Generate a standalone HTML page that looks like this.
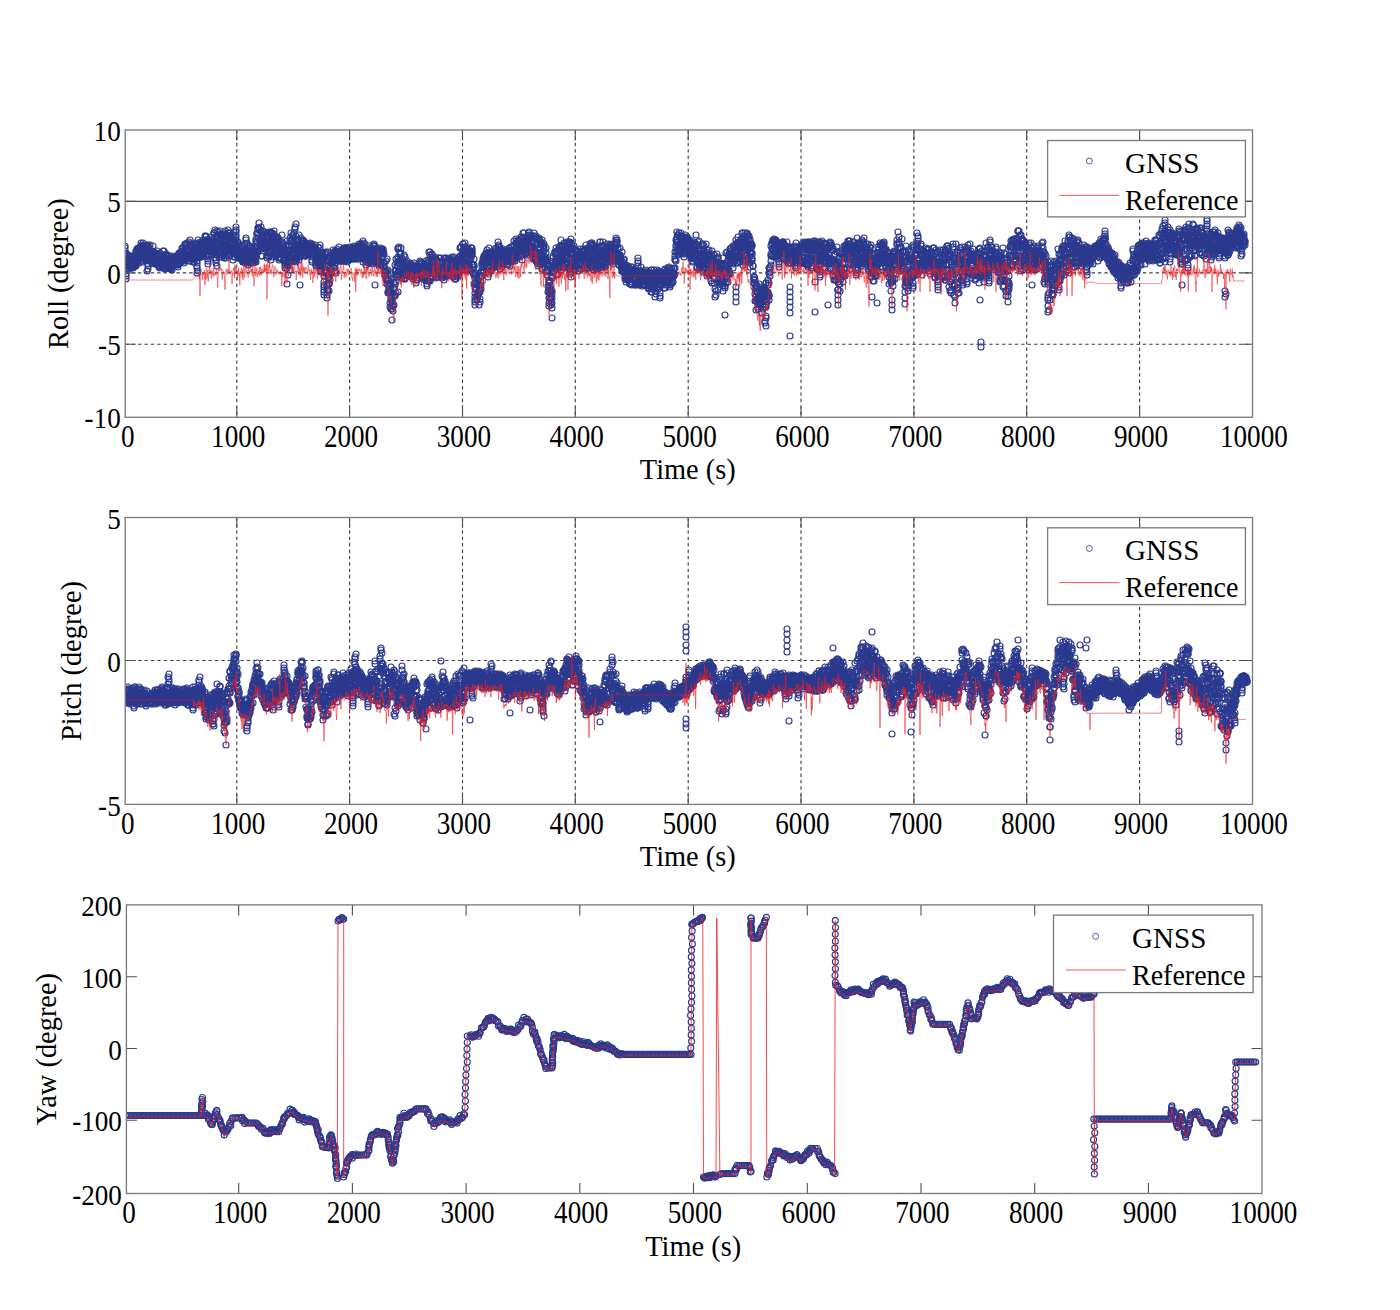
<!DOCTYPE html><html><head><meta charset="utf-8"><style>
html,body{margin:0;padding:0;background:#fff;overflow:hidden;width:1400px;height:1310px;}
.tt{font-size:28.4px}.tk2{font-size:28.4px}.lg{font-size:28px}
svg{display:block;font-family:"Liberation Serif",serif;font-size:27.5px;}
.gd{stroke:#3c3c3c;stroke-width:1.1;stroke-dasharray:3.4 3;fill:none}
.gs{stroke:#505050;stroke-width:1.1;fill:none}
.tk{stroke:#505050;stroke-width:1.1;fill:none}
.ax{stroke:#7c7c7c;stroke-width:1.35;fill:none}
rect.ax[fill]{fill:#fff}
</style></head><body>
<svg width="1400" height="1310" viewBox="0 0 1400 1310">
<defs><clipPath id="c0"><rect x="125.2" y="130" width="1127.3" height="287.3"/></clipPath><clipPath id="c1"><rect x="125.2" y="517.5" width="1127.3" height="286.9"/></clipPath><clipPath id="c2"><rect x="126.4" y="904.9" width="1135.6" height="288.6"/></clipPath><marker id="m" markerUnits="userSpaceOnUse" markerWidth="10" markerHeight="10" refX="5" refY="5" overflow="visible"><circle cx="5" cy="5" r="3" fill="none" stroke="#2b3a8e" stroke-width="1.15"/></marker></defs>
<line x1="236.8" y1="130" x2="236.8" y2="417.3" class="gd"/>
<line x1="349.6" y1="130" x2="349.6" y2="417.3" class="gd"/>
<line x1="462.5" y1="130" x2="462.5" y2="417.3" class="gd"/>
<line x1="575.3" y1="130" x2="575.3" y2="417.3" class="gd"/>
<line x1="688.2" y1="130" x2="688.2" y2="417.3" class="gd"/>
<line x1="801" y1="130" x2="801" y2="417.3" class="gd"/>
<line x1="913.9" y1="130" x2="913.9" y2="417.3" class="gd"/>
<line x1="1026.7" y1="130" x2="1026.7" y2="417.3" class="gd"/>
<line x1="1139.6" y1="130" x2="1139.6" y2="417.3" class="gd"/>
<line x1="125.2" y1="201.4" x2="1252.5" y2="201.4" class="gs"/>
<line x1="125.2" y1="272.9" x2="1252.5" y2="272.9" class="gd"/>
<line x1="125.2" y1="344.3" x2="1252.5" y2="344.3" class="gd"/>
<g clip-path="url(#c0)"><path d="M125 251l0 3 0-6 0-2 0 19 1-5 0 6 0 10 0-18 0 9 0-4 0 6 0 10 0-8 0-10 0-6 0 9 0 10 1-20 0 8 0-7 0 10 0 1 1-8 0 4 0 2 0-6 0 4 1 7 0-10 0 8 0-2 0-6 0 2 1-2 0-3 0 5 1 7 0-3 0-8 0-1 0 8 0-7 1 2 0-2 0 3 0 7 0-7 1 1 0 7 0-8 0 6 0-2 0-7 1-1 0 6 0-4 0 9 0-4 0-4 1 2 0-5 0 7 0 2 1-13 0-1 0 7 0 2 0 6 0-1 1-8 0 5 0-13 0 8 1-8 0-1 0 5 0 4 0 0 0-2 0-2 1 2 0 5 0-6 0 9 0-15 0 12 1-11 0 1 0 3 0-5 1-5 0 8 0-5 0 9 0-6 1-4 0 12 0 4 0-7 1 3 0-4 0 9 0-10 0 1 0-7 0-3 1 4 0 11 0-8 0-1 0-3 1 6 0-1 1 5 0-11 0 8 0 8 0-10 0 9 0-10 1 10 0-13 0-1 0 4 0 9 0 12 0-17 1 12 0-21 0 1 0 18 0 5 0-16 0-2 1 7 0-9 0 7 0 0 0-3 0 4 0-4 1 2 0-10 0 4 1 7 0-1 0 6 0-7 0 6 0-3 0-6 1 4 0-1 0 9 0 0 1-4 0-4 0-9 0 13 0 4 0-9 1 3 0-5 0 9 0 0 1-6 0 0 0 7 0-8 0 2 0 8 0-10 0 8 1 2 0-11 0 6 1-8 0 4 0 0 0 5 0 0 1 3 0-5 0 4 0 3 0-6 1 4 0-1 0 4 0 1 0-4 0 3 1-9 0-4 0 2 0 13 0-2 0-7 1-3 0 2 0 6 0-8 0 1 1 4 0-1 0-1 0 1 0-2 0 6 1 2 0 0 0-6 0-9 1 0 0 7 0 3 0 7 0-7 0 2 0-5 1 10 0 1 0 0 1-3 0-6 0 7 0-4 0-9 1 1 0 0 0 10 0 2 0-4 1-7 0 12 0-5 0-1 0-3 1 6 0 3 0-10 0-2 0 2 0 3 1 8 0-8 0 5 0 0 0-9 1 4 0 7 0-2 0 3 1 1 0-9 0-4 0 6 0-7 1 8 0-3 0-1 0 5 0 0 0-3 0 0 1-1 0 2 0-5 0 3 0 1 1 3 0-5 0-3 1-1 0 4 0-2 0 3 0 3 0-2 0-3 0 2 1-5 0 8 0 1 0-5 1 2 0 5 0-8 0-3 0 6 0 3 1-10 0 6 0-6 0 1 0-3 1 9 0 0 0-8 0 0 1 7 0-9 0 8 0 2 0-9 0 5 1-7 0 9 0-5 0-7 0 5 1 7 0-9 0 5 0 5 0-9 0 0 0-4 1 4 0 2 0 9 1-2 0-3 0-3 0-8 0-3 0 1 0 13 1-6 0-7 0 12 0-8 1 9 0-1 0 0 0-1 0-13 0 13 1 0 0 1 0-5 0 7 0-12 0 9 1-7 0 12 0-19 0 13 0-5 1-10 0 17 0 4 0-3 0-13 0 1 0 8 1-10 0 0 0 10 0-9 1 10 0 3 0-12 0 1 0 0 1 9 0 3 0 3 0-5 0-6 1 11 0-3 0-3 0-4 0 5 0-12 1 0 0 12 0-4 0-1 0 1 1 5 0-5 0-9 0 7 0 2 0-10 1 4 0 21 0-24 0 22 0-15 0 22 0-10 0-2 0-10 1 1 0 6 0 13 0-18 0-13 0 6 1 3 0-4 0 12 0-1 0-6 0-1 1-7 0 8 0-2 0 5 0 2 0-9 0-2 1 13 0 0 0-3 1-12 0 14 0-5 0-2 0 7 1-16 0 3 0 12 0-7 0 5 1-2 0-2 0 4 0-2 0-8 0 3 1-2 0-4 0-4 0 11 1-10 0-1 0 8 0 12 0-11 0-3 0 4 1-6 0 8 0-7 0 5 0 1 1 17 0-3 0-13 0 9 0-10 0 12 0-5 1-9 0-6 0 17 0-16 1 5 0-4 0 3 0 3 0-2 0 6 0-1 1-9 0 4 0 2 0-10 0 18 1-13 0-1 0 9 0-1 0 1 0-3 1 6 0-10 0 9 0-1 0-8 0 0 1-2 0-8 0 14 0-14 1 4 0 15 0-2 0-20 0 28 1-19 0 4 0 17 0-10 0-5 0 18 0-11 0 8 1-29 0 24 0 11 0-31 0 13 0-8 1 13 0-9 0-6 0 13 0-19 1 25 0-7 0-7 0-2 0 4 1-14 0 8 0 15 0-2 0 1 1-18 0 8 0 8 0-17 0 1 0 5 1-4 0 9 0-2 0 14 1-12 0 10 0-10 0 1 0 2 1-11 0-4 0 8 0 17 0-6 0-17 1 9 0 1 0-4 0 15 0-25 1 4 0 23 0-11 0-11 0 9 0 4 1-12 0 18 0-9 0 0 1-10 0-6 0 3 0 0 0 5 1 11 0 6 0-4 0 1 0-13 0 17 1-7 0-10 0 6 0-12 0 17 1-3 0 1 0-11 1 5 0 10 0-13 0 4 0-4 0 4 0 7 1-1 0 11 0-11 0-14 0 16 0-12 0 14 0-4 1-12 0 20 0-25 0 20 0-9 0-3 0 4 1 8 0 5 0-13 0 8 1-8 0 10 0-19 0 19 0-4 0-13 0-5 0-2 0 10 0-13 0 22 1 6 0-4 0 1 0-6 0 3 1 5 0-12 0 1 0 15 0-3 0-4 1 2 0 2 0 2 0 1 0-1 0-12 1 1 0 0 0 2 1 11 0-3 0-7 0 7 0 0 0-1 0-2 1-1 0 4 0 0 0 0 1-10 0 12 0 4 0-1 0 1 0-9 1 6 0 2 0-4 0-6 0 2 1 9 0-10 0-8 0 6 0 5 1 8 0-9 0 5 0-1 0 4 0-22 0-2 1 24 0-7 0-12 0 19 0-17 0 16 1 4 0-3 0 0 0 1 0-9 0-2 1 6 0-1 0-11 0 9 0-4 0 0 1-3 0-2 0 15 0-13 1 4 0 5 0-1 0-7 0 14 0-7 1 0 0 7 0-13 0 11 0-4 1-7 0 6 0 4 0-1 0 2 1-6 0 3 0-7 0 4 0-2 0 8 1-10 0 9 0 2 1 0 0-5 0-14 0-2 0 8 0 5 0-15 1 7 0-13 0 9 0-8 0 17 0-4 1-19 0 0 0 9 0-4 0 19 1-29 0 7 0-1 0-1 1 19 0-2 0-5 0 0 0 9 1-2 0-20 0 16 0 13 0-15 0-10 1 25 0-12 0-2 0 3 0-7 0 1 1 5 0-1 0-9 0 14 0-17 1 16 0-15 0 8 0 0 0 2 1 3 0 4 0-15 0 14 0-14 0 11 1-3 0 3 0 0 0-9 1 0 0 5 0 14 0-11 0 14 0-10 0-14 1 8 0 3 0 7 0 4 1-10 0-14 0 1 0 24 0-12 1 9 0-2 0-8 0-1 0-9 1 14 0 4 0-19 0-1 0 28 1-5 0-22 0 6 0 5 0-7 0 2 1 1 0-5 0 22 0-7 1-11 0 15 0-8 0-15 0 10 0-7 1 4 0 16 0-11 0 0 1 6 0 1 0 3 0 3 0-4 0-14 0 1 1 7 0-3 0-6 0 7 1 4 0-10 0 0 0 5 0 4 1 10 0-16 0 8 0 11 0-2 0-4 0 4 0-9 1-1 0-2 0 12 0-9 1-4 0 13 0-8 1 5 0-12 0 6 0 0 0-7 0-7 0 14 1 0 0 3 0-6 0 8 1 6 0-16 0 5 0 12 0-2 0-6 1 2 0 13 0-3 0-2 0-13 1 5 0-9 0 7 1 10 0 5 0-5 0-1 0 22 0-30 0 0 0-13 1 9 0 25 0-10 0 1 0-11 1 7 0-4 0-12 0 13 0-5 1 2 0-5 0 19 0-32 0 12 0-9 1-8 0 25 0-18 0 7 0 15 1-5 0-16 0-5 0 5 1 13 0-9 0 5 0-1 0-14 0 25 1-18 0 19 0-13 0 5 0-15 0 16 0-21 1 28 0-34 0 27 0-25 0 21 0-3 0 8 1-31 0 12 0 26 0-4 1 1 0-11 0 9 0-2 0-15 1 16 0-15 0 14 0-16 0 9 0-4 1 9 0-3 0-4 0 14 0-13 0-12 1 21 0-9 0 6 0 32 0-28 0-12 1-2 0-5 0 9 0 2 0 6 0-6 1-8 0 3 0 7 0-10 0 4 1-4 0 2 0-3 1 7 0 5 0-9 0-2 0 11 0-7 0 3 1 8 0 0 0-3 0 2 0-7 0 7 1 1 0-12 0 1 1 7 0-4 0 6 0-1 0-5 1-4 0 4 0-4 0 9 0-2 0-1 0-4 1-1 0 7 0-5 0 1 0-2 1 4 0-1 0-6 0 9 0-5 1 4 0-5 0 4 0-6 0 2 0 3 1-5 0 16 0 2 0-9 0-5 0 5 1 2 0-1 0 3 0 0 0-10 1 0 0 3 0-3 0 6 0-5 0 2 1-2 0 2 0-5 1 15 0-2 0-9 0 12 0 5 0-1 0-2 0-2 1-4 0-6 0 5 0 2 1 2 0 2 0-15 0 11 0-1 1 8 0-5 0-2 0 8 0 0 0-11 1 9 0-19 0 20 0-17 0 6 0 10 0 4 1-13 0 17 0-7 0 1 0 5 1-9 0 0 0-3 0 7 0-14 0 1 0 7 1 3 0-8 0 6 1 29 0-22 0 24 0-30 0 25 0 8 0-13 0-6 0-4 0 13 0-28 1 16 0-2 0-18 0 12 0 6 1-17 0-2 0 9 0 0 0 11 0 0 0-17 1 35 0 5 0-11 0 14 0-12 1-21 0 25 0 0 0-38 0 26 0-21 1 17 0 3 0 7 0-1 0 8 0-7 1-9 0 5 0-23 0 11 1 5 0 0 0-12 0 2 0 9 0-2 1-16 0 5 0 8 0-4 1-5 0 5 0-4 0 2 0-4 0-7 0 9 1-7 0 9 0-5 0 12 0-15 0 6 1-8 0 20 0-18 0 6 0 7 0-5 0-9 0 11 0-10 1 20 0-22 0 1 0 2 0 3 0-2 1-1 0 0 0 0 0 1 0 2 0-8 1 5 0-3 0 6 0 1 1 3 0-4 0-4 0 6 0-12 0 8 0-3 1 9 0-3 0 1 0-3 1-5 0 0 0 4 0-1 0 7 1 0 0-3 0 0 0 3 1-3 0-1 0-7 0-1 0 12 0-2 1-5 0 1 0 2 0-9 0 2 0 7 0 3 1-8 0-4 0 13 1-12 0 8 0-9 0 6 0 2 0-6 0 0 1-2 0 7 0 7 1-1 0-1 0-1 0-11 0 4 0 3 1-3 0 5 0-5 0 2 0 1 0-4 1-4 0 12 0-1 0-8 0 7 1-5 0 7 0-11 0 6 0-1 0 3 1 3 0-11 0 9 0-4 1 0 0 6 0-6 0-3 1 3 0-2 0 6 0-7 0-3 0-1 1 4 0 0 0 8 0-9 0 3 0 2 1-1 0-1 0-4 0 11 0 0 1-7 0-5 0 7 0-2 0-5 1 4 0 5 0 3 0-9 0 5 0-1 0-7 1 0 0 1 0-4 0 2 1 9 0-1 0-5 0 0 0 9 0-4 1-10 0 0 0 10 1-2 0-4 0 8 0-11 0 4 0-2 0 6 1-6 0-4 0-2 0 13 0 4 0 4 0-3 1-5 0 0 0-6 0 9 1 3 0-16 0 12 0 4 0-7 0-1 1-1 0 0 0 14 0-10 0 7 0-14 0 9 1-7 0 0 0 4 0 0 0 6 1 0 0-3 0 1 0-3 0 4 0 2 0 2 1-4 0-8 0-5 0 7 1 3 0-7 0 4 0-3 0 0 0 12 0 1 1-7 0-8 0 6 1 3 0 2 0 5 0-14 0 10 1-7 0 4 0-2 0-10 0 3 0 13 1-4 0-1 0-10 0-2 0 8 1 0 0-6 0 16 0 23 0-29 0 2 1 5 0-13 0 6 0-6 0 12 1-10 0 4 0 4 0-9 0 10 0-9 1 11 0-12 0 0 1-1 0 12 0-7 0 11 0-5 0 3 0-3 1 3 0-10 0-6 0 3 0 10 1-7 0 0 0-5 0 13 0 3 0-1 1-15 0 3 0-1 0 7 1-7 0-2 0 4 0-2 0 2 1 9 0-8 0 12 0-3 0 3 1 6 0-2 0 6 0 0 0-6 1 2 0 1 0 6 0-3 0-3 0-12 1-2 0 12 0 13 0-5 1-9 0 4 0 19 0-13 0 12 0-7 0-5 1 11 0-8 0 10 0-4 1-3 0 4 0-1 0 14 0-20 0 24 1-16 0-6 0 14 0-1 0 11 1-13 0 9 0 4 0-7 0-1 0 19 1-14 0 0 0 5 1-22 0 7 0 9 0-27 0 4 0 6 1-13 0 10 0-14 0 24 0-30 0 31 1-25 0 22 0-22 0 6 0-18 0 23 1-7 0-9 0 8 0-11 1-6 0-8 0 43 0-44 0 18 0-7 0 13 1-1 0-10 0-14 0 25 0-9 1 1 0-4 0-6 0-1 0 7 1-12 0 5 0 21 0-13 1-3 0 1 0 12 0 5 0 2 0-11 1 8 0-11 0 9 0 3 0-14 1 3 0-10 0 16 0 2 0 6 1-9 0 8 0-4 0 5 0-8 0-3 0-11 1 14 0-4 1-6 0 14 0-10 0-2 0 5 0 3 0 0 0-7 1 3 0 2 0 7 1-1 0-11 0 10 0 0 0 2 1-6 0 5 0-2 0-10 0 13 0 0 0-5 0 2 1-3 0 5 0 2 0-1 0-8 1 5 0-7 0 2 1 6 0 2 0-3 0-3 0 9 0-14 1 4 0 2 0 6 0-4 0-10 0 9 1 0 0-1 0-1 1-2 0 0 0-2 0 9 0 0 0-8 0 13 0 3 0-18 1 4 0 11 0-6 0-1 0 1 0-3 1 2 0 0 0-3 0 3 1 2 0-4 0-2 0-1 0-1 1 0 0-1 0-2 0 4 0 3 0-10 1 11 0 1 0 3 0-14 0 1 0 1 1 13 0-4 0 5 0-15 1 7 0 4 0 2 0 3 0-13 1 4 0-5 0 2 0 11 0-13 1 10 0-5 0 8 0-7 0 4 0-11 0 12 1-15 0 19 0-7 0 8 0-14 1 11 0-4 0 1 0 9 0 2 0-23 0 5 1 3 0 10 0-21 0 14 0-8 1 15 0-7 0-12 0 6 0 3 0-19 1 16 0 13 0-3 0-26 0 3 1 9 0 9 0-5 0-8 0 6 1 12 0-8 0 2 0-17 0-1 0 13 0-9 1 9 0-8 0 3 1 6 0 0 0-7 0 12 0-13 0 13 1-16 0 11 0 1 0 6 1-1 0 4 0-19 0 7 0 9 0-5 1 7 0-11 0 5 0-10 0 13 1-11 0-2 0 12 0-1 0-4 1-10 0 19 0-19 0 16 0-7 0 4 1 0 0-8 0 10 0-4 1 0 0-1 0-10 0 17 0 0 0-7 1-3 0-2 0 9 0 6 1-3 0-3 0-5 0 1 0 2 0 0 0 0 0 1 1-5 0 8 0-16 0 22 1-22 0 18 0-9 0 10 1-13 0 3 0 2 0 3 0-14 0 10 0-6 1-1 0 10 0 4 0-12 1-5 0 13 0-10 0 13 0-10 0 12 1-14 0 13 0 0 0-4 1 3 0-2 0-5 0 6 0-13 1 13 0-14 0 10 0 0 0-9 1 11 0-5 0-9 0 12 0-4 0 5 1-12 0 11 0-1 0 9 1-14 0-3 0 5 0 8 0 2 0-6 0-12 1 18 0 1 0 3 0 0 1 0 0-13 0 2 0 9 0-6 0 2 0-10 1 8 0-7 0 9 0-4 0 4 1-11 0 2 0-1 0-3 0 16 1-8 0 6 0-8 0-1 0 10 1-8 0-10 0-1 0 5 0-13 1 17 0-18 0 0 0 12 0-1 0 5 1-9 0 11 1-21 0 11 0 3 0-14 0 11 0-5 0 3 1 17 0-21 0 5 0 10 1-17 0 4 0-4 0-4 0 27 0-13 0-8 0 2 1 7 0 9 0-1 0-3 1 7 0-1 0-10 0 12 0 0 1-12 0-11 0 6 0-1 0 8 0-9 1 15 0-1 0-14 0 15 0-3 1-9 0-4 0 0 0 2 0 7 0-1 1-11 0 4 0 6 0-10 1 0 0 7 0-3 0 2 0 11 0-14 1 14 0 8 0-8 0 4 1-4 0-6 0 15 0-7 0 17 0-9 1 3 0-5 0 10 0 10 0 12 0-8 0 3 0-27 0 15 0 14 1-20 0 1 0-7 0 13 0 1 1 6 0 4 0-1 0-14 1 10 0-2 0-13 0 14 0-10 0 12 1-11 0 8 0-3 0 15 0-27 0 7 1 14 0-7 0 10 0-13 1-16 0 16 0-4 0-13 0 4 0 6 1-19 0 8 0 5 0-12 0 3 1 3 0-6 0-2 0 2 0-5 1 12 0-5 0-5 0-5 0 6 0-5 0 1 1-1 0-2 0 5 1 0 0-6 0-1 0 10 1-4 0-9 0 11 0 0 0 0 0 0 1-1 0 5 0-8 0 15 0-4 0-12 0 21 0-21 1 11 0-6 0-13 0 26 0-7 0-15 0 1 1 8 0 7 0 0 1-14 0 12 0 5 0-10 0-9 0 14 0 4 1-8 0-2 0-2 0 2 0 2 1 0 0-9 0 8 0 3 0-9 0 13 1-10 0 8 0-8 0 4 1-11 0-2 0 12 0-5 0-2 1 5 0-5 0-6 0 17 0-12 0 2 1 8 0 1 0-1 0 4 1-17 0-1 0 14 0-16 0-5 0 13 0 11 1-13 0-8 0 19 0-17 0 8 0-4 0 2 0-6 1 3 0 8 0 0 0 7 0 4 1-7 0-3 0 2 0 3 1-3 0-10 0-1 0 17 0-12 0 9 1-15 0 4 0 0 0 12 0-4 1-1 0-9 0 4 0 5 0-7 0-3 0 10 1-5 0 6 0-5 1 5 0-7 0-3 0 7 0-4 0 2 1 2 0 0 0 3 0-5 0 8 1-5 0 6 0-11 0 0 0-3 0 4 0-5 1 7 0 3 0 2 0-14 1 5 0-3 0 16 0-15 0 0 1 11 0-10 0 5 0-10 0 9 1-9 0 13 0-3 0-1 0 4 0-4 1-2 0-1 0 8 0-9 1 0 0-11 0 14 0-10 0 14 0-3 1 1 0 4 0-2 0-10 1 9 0-15 0 12 0-16 0 8 1-2 0 12 0-6 0-8 0 8 0-8 1 4 0-7 0 1 0 3 1-4 0 9 0 7 0-14 0 8 0 6 1-1 0-6 0 8 0-1 0-16 0 11 1-2 0-3 0 7 0 1 0-17 0 15 1 8 0-17 0 12 0-17 0 7 1 1 0-13 0 18 0-2 1-6 0-6 0 14 0-18 0 14 1-6 0 1 0-4 0 16 0-10 0-6 1 6 0 9 0 0 0-13 1 12 0-4 0 3 0 4 0-15 0 9 1-3 0-6 0 13 0-17 0 3 1 1 0-5 0-3 0 1 0 16 0-5 1-7 0 14 0-12 0 9 0 3 1-16 0 17 0-5 1-10 0 15 0-9 0 5 0-1 0 5 0-11 0 0 1 10 0-5 0 8 0-2 0 7 1-9 0 8 0-22 0-3 0 17 1-13 0 17 0 4 0-8 0 9 1-1 0 1 0 2 0-16 0-6 0-3 1 19 0 7 0-7 0-16 0 4 1 21 0-3 0-2 0 7 0-9 1-19 0 11 0-10 1 17 0-13 0 0 0 21 0-23 0 12 0-6 0 16 1-20 0 2 0 8 0-11 1-2 0 22 0-7 0 14 0-26 1 3 0 10 0 9 0-5 0-8 0 7 1-10 0-3 0 5 0 12 0-19 1 15 0 1 0 0 0 8 0-11 1 4 0-2 0 4 0-15 0 5 0 19 1-1 0-6 0-4 0 9 0 5 1-11 0 28 0-21 0 15 1 12 0-16 0-2 0 23 0 3 0-18 0-5 0 8 1 2 0-7 0 11 0-15 0 8 1 12 0-13 0 9 0 7 0-14 0 9 0-8 1 11 0 5 0-32 0-4 0 46 0-20 0-4 0-16 0-9 0 9 0-2 0 15 1-33 0 10 0-2 0-3 0-7 1 9 0 2 0-1 0 5 1-4 0-4 0-11 0 2 0-2 1 11 0-2 0-13 0 13 0-9 0 7 0 10 1-11 0-4 0 12 0 1 0 8 1-25 0 24 0-6 0-14 1 13 0 1 0-11 0 9 0-3 0-4 0-12 1 11 0-12 0 4 0 5 1-15 0 21 0 2 0 7 0-3 0-21 1 16 0-15 0-1 0 5 0 9 0-9 1 1 0 7 0-11 0 12 0-5 1 12 0-24 0 17 0 8 0-8 0-15 1 10 0-3 0 1 0 11 1-2 0-7 0-4 0-1 0 14 1 4 0-4 0-6 0 8 0-24 0 8 0-2 1 4 0 12 0-18 0-3 1-1 0 1 0 7 0 0 0 10 1-6 0-10 0-2 0 27 0 0 0 5 0-29 1 14 0 10 0 8 0-29 0 18 0-27 0 33 1-28 0 11 0 3 0 5 0 0 1-1 0 5 0-19 0 13 0-7 0 4 0-5 0 12 1-19 0 20 0 4 0-8 1 8 0-16 0-4 0 20 0-3 1-6 0-5 0 2 0 8 0-16 1 6 0 4 0-5 0-4 0 1 0 4 1 15 0-11 0-8 0 6 1 6 0-1 0 2 0-8 0 3 0-2 1-6 0 12 0 5 0-1 0-5 0-14 1 7 0 0 0 8 0-7 1-2 0 11 0-14 0 4 1-7 0 8 0 1 0 10 0-7 0-10 0 1 1 6 0 8 0 0 0-14 1 5 0 12 0-11 0-8 0 12 0-13 1 12 0-7 0 3 0-2 0-10 1 23 0-7 0 7 0-10 1 1 0-10 0-1 0 11 0 9 1-9 0-2 0 11 0-20 0 3 0 12 0-7 1 9 0-6 0-8 0-7 0 22 0-1 1-22 0 22 0-16 1 1 0 16 0-21 0-2 0 2 1 8 0-8 0 22 0-4 0-13 1 4 0 16 0 0 0-6 0-18 0 12 0 2 1-3 0-5 0-1 0 17 1-6 0 1 0 6 0-9 0-5 0 4 0 2 1 5 0-5 0-12 0-1 0 9 1-4 0 16 0-19 0 17 0-4 1 1 0-17 0 18 0-11 1 13 0-25 0 14 0-14 0 4 0 21 0-16 0 14 1-9 0-3 1 4 0 4 0-15 0 1 0 20 0-1 0-11 1 8 0-17 0 0 0-4 0 14 1-1 0 12 0-11 0 11 0-3 0-14 1 4 0 11 0-2 0-6 0 10 1-5 0-9 0 1 0-5 0 16 1-16 0 3 0-8 0 8 1 8 0-11 0-2 0 8 1-5 0-4 0 14 0-8 0-2 0 8 1-13 0 11 0-12 0 6 0-2 1-3 0 3 0 12 0-8 0-2 0-4 0 15 0-7 1 4 0-1 0 5 1-5 0 7 0-11 0 0 0 3 0 3 1-15 0 13 0 3 0-10 1 0 0-2 0 0 0 5 0-9 0 8 1-14 0 4 0 10 0-12 0 5 1 10 0-15 0 2 0 3 0 16 1-1 0-1 0-1 0-4 0-6 1 8 0-1 0 5 0 5 1-3 0-4 0 4 0-3 0-11 0 7 0 0 1 4 0 5 0-5 0 8 0-6 1-9 0 16 0 2 0-2 0 3 1-5 0-4 0 10 0-1 1 0 0-4 0 5 0-6 0 4 0-11 0 1 0 7 1 1 0 9 0-11 0 13 1-13 0 16 0-9 0 4 0-12 0 5 1 9 0-8 0 6 0 3 1-7 0 6 0-13 0 14 0-8 0 0 1 7 0-11 0 11 0-6 1-2 0 13 0-8 0 8 1-13 0 13 0-17 0 8 0-4 0-2 0 10 1 6 0-3 0-12 0-3 0 8 0-5 1 9 0 1 0-6 0-1 1 0 0-3 0 10 0-2 0-5 1-1 0 1 0-2 0 6 0 2 0 6 1-10 0 3 0 0 0 7 0-14 1 12 0-13 0 1 0 4 0 9 1-12 0-14 0 16 0-11 0 13 0-10 0-5 0 23 1-7 0-3 0 11 0-7 0 6 0-7 1 6 0-11 0-1 0 6 0 8 0-12 1 4 0-6 0 3 0-7 0 9 1 0 0 3 0-2 0-6 0 11 0 4 1-12 0 6 0-7 0 1 1 10 0 0 0-8 0 9 0-9 1 9 0-10 0 10 0-5 0 0 1-3 0-5 0 0 0-2 0 3 0 5 1-5 0-1 0 7 0-4 0 7 0-9 1 11 0 4 0-4 1 2 0 3 0-15 0 12 0-5 0 7 0-14 0 9 1-2 0-6 0-2 0 10 1 3 0-16 0 9 0 13 1-22 0 19 0-7 0 10 0-19 0 6 1-2 0 4 0-4 0 1 0 7 1-5 0-10 0 19 0-16 0 2 0 12 0-11 1 5 0 2 0 14 0-6 0-6 1 9 0-15 0-6 0 8 0-4 1 3 0 5 0-15 0 13 0-5 0 9 1-14 0-1 0 0 0 8 0 9 0-9 0-6 1 1 0 6 0-10 0 9 1 18 0-5 0-9 0 1 0 11 0-11 0-1 1-5 0-1 0 6 0-10 0-2 0 5 1-2 0 4 0 1 0-1 0 6 0-5 0-5 1 2 0 0 0-3 1 8 0-9 0 15 0-5 0-10 0 12 1-13 0 16 0-18 0 5 0-6 0 1 1 10 0-2 0-4 1-2 0 10 0-6 0 5 0 4 0-11 0 2 1 5 0-13 0 0 0 1 0 12 1 2 0-8 0-8 1 18 0-14 0-1 0 17 0-2 1-9 0 2 0-8 0 0 0 14 0-7 0 0 1-1 0 7 0-1 0-6 0-7 1 13 0-6 0-2 0 3 1-3 0 1 0 0 0-2 0-5 0 8 0-7 1-10 0 1 0-8 0 16 0-12 1-11 0 16 0-21 0 8 1 3 0-19 0 20 0-15 0 5 0-2 1 15 0-13 0-7 0 10 0-10 1-2 0 19 0 2 0-10 0 2 0 4 1 2 0-6 0-2 0 3 0-10 1 4 0-8 0 3 0 15 0-4 1-9 0 6 0 6 0 4 0-6 0 3 1-3 0-11 0 12 1-12 0 8 0 4 0-6 0 6 0 8 1-10 0-3 0-9 0 18 0-8 0 9 0-3 1-3 0-1 0-9 0 10 1-11 0 4 0 10 0-4 0 5 1-3 0 0 0-10 0 2 0-2 1 4 0 11 0-5 0-2 0-3 1 6 0-10 0 9 0-7 1 16 0-3 0-4 0-1 0 6 0-9 0 5 0-9 1 14 0-3 0 0 0-2 0 10 1-9 0 4 0 0 0 4 1-15 0 13 0-17 0 16 0-14 1 2 0 5 0-6 0 5 0-7 1-8 0 18 0 0 0 0 0-9 0 13 1 10 0-22 0 15 0 1 0 7 1-8 0-7 0 7 0-18 0 9 1 0 0 13 0-15 0-8 0 9 0 15 0 4 1-3 0-8 0 0 0 10 1-14 0 4 0 7 0-16 1-5 0 19 0-2 0-6 1-4 0 13 0-20 0 24 0-7 0 11 0-7 1-2 0-17 0 21 0-16 0 6 1-2 0 1 0-2 0 14 0-7 1-7 0-10 0 16 0 4 0 6 0-13 1-7 0 2 0 21 0 3 1-6 0 0 0-16 0 2 0 7 1-3 0-3 0-7 0 13 0 7 0-5 0 10 1-21 0 11 0 8 0 1 1-20 0 19 0-2 0 10 0-12 1-4 0-3 0 4 0-6 0 23 0-25 0-7 1 20 0-11 0 5 0-3 0 1 1-8 0 24 0-15 0-9 0 28 1 6 0-28 0 12 0 24 1-2 0-32 0 28 0-29 0 2 0-6 0 13 1-4 0-1 0 4 0-16 0 8 0 3 1-7 0 22 0-15 0 9 0-17 0 33 1-27 0 19 0-12 0-2 0 15 1-4 0 4 0-11 0-3 0 4 1-3 0 13 0-18 0 6 0-8 1 19 0-17 0 15 0 2 0-18 0 18 1-24 0 33 0-13 0 8 0-2 1-19 0 6 0 0 1-3 0 18 0-21 0 50 0-27 0-9 0-7 1-4 0 3 0 12 0-6 0-24 0 10 1 13 0-10 0 4 0-2 0 11 0-27 1 22 0-14 0 22 1-26 0 0 0 18 0-4 0-16 0 18 0-18 1 8 0-13 0 25 0-14 1-7 0 0 0 7 0-3 0-9 0 1 0 14 0-12 1 6 0 2 1-1 0 10 0-10 0 3 0-7 0-8 0 18 1-7 0-1 0-4 1-5 0 0 0 3 0-4 0-1 0 16 0-8 1-3 0 8 0-8 0 37 0 5 0 5 0 5 0-62 0 13 1-1 0 11 0-19 0-1 1 13 0-4 0 5 0 6 0-17 0-9 1 24 0-5 0-13 0 13 0-8 0-1 0-5 1 12 0 5 0-17 0 20 1-23 0 9 0 6 0-9 1 1 0-7 0 1 0-7 0 14 0 7 1-8 0-13 0 29 0 3 0-6 0-15 0 2 0 13 1-14 0-9 0 19 0-17 1 9 0 2 0-16 0 20 0-15 0 22 1-14 0 8 0 7 0-18 0-6 1 18 0-21 0 5 0 17 0-20 0-3 1 26 0-15 0 6 0-14 1 24 0-24 0 4 0 8 0-4 1 23 0-4 0-24 0 17 0-4 0-7 1-2 0 5 0-1 0 5 1-6 0 12 0 3 0-2 0-5 0-9 0 8 1 13 0 6 0-6 1 11 0 0 0 6 0-3 0-1 0 4 0-6 1 3 0 14 0 7 0-13 1 13 0-10 0-5 0 11 0-13 0 26 0-9 1-15 0 6 0 7 0-7 1 12 0-2 0 7 0-16 0 14 1-8 0-4 0 1 0 2 0 2 0-16 1 21 0 0 0-10 0 4 0 5 0-17 1 3 0 2 0 11 0-4 1 0 0-8 0 22 0-24 0 12 1-5 0-7 0 20 0-15 0 13 1-18 0 8 0-10 0 1 0 8 1 4 0 7 0-17 0 0 0 31 0 2 1-40 0 8 0-8 0 33 0 10 0-29 0 21 0-13 0-5 0 7 0-7 1-6 0 2 0-3 0 9 0-9 1-1 0-12 0 17 0-17 0 5 1 15 0-4 0-13 0 12 0-27 0 5 1-1 0-5 0 9 0-7 1-8 0 4 0-9 0-10 0 8 1-11 0 13 0-7 0-6 1 6 0 2 0-11 0 1 0 14 0-5 0-2 1 9 0-15 0 0 0-3 1 8 0 2 0-9 0 16 0-15 1 8 0 5 0 3 0-9 0-3 0-5 0 5 0 0 1 7 0 3 0-12 0 12 1-5 0 1 0 5 0 3 1 3 0-17 0 19 0-12 0-9 0 16 0 8 0-17 1-2 0-5 0 8 0 1 0 0 0-8 1-1 0 7 0 8 0-13 1 4 0-6 0 4 0 0 0 2 0 2 1-9 0 0 0 5 0-5 0 5 1 5 0 2 0 5 0-10 0 9 0-14 0 6 1-4 0 2 1-2 0 1 0 0 0 11 0-4 0 6 1 1 0-2 0 1 0-10 0 0 0-8 1 13 0 8 0-4 0-4 0-3 0-4 1 11 0-11 0-1 1 0 0 7 0 9 0-3 0 27 0 5 0 5 0 5 0 5 0 6 0 23 0-84 0 11 0-14 0 7 1-5 0 12 0-11 1 4 0 1 0-5 0-5 0 10 1-4 0 5 0 0 0 4 0-1 1 0 0-2 0-7 0-1 0 8 0-12 1 11 0-12 0 8 0 12 0-7 0-5 0 4 0 5 1 0 0-20 0 25 0-20 1 5 0 1 0-1 0 8 0-14 0 3 1 10 0-7 0 2 0-4 0 3 0-4 1 3 0 4 0 2 0-5 0 5 1 2 0-13 0-1 0 15 0-4 1 3 0 2 0 0 0-2 1-3 0-12 0 11 0 5 0-13 0-5 1 17 0 0 0-14 0 8 0-3 1 10 0-15 0-1 0-1 0-3 1 1 0 2 0 2 0-4 0 21 0-7 1 6 0-10 0-8 0 3 1 10 0-16 0 2 0-1 0 22 0-15 1 14 0-7 0 2 0 0 0-4 0 12 0-2 1-15 0 8 0-16 0 8 1-4 0 15 0-12 0-7 0 8 1 16 0-12 0 6 0 8 0-24 1 15 0 9 0-24 0 4 0 13 0-11 1 4 0-11 0 20 0-15 1 7 0-12 0-1 0-1 1 6 0 4 0-10 0 19 0 22 0 30 0-59 0 6 1 3 0-18 0-1 0 15 1 11 0-22 0 13 0-6 0-9 0 24 0 0 1 0 0 0 0-20 0 8 0-15 1 23 0-13 0 8 0 6 0-5 1 9 0 2 0 3 0-29 0 13 0 3 0 15 0-28 0-7 1 1 0 6 0 3 0-2 0-6 0 2 0 5 1-1 0 6 0-15 0 17 1 3 0-8 0 9 0-4 1-8 0 5 0-12 0 6 0 6 0-7 0 1 0-5 1 10 0-10 0 24 0-12 0 3 1-10 0 15 0-20 0 18 0-7 1-8 0 10 0 0 1 48 0-58 0 1 0 23 0-13 0 6 1-21 0 20 0-2 0-6 0 8 0-1 1-15 0 17 0-22 0 27 1-26 0 2 0 5 0 13 0-18 0 16 0 7 0-22 1 18 0-5 1 2 0 0 0-11 0 0 0-2 0 28 1-21 0 25 0-18 0 1 0-2 0 2 1 5 0-7 0 3 0 12 0-22 0 26 0-18 1 2 0 8 0 8 1-16 0-17 0 19 0 8 0-22 1 38 0 5 0 5 0 5 0-15 0-8 0 8 0-11 0-5 0-12 1 12 0-10 0 20 0-16 1-11 0-6 0 40 0-16 0-3 0-4 0-15 0 31 1-17 0 12 0-11 0 9 1-22 0-1 0 0 0 4 0 14 0-20 1 30 0-18 0 9 1 1 0-6 0-22 0 23 0 7 0-19 0 0 1 19 0-17 0 4 0-15 1-2 0 2 0-3 0 4 0-3 0 5 1 17 0-16 0 3 0 3 0-4 1 1 0-9 0 19 0-21 0-3 1 10 0 2 0-6 0-6 0 3 1 15 0-18 0 9 0-6 0 25 0-24 1 13 0-12 0 18 0 1 0-5 1-4 0-6 0 0 0 7 1 2 0 6 0-9 0 0 0-6 0-4 1 0 0 8 0-4 0 13 0-21 1 11 0-6 0-1 0 6 0 13 0-4 1 2 0-13 0-2 0 27 0-29 0 22 0 2 0-24 1 27 0-18 0 9 0-20 0-6 0 24 1 8 0-2 0-21 0 10 0 2 0-16 0 22 0-15 1-7 0 1 0 19 0-14 1-4 0 16 0-3 0 1 0 5 0-20 0 0 1 22 0-8 0 4 1-22 0 9 0 0 0 7 0-9 0 5 0 1 1-8 0 15 0-18 0 10 0-10 1 20 0-4 0-20 0 6 1 20 0-12 0 4 0 3 0-9 1-3 0 5 0-8 0 15 0 3 1-9 0 11 0-4 0-1 0-5 1 8 0-10 0 5 0 12 0-14 0-11 0 22 1-15 0 20 0-11 0-4 1-9 0 19 0-14 0-4 0 10 1-13 0 32 0-15 0 5 0 4 0-3 1-8 0 12 0-19 0 44 0-29 0 9 1 4 0-7 0-3 0-16 0 16 1-11 0 21 0-13 1 5 0-15 0 3 0-8 0 20 0-15 0 18 1-11 0 10 0-13 0 14 0-17 0 8 1 2 0-6 0-3 0 43 0-50 1 11 0-11 0 18 0-24 0 9 0 7 1-6 0 6 0 1 0-15 0 4 1 6 0-4 0-12 0 24 0-22 1 0 0 8 0 1 0 2 1-1 0 1 0-11 0 15 0-16 0 6 0 8 1-12 0-3 0 7 0 5 1-7 0-6 0 2 0 5 0 9 0-1 1 4 0-5 0-6 0 7 0 5 0-7 1 11 0-17 0 6 0 17 0-4 1-5 0 11 0-12 0-10 1 15 0-7 0-8 0 18 0-6 0-8 1 7 0-5 0 19 0-10 0 17 1-21 0 4 0 7 0-15 1 32 0-10 0-12 0 14 0-10 0 6 1 3 0-13 0 1 0-13 0 1 0 2 0 40 0 5 0 5 1-56 0 5 0 22 0 5 0-7 0-13 1 7 0-12 0-10 0 1 0 2 1 13 0 12 0-14 0-7 0-6 1 1 0 21 0-10 0-3 0-1 1-16 0 0 0-4 0 15 1 6 0-6 0 12 0-35 0 16 1 7 0 3 0-21 0 7 0-2 0 23 1-17 0 14 0-4 0-2 0-8 1 15 0-7 0 5 0-8 0-6 0 24 1-32 0 30 0-5 0-2 1 9 0-19 0-1 0 15 0-10 0 13 1-18 0 6 0 11 0-2 0-6 1 19 0-27 0 6 0 34 0 6 0 6 0-42 0 24 1-40 0 6 0 31 0-6 0 9 0-4 1-4 0-2 0 4 0-18 1 20 0 9 0-3 0-21 0-17 1 36 0-28 0 7 0 9 0-15 0 14 1 1 0 7 0-22 0 19 0-18 0 20 1-11 0-13 0 4 0-1 0 12 0-19 1 8 0 17 0-30 0 7 1-9 0 26 0-11 0 5 0 12 0 9 0-3 0 5 1-41 0 15 0 10 0 4 0-15 0 10 1 2 0 0 0-19 0 1 0-1 1 1 0 20 0-20 0-9 0 21 1 2 0-21 0-15 0 22 0 9 0-19 0-1 1-6 0-2 0 5 0 24 0-7 0 9 0 7 1-23 0 10 0 6 0-7 0-9 0-2 1 14 0 4 0 2 1-4 0-10 0-11 0 10 0 16 0-19 0-5 0 3 1 7 0 14 0 5 0-19 1 9 0-14 0 10 0 0 0 7 1 1 0 1 0-19 0 3 0 7 0-3 1 0 0-3 0 7 0-4 1-10 0 13 0 1 0-8 1 11 0-8 0-8 0 13 0-8 0 8 1-7 0 5 0-10 0 13 0-10 0 14 0-7 1-11 0 7 0 6 0 5 1 4 0-11 0 5 0 9 0-15 1-4 0-3 0 7 0-7 0 16 1-7 0 3 0-7 0 3 0-2 0-5 0 1 1 11 0-17 1 15 0 10 0-7 0-10 0-8 0 19 0-7 1 6 0-13 0 24 0 1 0-6 0-4 1-4 0 1 0-11 0-4 0 13 1 12 0-4 0 1 0-9 0 11 0-22 1 12 0 16 0 10 0-8 0 5 0-2 0-16 0 6 0-13 1 9 0 3 0 3 0-6 0-3 1-3 0-13 0 12 0 1 0-3 0-12 1 12 0 1 0-3 0 9 0 3 1-3 0-11 0 19 1-12 0 12 0-27 0 27 0-27 0 7 1 15 0-18 0 6 0-7 0 9 0-4 1-5 0 23 0 0 0 4 0-21 1 5 0 1 0 15 0-30 0 1 0 0 1 27 0-13 0-19 0 0 1 0 0 8 0 17 0 6 0-28 0 7 1 1 0 8 0 22 0-39 0 6 1-1 0 29 0-25 0-2 0 0 0 36 0-36 1 38 0-19 0 16 0-28 0 10 1-1 0-9 0 3 0 20 0-6 1-10 0 8 0-19 0-11 0 27 0-30 1 41 0 10 0-34 0 34 0-11 1 2 0-28 0 1 0 38 0 6 0-43 0-5 1 14 0 1 0-3 0 5 0-28 0 35 1 11 0-28 0 26 0-36 1 9 0-9 0 8 0 28 0 5 0-5 1-6 0 11 0-29 0 14 0-18 1-12 0 14 0-12 0 13 0-11 1 28 0-21 0 0 0 12 0-16 1 18 0-26 0 34 0-18 0 0 1 20 0-6 0-8 0-14 0 21 0 9 1-17 0 8 0-14 0 5 0 8 1-10 0 7 0-14 0 9 0-20 0 18 1 4 0-20 0 0 0 8 1 2 0-8 0 20 0 8 0-22 0 7 0 20 0-2 1-37 0 28 0-22 0-3 0 24 0-16 0 2 1 11 0-17 0 0 1-8 0 17 0-6 0 6 0-2 0 1 1 0 0-9 0 7 0-4 0 9 0 15 1-23 0 20 0-18 0-3 0 18 0-7 1-16 0 26 0-20 0 16 1-1 0-16 0 4 0 2 0 13 0 1 1-15 0-3 0 3 0 12 0 9 1-8 0 4 0 3 0-17 1-4 0 9 0-6 0-4 1 10 0 2 0-12 0-2 0 8 0 8 0 5 1-13 0-14 0 4 0 0 0 30 1-34 0 28 0-9 0 32 0-52 0 17 1 5 0 3 0-15 0 3 0 81 0 5 0-88 0-5 1 16 0-19 0 25 1-7 0-7 0 5 0 8 0-2 0 5 1-23 0 1 0-4 0 24 0 6 0-21 1 2 0 2 0-1 0-4 1-3 0 5 0 12 0-8 0 10 0 0 0-33 1 8 0-1 0 11 0 15 1-13 0-16 0 0 0 25 0-7 0 4 1 7 0-6 0 8 0 3 0-22 0 9 0 5 0 10 0-33 0 5 0 12 1-13 0 6 0-4 0 8 0 4 0-26 0-2 1 16 0-5 0-1 0-3 0 6 1-6 0 15 0-2 0 1 0-6 1-4 0 8 0 7 0-7 0 0 0 0 1-1 0 5 0-7 0 7 1 1 0 2 0-13 0 13 1-6 0 2 0-8 0-5 0 3 0-5 0 23 1-16 0 9 0 0 0-5 0 1 1 9 0 2 0-8 0 6 0 4 1-8 0 9 0-11 0-7 0 2 0 15 1 8 0-16 0 1 0 17 0-12 0-14 0 1 1 3 0 17 0-24 0 0 0 28 1-21 0 5 0 14 0-9 0-1 1 18 0-21 0 2 0-20 1 23 0 15 0-11 0-17 0-5 0 28 0-11 1-7 0-9 0 11 0 5 0 10 1 11 0 5 0-28 0 23 0-19 1-14 0 5 0-3 0 6 0 16 1 14 0 6 0-19 0 9 0-3 0-19 0 11 1-5 0 13 0-6 0 2 0 1 1-31 0 10 0-8 0-10 0 0 1-2 0 11 0 2 0-17 0 9 1 16 0-26 0 7 0 17 0 2 1-26 0 7 0 8 0-12 0 4 0 20 0-24 1-2 0 18 0 1 0-21 0 13 1 10 0-2 0 1 0-10 1-12 0 16 0 6 0-5 0-8 1-10 0 7 0 10 0-9 0 0 1-15 0 26 0-4 0-9 0 6 0-19 1 11 0-11 0 25 0-19 0 10 1 14 0-3 0 8 0-4 0-27 1 6 0-6 0 36 0-31 0 16 0 13 0-6 0-17 1 12 0-18 0-1 0 7 0-7 0 9 0-8 1 20 0-20 0 5 0 6 0 19 1-26 0 23 0-22 0 0 0 1 0 15 0-20 0 20 1-18 0 12 1-5 0-3 0 13 0-4 0 0 0-5 0-6 0 8 1 12 0-15 0 14 0-4 1-10 0 17 0-14 0 10 0-6 1-14 0 2 0 23 0 2 0-7 0-1 1-12 0 17 0-7 0-4 0-2 1-11 0 22 0-18 0 10 1 8 0 4 0-6 0 6 0-12 0 10 0 2 0 16 1-21 0-1 0-4 0-8 1 4 0-2 0-7 0 23 0 1 1-12 0 12 0-11 0 1 0-10 1 2 0 0 0 2 0 7 0 1 1-14 0 21 0-21 0 3 0 12 1-2 0-6 0-9 0 15 0-7 0 5 1-2 0 4 0-11 0 4 0-4 1 3 0 2 0 9 0-3 0 0 1-6 0 1 0 10 0-8 0 0 1 9 0-7 0-5 0 3 0-15 0 3 1 2 0 4 0 3 0 5 0-18 1 16 0 4 0-10 0 12 0 6 0-7 0 19 1-28 0 25 0 5 0-7 0-11 0 2 0-7 1 12 0-10 0 8 0-15 1 14 0 6 0-4 0 6 0 0 1 22 0 6 0 6 0-45 0 1 0-6 0 33 0 3 0-14 0-2 1-5 0-3 0 2 0 34 0-33 0 16 1-17 0-9 0 7 0 5 0-13 0 34 1-20 0-19 0 4 0 7 1 13 0 10 0-5 0 4 0-14 1 8 0-9 0-14 0 30 0-1 1-11 0-21 0 23 0 3 0 2 0-16 1 12 0-16 0 3 0 4 0-8 0-2 1-6 0 3 0 17 0-2 0-8 1-3 0 15 0-18 0 3 1-5 0 1 0-1 0 2 0-16 0 16 1 22 0 3 0-10 0-11 0 11 0-26 0 12 1-12 0 19 0-13 0 21 0-20 0-2 1-4 0 20 0 2 1-27 0 9 0 15 0-25 0-1 0 4 0 22 1-24 0-4 0 23 0-12 1 0 0-2 0-8 0 6 0 22 1-29 0-5 0 17 0 2 0 3 0-1 1 0 0 0 0 10 0-11 0 6 0-1 1-9 0-9 0-3 1-2 0 15 0-17 0 29 0-4 0-1 1-18 0 26 0-8 0-3 0-27 0 2 1 0 0 13 0 8 0-1 0-13 1-4 0 4 0 15 0-6 0 5 0-13 1 6 0-8 0 1 0 10 0-16 0 8 1-5 0 22 0-11 0-3 1-2 0-8 0 5 0 10 0 13 1 0 0-5 0-8 0-8 0 2 1 16 0-2 0-17 0 6 1 12 0-21 0-1 0 7 0 5 0-8 0 21 1-13 0-13 0 17 0 6 0-2 1-11 0 0 0-7 0 8 0 7 1-9 0 5 0 6 0-7 0-3 0 2 1 4 0 10 0-14 0 10 1-12 0 7 0-1 0 1 0-4 1-5 0 11 0 4 0 1 0-5 0-7 1 5 0-8 0 12 0-8 0 9 0-17 1 4 0 1 0 4 0-7 0 9 1 0 0-6 0 20 0-23 0 13 1-13 0 25 0-5 0 0 0 8 0-22 0 8 0 0 0-5 1 8 0-3 0-11 0 4 1 2 0 7 0-11 0 5 0-9 0 13 1-7 0-3 0 11 0-13 0 8 1-6 0 12 0-13 0 10 0-9 1 1 0 3 0-5 0 3 0 2 1 3 0 0 0-1 0 1 0 6 1-15 0 4 0-4 0-1 0 8 0-1 1-5 0-4 0 6 0 3 1-5 0 1 0 0 0 2 0-7 1 1 0 2 0-3 0 3 0 2 0-5 1 5 0-2 0-3 0 0 0 15 1-4 0-8 0 2 0-6 0-2 0 10 0-3 1 8 0-4 0-3 0-3 0-5 1 8 0-12 0 6 1 12 0-5 0-5 0 3 0-4 0 3 1 6 0 0 0-16 0 2 0-1 1 9 0-9 0 11 0 0 0-10 0 7 1-10 0 6 0-5 0-3 0 2 0 2 0-9 0 3 0 22 1-6 0 7 0-13 0 10 0 2 1-5 0-3 0 4 0 7 0-3 0 1 1-4 0-6 0 2 0 1 1 11 0-5 0-6 0 4 0 10 0-12 0 9 1-2 0-5 0 10 0-5 1 8 0-5 0-5 0 2 0-6 1 7 0-7 0 11 0-5 0 8 0-3 0 2 1 4 0-8 0-7 1 17 0-6 0-7 0 6 0 3 0 2 0-13 0 5 1-7 0 9 0 6 0 0 0-9 1 0 0 13 0-3 0-5 0 0 0-1 1 8 0-10 0 4 0 3 1-8 0 12 0 1 0-3 0 6 1-4 0-2 0-7 0-2 0 11 0-6 1 3 0 7 0-13 0 11 0 1 1-5 0 16 0-11 0 4 0 2 0-14 0 17 0-19 0 2 1-3 0 7 0-1 0 3 1-7 0-1 0 9 0-5 0 9 0 1 0-3 1-10 0 4 0-3 0 11 0-9 1 11 0-7 0-5 0-1 0 7 1-3 0 0 0-2 0 0 0 3 0-1 1 10 0-16 0 3 0-3 0 8 1-4 0 12 0-6 0 0 1-1 0-1 0 1 0 2 0 2 0-8 0-2 1-7 0 12 0-10 0 11 0-6 1-1 0 1 0 1 0 11 0-10 1-4 0-2 0 10 0 0 1-8 0-7 0 9 0-11 0 11 0-19 0-2 1 7 0-2 0 14 0 0 0 4 0 3 0-19 1 12 0 6 0-15 0 2 0 9 1 1 0-13 0-2 0 8 0 3 0 0 1-11 0 15 0-19 0 12 0 0 1 4 0-14 0 3 0 5 0-16 0 3 1-3 0 8 0-9 0 8 0-4 1 6 0 9 0-4 0-15 0 10 0 1 1-3 0-6 0 18 0-19 1-3 0 6 0 5 0-10 0 0 1 14 0-5 0 6 0-6 0-7 0 0 1-1 0-2 0 13 0 2 0 1 1-12 0 11 0-4 0 10 1-17 0-6 0 10 0 4 0-8 0 0 0 10 1-1 0 2 0-4 1-3 0-3 0 11 0-12 0 6 0-9 0 7 1-8 0 1 0 2 0 9 0-10 0 16 1-3 0-1 0 3 0-12 1 6 0-1 0-7 0 11 0-12 1 9 0-6 0 12 0-15 0 6 1 10 0-4 0-11 0 9 0-6 0 4 1-2 0 1 0-2 0 8 0-12 0 7 1-1 0-8 0-1 0 8 0-11 1 11 0-10 0 0 0-1 0 8 1-4 0 15 0-3 0 0 0 4 1-9 0 8 0-7 0-7 0 11 1-13 0-8 0 25 1-1 0 4 0-4 0-23 0 27 0-19 0 15 1-15 0-2 0 2 0-11 0 20 1-24 0 14 0-9 0 20 1 3 0-19 0 15 0-16 0-11 0 27 0 6 1-8 0-9 0 7 0-14 0-1 0-1 1-13 0 42 0-39 0 2 0 6 0 11 1 5 0 11 0-11 0 6 0-1 0-12 0 2 1 6 0 1 0-17 0 14 0-1 1 5 0-13 0 11 0-15 0-3 0-3 0 9 1 13 0-9 1-10 0 8 0-5 0 29 0-3 0-9 0-15 0 1 0 11 1 7 0-6 0 5 0-14 0 5 1-9 0-1 0-1 0 3 0 5 0-2 1 6 0-7 0-1 0-2 1 19 0-6 0-5 0-9 1 3 0-2 0 19 0-12 0-1 1 2 0 9 0 3 0-4 0 2 1 0 0-7 0 2 0-11 0-1 0 6 0 12 1-16 0 17 0-5 0-15 0 1 1-7 0 23 0-21 0 18 0-6 1 5 0 9 0-4 0-3 0-18 0 10 1 4 0 14 0 2 0-17 0 19 1 0 0-33 0 20 0 8 0-20 0 46 1-45 0-2 0-4 0 6 1-5 0-5 0 10 0-8 0 19 1-11 0-2 0-6 0 27 0-29 0 31 1-34 0 16 0-11 0-1 0 18 0-5 1 1 0 4 0-11 0-1 0 22 1 9 0-28 0 25 0-31 0 26 0-32 0 13 1 4 0-11 0-5 0-5 0 32 1-19 0 11 0 9 0-13 0 1 0-5 1-2 0-6 0 23 0-20 0 9 1-2 0-12 0 25 0-23 0 16 1-23 0 11 0 2 0 3 0 5 0-22 1 20 0-2 0-7 0 15 1 6 0-6 0-5 0-16 0 26 0-15 1-7 0 12 0-6 0 3 1 5 0-17 0 14 0-16 0 4 0-3 1 1 0 6 0 0 0 8 0-6 1 11 0-4 0-6 0 3 0 7 1-11 0-1 0-9 0 25 0-7 0-8 1 6 0-16 0 2 0 6 1 17 0 2 0-13 0 3 0-13 0 11 1 0 0-10 0 4 0 1 0 2 1 5 0-8 0 8 0-7 0 18 0-20 1 8 0-5 0 7 0-3 1-3 0 14 0-8 0 13 0-15 1 2 0-22 0 5 0-3 0 22 0-29 0 27 0-7 0-1 0-17 0 10 1 14 0-8 0 4 0 9 1-5 0 0 0-1 0-3 0 12 0-20 1 22 0-20 0 5 0 4 0 6 0-1 1-2 0-4 0 4 0 13 1-5 0-21 0 13 0 3 0 7 0-2 0-10 1-8 0 4 0 10 0 3 0-22 1 11 0 10 0-16 0-2 0 1 1 10 0 0 0 8 0-24 0 2 0 16 1-13 0 0 0 12 0 5 0-17 1 15 0-4 0-10 0 0 0 3 1-3 0 1 0-4 0 17 0-6 1 14 0-2 0-18 0 0 0 9 1-9 0 12 0-7 0 11 0-8 0-3 0 5 1-4 0-2 0 1 1-5 0 1 0 3 0 9 0-11 0 6 1 5 0-13 0 12 0-5 0-2 1 8 0 1 0-6 0 2 0-8 0 13 0-3 1-9 0 50 0 6 0-39 0-17 0 15 1-13 0 4 0-4 0 7 0 44 0-41 0-7 0-6 1 3 0 10 0-5 0-10 0 9 1 8 0-16 0 13 0-11 0 3 0 11 0-25 1 2 0 3 0 18 0-8 0-10 0-2 0 15 0-9 0 8 1 4 0-4 0-1 0-6 1 8 0-6 0 6 0-7 0-1 0-7 0 1 1 3 0-2 0 2 0 2 1 5 0-5 0 4 0 2 1-7 0 6 0-2 0-6 0 5 0-7 1 3 0 4 0-3 0-1 0 1 0-4 1-2 0 14 0 2 0-11 0-3 0 6 0 3 1-5 0 2 0-12 0 5 0 0 0-2 0-1 1 18 0-5 0-2 0-1 0 6 0-11 0-1 0-5 0 16 0 2 0-13 0 2 0 0 1 6 0-9 0-6 0-2 1 2 0 10 0-4 0 0 0 4 1-2 0-1 0 22 0-17 0 10 0 2 0-5 0-2 0-16 0 6 0 9 0-6 1 17 0-16 0-3 1 11 0-1 0 2 0-12 0 8 1-2 0-7 0 6 0 2 0-2 0 3 0-6 1 5 0-1 0 4" fill="none" stroke="none" marker-start="url(#m)" marker-mid="url(#m)" marker-end="url(#m)"/><path d="M125 280l0.4 0 0.4 0 0.4 0 0.4 0 0.4 0 0.4 0 0.4 0 0.4 0 0.4 0 0.4 0 0.4 0 0.4 0 0.4 0 0.4 0 0.4 0 0.4 0 0.4 0 0.4 0 0.4 0 0.4 0 0.4 0 0.4 0 0.4 0 0.4 0 0.4 0 0.4 0 0.4 0 0.4 0 0.4 0 0.4 0 0.4 0 0.4 0 0.4 0 0.4 0 0.4 0 0.4 0 0.4 0 0.4 0 0.4 0 0.4 0 0.4 0 0.4 0 0.4 0 0.4 0 0.4 0 0.4 0 0.4 0 0.4 0 0.4 0 0.4 0 0.4 0 0.4 0 0.4 0 0.4 0 0.4 0 0.4 0 0.4 0 0.4 0 0.4 0 0.4 0 0.4 0 0.4 0 0.4 0 0.4 0 0.4 0 0.4 0 0.4 0 0.4 0 0.4 0 0.4 0 0.4 0 0.4 0 0.4 0 0.4 0 0.4 0 0.4 0 0.4 0 0.4 0 0.4 0 0.4 0 0.4 0 0.4 0 0.4 0 0.4 0 0.4 0 0.4 0 0.4 0 0.4 0 0.4 0 0.4 0 0.4 0 0.4 0 0.4 0 0.4 0 0.4 0 0.4 0 0.4 0 0.4 0 0.4 0 0.4 0 0.4 0 0.4 0 0.4 0 0.4 0 0.4 0 0.4 0 0.4 0 0.4 0 0.4 0 0.4 0 0.4 0 0.4 0 0.4 0 0.4 0 0.4 0 0.4 0 0.4 0 0.4 0 0.4 0 0.4 0 0.4 0 0.4 0 0.4 0 0.4 0 0.4 0 0.4 0 0.4 0 0.4 0 0.4 0 0.4 0 0.4 0 0.4 0 0.4 0 0.4 0 0.4 0 0.4 0 0.4 0 0.4 0 0.4 0 0.4 0 0.4 0 0.4 0 0.4 0 0.4 0 0.4 0 0.4 0 0.4 0 0.4 0 0.4 0 0.4 0 0.4 0 0.4 0 0.4 0 0.4 0 0.4 0 0.4 0 0.4 0 0.4 0 0.4 0 0.4 0 0.4 0 0.4 0 0.4 0 0.4 0 0.4 0 0.4 0 0.4 0 0.4 0 0.4 0 0.4 0 0.4-0.5 0.4-0.6 0.4-0.5 0.4-0.5 0.4-0.6 0.4-0.5 0.4-0.5 0.4-0.4 0.4-0.1 0.4-0.4 0.4 0.2 0.4-0.5 0.4 0.4 0.4 1.5 0.4-0.4 0.4 2.6 0.4-7.9 0.2 24.7 0.2-21.6 0.4-1.5 0.4 0.3 0.4 2 0.4-0.1 0.4-1 0.4 5.5 0.4-6.4 0.4 1.7 0.4-1.6 0.4-3 0.4 2.3 0.4 12.4 0-8.4 0.4-3.3 0.4 6.5 0.4-11.7 0.4 0.8 0.4 9.4 0.4-3.2 0.4-5.3 0.4 11.7 0.4-7.1 0.4-1.3 0.4-2.6 0.4-6.7 0.4 9.6 0.4-3.6 0.4 5.1 0.4 3.9 0.4-8 0.4 1.1 0.4 3 0.4-1 0.4-6.1 0.4 8.9 0.4-2.9 0.4 0.6 0.4-0.8 0.4-1.6 0.4 3.1 0.4-6.6 0.4 1.4 0.4 3.1 0.4 7.7 0.4 6.7 0.4-13.4 0.4-7.8 0.4 4.3 0.4-0.4 0.4 0.9 0.4-3 0.4 1 0.4-0.4 0.4 2.4 0.4-2.3 0.4 10.8 0.4-7.1 0.4-0.9 0.4-0.1 0.4 2.1 0.4 1.5 0.4 4.2 0.4 10.4 0.4-16.7 0.4 0 0.4-3.9 0.4 1.9 0.4 3.4 0.4 0.3 0.4-5.4 0.4 3 0.4 0.4 0.4-13.9 0.4 15 0.4-2.3 0.4 2.3 0.4-1.1 0.4-1.5 0.4-0.7 0.4 2.2 0.2 11.4 0.2-5.7 0.4-5.1 0.4 1.2 0.4-5.9 0.4 1.6 0.4-3.1 0.4 11.1 0.4-13.7 0.4 9.2 0.4-1.4 0.4-5.3 0.4 6.6 0.4-1 0.4 7.3 0.4-9.3 0.4 2.2 0.4-5 0.4 8.2 0.4-3.3 0.4 12.6 0.4-10 0.4-4 0.4 0.6 0.4-4 0.4 1.2 0.4 8.7 0.4-8 0.4 10.6 0.4-10.5 0.4-5.6 0.4 8.7 0.4 4.6 0.4-3.1 0.4-10.7 0.4 7.3 0.4 2.4 0.4-1.9 0.4-1.3 0.4 3.8 0.4-0.8 0.4 4.3 0.4-11.7 0.4 4.7 0.4 1.8 0.4-1.1 0.4 0.9 0.4-2.6 0.4-1.2 0.4 4.2 0.4-3.5 0.4 7.1 0.4-14.2 0.4 10.2 0.4 4.4 0.4-0.8 0.2 10.3 0.2-12.6 0.4-3.4 0.4-5 0.4 5.1 0.4 5.9 0.4-3.9 0.4-4.4 0.4 2.2 0.4 7.5 0.4-4.4 0.4-1.8 0.4 0.4 0.4 3 0.4-7.2 0.4 8.9 0.4-6.6 0.4-2.9 0.4 3.6 0.4 4.7 0.4-4.4 0.4-1.8 0.4-0.2 0.4 4.1 0.4-2.9 0.4 3.2 0.4-9.5 0.4 8.5 0.4-7.1 0.4 5.6 0.4-2.4 0.4 4.2 0.4-8.1 0.4 35.1 0.4-33.2 0.4-4 0.4 4.1 0.4 5.3 0.4-6.8 0.4 2.9 0.4-7.4 0.4 13.8 0.4-4 0.4-0.7 0.4 4.2 0.4-4.8 0.4-2.2 0.4-1.9 0.4 2.6 0.4 0.9 0.4 8.9 0.4-6.1 0.4-1.4 0.4-3.5 0.4 1.9 0.4 0.8 0.4 6.4 0.4-1.8 0.4-4.3 0.4 4 0.4-1 0.4-0.6 0.4 2.2 0.4-0.1 0.4-1.9 0.4 2 0.4 0.6 0.4-2.9 0.4 2.3 0.4-0.7 0.4 13.2 0.4-11.7 0.4-2.3 0.4 4.9 0.4-11.6 0.4-0.5 0.4 3.3 0.4 4.5 0.4 11.6 0.4-7.3 0.4-9.3 0.4-1.4 0.4 1.1 0.4 15.5 0-11 0.4-3.2 0.4 1.3 0.4-1 0.4 7.1 0.4-3.3 0.4-0.8 0.4-1.9 0.4-2.1 0.4-1.1 0.4-5.6 0.4 9.5 0.4 0.8 0.4-1.5 0.4-5.9 0.4 3.8 0.4 5.2 0.4-4.6 0.4-2.9 0.4 0.7 0.4 5.5 0.4-0.7 0.4-0.4 0.4 9 0.4-9 0.4 1.5 0.4-0.1 0.4-7.8 0.4 3.8 0.4-4.6 0.4 11.4 0.4-7.1 0.4 6.4 0.4-4.2 0.4 6.2 0.4-14.8 0.4 9.2 0.4-3.9 0.4-4.2 0.4 14.8 0.4-9.3 0.4-1.5 0.4 5.8 0.4-5.2 0.4 3.6 0.4 2.2 0.4-3.5 0.4-2.5 0.4 0.9 0.4-0.2 0.4 2.8 0.4 4.1 0.4-1.8 0.4-8.3 0.4 2.1 0.4 4.2 0.4-1 0.4 4.7 0.4-1.6 0.4 6.8 0.4-11 0.4 4.3 0.4-2.7 0.4 2.1 0.4 2.1 0.4 8.4 0.4-11.8 0.4-2 0.4 8.2 0.4-4.9 0.4-3.4 0.4-2.7 0.4 7.8 0.4-3.4 0.4-0.2 0.4-3.2 0.4 11.8 0.4-5.5 0.4-0.7 0.4-4.2 0.4 4.1 0.4 0.9 0.4-4.5 0.4 2 0.4 1.8 0.4 1.8 0.4-5.7 0.4 9.2 0.4-5.8 0.4 1.6 0.4 1.9 0.4 10 0.4-12.8 0.4-0.2 0.4-2 0.4-7.5 0.4 7.4 0.4-0.9 0.4-4 0.4 8.5 0.4-1.3 0.4 6.3 0.4-9.4 0.2 45.5 0.2-32.1 0.4-10.5 0.4 6 0.4-7.2 0.4-0.5 0.4-4.2 0.4 1.3 0.4 5.2 0.4-6.4 0.4 2 0.4 15.9 0.4-12.2 0.4-3.8 0.4 4.1 0.4-2 0.4 5.3 0.4-3 0.4-4.7 0.4 9.9 0.4 3 0.4-6.4 0.4-6.1 0.4 1.7 0.4 3.8 0.4-3.8 0.4-1.4 0.4-1.8 0.4-0.3 0.4 3.1 0.4 3.4 0.4-6.9 0.4-2.1 0.4-0.5 0.4 15.2 0.4-5.5 0.4-3 0.4 1.7 0.4-4.7 0.4-3.8 0.4 1.8 0.4 11.4 0.4-5.6 0.4-0.2 0.4 0.4 0.4 5.1 0.4-3.2 0.4 1 0.4-6 0.4 3.8 0.4-0.3 0.4-3.7 0.4 5 0.4 1.4 0.4-3.6 0.4 0.8 0.4-1.2 0.4-0.7 0.4-2.4 0.4 1.1 0.4 8.6 0.4 0.3 0.4 2.7 0.4-6.7 0.4 0.4 0.4-0.4 0.4-1.7 0.4 9.1 0.4-8.5 0.4-5.4 0.4 24.1 0.4-22.4 0.4 5.9 0.4-6.6 0.4 4.1 0.4 2.4 0.4-4.9 0.4-1.8 0.4 2.7 0.4-0.6 0.4-1.5 0.4 0.7 0.4 3.2 0.4 1.3 0.4-5.1 0.4 0.9 0.4 8 0.4-5.9 0.4-0.7 0.4 0.2 0.4 5.5 0.4-15.4 0.4 11.2 0.4 1.7 0.4-5.4 0.4 1.9 0.4 7.6 0.4-12.8 0.4 7.5 0.4-5.7 0.4 2.4 0.4-2.3 0.4 6.1 0.4 2.7 0.4-3.4 0.4 0.7 0.4-1.8 0.4-3.9 0.4 5 0.4 2.1 0.4 0.4 0.4-9.8 0.4 6.3 0.4-1.8 0.4 3 0.4 2.8 0.4-6.2 0.4-3.1 0.4 1.6 0.4 4.4 0.4-2.6 0.4 6.1 0.4-4.9 0.4 1.8 0.4 3.6 0.4-25.8 0.4 22.1 0.4-3.7 0.4 4 0.4-1.1 0.4 1.9 0.4-6.9 0.4 3.9 0.4 3.2 0.4-9.2 0.4 7.5 0.4 2.3 0.4-1.2 0.4 12.2 0.4-16.5 0.4 9.2 0.4-3.7 0.4 0.7 0.4 0.2 0.4-5 0.4 1.2 0.4 8.7 0.4-6.8 0.4 2.4 0.4 10.5 0.4 1 0.4-2.2 0.4 13.7 0.4-4.6 0.4 1 0.4 1.6 0.4 2.2 0.4 3.1 0.4 1.1 0.4 6 0.4-1.1 0.4 3.4 0.4-1.4 0.4 4.8 0.4-0.5 0.4 6.6 0.4-5 0.4-5.2 0.4-1 0.4-6.9 0.4-4.9 0.4-3.4 0.4 0.6 0.4-7.9 0.4 0.4 0.4-7.3 0.4-5.9 0.4 0.1 0.4 3.7 0.4-1.2 0.4 0.5 0.4 0.9 0.4 5.2 0.4-5.3 0.4 8.1 0.4-10.7 0.4 0.2 0.4 5.6 0.4-2.6 0.4-3.1 0.4 2.3 0.4-2.5 0.4-0.7 0.4-2.4 0.4 4.3 0.4 0.8 0.4-3.2 0.4-4.6 0.4 4.6 0.4 6.3 0.4-2.1 0.4-1.1 0.4-6.1 0.4 5.7 0.4-1.1 0.4 2.8 0.4-2.9 0.4 4.4 0.4-9.7 0.4 13 0.4-9.2 0.4-2.3 0.4 4.3 0.4-2.6 0.4-1.7 0.4 15 0.4-6.6 0.4-3.1 0.4-0.2 0.4-4.1 0.4 10.6 0.4-7 0.4-5.3 0.4 9.6 0.4-8.3 0.4 0 0.4 3.6 0.4-2.7 0.4 0.6 0.4-2.1 0.4 3.4 0.4-2.4 0.4-2 0.4 1 0.4 12.9 0.4-14 0.4 3.9 0.4-1 0.4-5.7 0.4 7.1 0.4 2.5 0.4-6.9 0.4-1.2 0.4 5.9 0.4-0.9 0.4 2.6 0.4-2.9 0.4 2.1 0.4-5.1 0.4-2.4 0.4 4.8 0.4-2.9 0.4 14.5 0.4-10.9 0.4 2.3 0.4-0.8 0.4-1.6 0.4 0.3 0.4-2.6 0.4 1.8 0.4-0.6 0.4 2 0.4-6.2 0.4-4.1 0.4 9.8 0.4-15.7 0.4 16.7 0.4-5.7 0.4 7.4 0.4-2.1 0.4 3.6 0.4-9.2 0.4-1 0.4-10.4 0.4 20.9 0.4-8.3 0.4-1.4 0.4 1.8 0.4-10.5 0.4 9.2 0.4 2.6 0.4-1.1 0.4-1 0.4 0.9 0.4 2.7 0.4 13.1 0.4-12.4 0.4-8.1 0.4 5.6 0.4 2.1 0.4-3.9 0.4 2.1 0.4-1.8 0.4 1 0.4 1.3 0.4 1.1 0.4-12.7 0.4 12 0.4-0.6 0.4-1.4 0.4 5.2 0.4 3.8 0.4-9.4 0.4 1 0.4 3.4 0.4 0.5 0.4-5.7 0.4 9.1 0.4-11.2 0.4-5.7 0.4 8.1 0.4 1.2 0.4 5.8 0.4-11.6 0.4 15.3 0.4-12 0.4 3.8 0.4-3.2 0.4-2 0.4-0.5 0.4 3 0.4 7.4 0.4-7.1 0.4-1 0.4 2.2 0.4 1.5 0.4-4.6 0.4 4.3 0.4-4.2 0.4 4.5 0.4-0.5 0.4-8.8 0.4 15.2 0.4-10.7 0.4-1 0.4-0.1 0.2 30.1 0.2-27.1 0.4 0 0.4 2.4 0.4-1 0.4-5.7 0.4 9.5 0.4-4.3 0.4-2.4 0.4 8.4 0.4 1.1 0.2-15.5 0.2 5.2 0.4 19.4 0.4-18 0.4 3.2 0.4-8.5 0.4 10.8 0.4-3.5 0.4-2 0.4-2.8 0.4 2.8 0.4-2.5 0.4 0.6 0.4 2.8 0.4 5.7 0.4-0.5 0.4 4.1 0.4 1.1 0.4-1.7 0.4 8.1 0.4 3.7 0.4-3.3 0.4 4 0.4 1.6 0.4 1.4 0.4 1.2 0.4 4.2 0.4 3.2 0.4 1.2 0.4-2.8 0.4-0.6 0.4 0.4 0.4-2.6 0.4-0.3 0.4-7.1 0.4-3.2 0.4 2.4 0.4-8.2 0.4 5.9 0.4-14.4 0.4 6.5 0.4 5.9 0.4-11.7 0.4 3.1 0.4-5.7 0.4 1.6 0.4-0.4 0.4-3.9 0.4 4.5 0.4 8.4 0.4-10.4 0.4 4.5 0.4-7.3 0.4 4.7 0.4-8.2 0.4 10.1 0.4-10.2 0.4 1.5 0.4 3.4 0.4 3.9 0.4-4 0.4-1.2 0.4 7.6 0.4-4.4 0.4 1.7 0.4-6.4 0.4 4 0.4-11.7 0.4 12.1 0.4 1.2 0.4-3.3 0.4 2.7 0.4-2.5 0.4-1.3 0.4 2.7 0.4 5.5 0.4-3.9 0.4-1.4 0.4 3.8 0.4-2.1 0.4-2.8 0.4 6.8 0.4-12.8 0.4 4.4 0.4-10.4 0.4 14.2 0.4 1.3 0.4-7.7 0.4 5.6 0.4-6.9 0.4 4.1 0.4 3.8 0.4-13.5 0.4 4.7 0.4 0.8 0.4 14 0.4-9.6 0.4-2.2 0.4 5.5 0.4-1.4 0.4-3.1 0.4 1.9 0.4 4.1 0.4-8.1 0.4 1.9 0.4-2.3 0.4 1.9 0.4-0.3 0.4 5.2 0.4-4.6 0.4 0.9 0.4-0.9 0.4-3.5 0.4 0.2 0.4 4.4 0.4 4.8 0.4-20.3 0.4 7.9 0.4 3.7 0.4 2.7 0.4 4.2 0.4-6.6 0.4 3.1 0.4-8.7 0.4 7.6 0.4 8.5 0.4-3.8 0.4-4.4 0.4-2.5 0.4 2.3 0.4 8.9 0.4-10.7 0.4-0.9 0.4 12.8 0.4-8 0.4-1.7 0.4-1.2 0.4 9.5 0.4-13 0.4 3.3 0.4-3.1 0.4-10 0.4 8.9 0.4 4.8 0.4-0.7 0.4 1.3 0.4 3.5 0.4-10.7 0.4 5.8 0.4-3.6 0.4-1.3 0.4-3.8 0.4 9.1 0.4-4.8 0.4-2.5 0.4 0.7 0.4-3.2 0.4-0.4 0.4 6.1 0.4-4.3 0.4-1 0.4-4.4 0.4-8.4 0.4 16.9 0.4-6.1 0.4 0.2 0.4-5.4 0.4 1.7 0.4-1.1 0.4 0.3 0.4-0.9 0.4 4.2 0.4 3.4 0.4 0.5 0.4-8.8 0.4 18.9 0.4-9.8 0.4 1.4 0.4-8.4 0.4 9.7 0.4-1.3 0.4 4.1 0.4 1.5 0.4 0.1 0.4 6.2 0.4 1.7 0.4-2.3 0.4-5.6 0.4 19.6 0.4-16.7 0.4 1.3 0.4 0.2 0.4-1.1 0.4 4.5 0.4 12.6 0.4-14.9 0.4-0.6 0.4 2.3 0.4-3.1 0.4 9.2 0.4-4.5 0.4-3.1 0.4 1.4 0.4-2 0.4 14.7 0.4 0.8 0.4 13.8 0.4 4.8 0.4 9.2 0.4-3.8 0.4-3.4 0.4-7.4 0.4-1.2 0.4-1.5 0.4-10.8 0.4-3.1 0.4-9.2 0.4 2.4 0.4 0.9 0.4 0.6 0.4-2.3 0.2 13.8 0.2-10.9 0.4-9 0.4 8.9 0.4 0.4 0.4 0 0.4-11.1 0.4 16 0.4-11.7 0.4-1.2 0.4 0.1 0.4 6.6 0.4-7.1 0.4 15.7 0.4-13.1 0.4-7.9 0.4 5.6 0.4 6.2 0.4-6.6 0.4 12.9 0.4-9.5 0.4-2.8 0.4 7 0.4-13.9 0.4 10.7 0.4-11.3 0.4 4.2 0.4 12 0.4-6.1 0.4 0.6 0.4 16.6 0.4-23 0.4 9.7 0.4-6.4 0.4 3 0.4-1 0.2 16.4 0.2-12.8 0.4-10.8 0.4 4.8 0.4 0.4 0.4 1.4 0.4 3.8 0.4-19.5 0.4 12.1 0.4 10.2 0.4-6.5 0.4 2 0.4 0.2 0.4-5.7 0.4 1.2 0.4 4.3 0.4-6.5 0.4-0.4 0.4 19.8 0-17.6 0.4 13 0.4-9.7 0.4 0.1 0.4 1.2 0.4-1.4 0.4-2.2 0.4 3.4 0.4-0.1 0.4-0.8 0.4 4.8 0.4-3.2 0.4-5.8 0.4 2.8 0.4-2 0.4-1 0.4 2.8 0.4-4.4 0.4 1 0.4 2.5 0.4-6.2 0.4 4.6 0.4 7.1 0.4 1.7 0.4-0.2 0.4-15.5 0.4 12.3 0.4-3.9 0.4-5.3 0.4 4 0.4 2.7 0.4 4.7 0.4-2.7 0.4-1.6 0.4 0.1 0.4 3 0.4-2.4 0.4 2.2 0.4-5.2 0.4 2.9 0.4 7.3 0.4-10.8 0.4-4 0.4 17.9 0.4-8.2 0.4-6 0.4 1 0.4 3.2 0.4 3.9 0.4-4.3 0.4-1.8 0.4 3.6 0.4-4.7 0.4 6 0.4 5.9 0.4-13.5 0.4 9.4 0.4-0.4 0.4-2.6 0.4-3.4 0.4 8.3 0.4-8.5 0.4 3.4 0.4 0.2 0.4-0.3 0.4-2.8 0.4-3.7 0.4 2.5 0.4 5.1 0.4-4.8 0.4 1.5 0.4-4.1 0.4 0.8 0.4 5.6 0.4-4.7 0.4-0.1 0.4 6.1 0.4-2.9 0.4-4 0.4-3.2 0.4 7 0.4-4.3 0.4 9.5 0.4 0 0.4-11.3 0.4 6.1 0.4 4.6 0.4 16.9 0.2 2.9 0.2-30.8 0.4 3.3 0.4-19.3 0.4 18.5 0.4-4.9 0.4 9.7 0.4 3.1 0.4-2 0.4-3.3 0.4 4.2 0.2-22.9 0.2 18.9 0.4 6 0.4-5.7 0.4-0.1 0.4 1.7 0.4 0.4 0.4 1 0.4 0.2 0.4 0 0.4 0 0.4 0 0.4 0 0.4 0 0.4 0 0.4 0 0.4 0 0.4 0 0.4 0 0.4 0 0.4 0 0.4 0 0.4 0 0.4 0 0.4 0 0.4 0 0.4 0 0.4 0 0.4 0 0.4 0 0.4 0 0.4 0 0.4 0 0.4 0 0.4 0 0.4 0 0.4 0 0.4 0 0.4 0 0.4 0 0.4 0 0.4 0 0.4 0 0.4 0 0.4 0 0.4 0 0.4 0 0.4 0 0.4 0 0.4 0 0.4 0 0.4 0 0.4 0 0.4 0 0.4 0 0.4 0 0.4 0 0.4 0 0.4 0 0.4 0 0.4 0 0.4 0 0.4 0 0.4 0 0.4 0 0.4 0 0.4 0 0.4 0 0.4 0 0.4 0 0.4 0 0.4 0 0.4 0 0.4 0 0.4 0 0.4 0 0.4 0 0.4 0 0.4 0 0.4 0 0.4 0 0.4 0 0.4 0 0.4 0 0.4 0 0.4 0 0.4 0 0.4 0 0.4 0 0.4 0 0.4 0 0.4 0 0.4 0 0.4 0 0.4 0 0.4 0 0.4 0 0.4 0 0.4 0 0.4 0 0.4 0 0.4 0 0.4 0 0.4 0 0.4 0 0.4 0 0.4 0 0.4 0 0.4 0 0.4 0 0.4 0 0.4 0 0.4 0 0.4 0 0.4 0 0.4 0 0.4 0 0.4 0 0.4 0 0.4 0 0.4 0 0.4 0 0.4 0 0.4 0 0.4 0 0.4 0 0.4 0 0.4 0 0.4 0 0.4 0 0.4 0 0.4 0 0.4 0 0.4 0 0.4 0 0.4 0 0.4 0 0.4 0 0.4 0 0.4 0 0.4 0 0.4 0 0.4 0 0.4 0 0.4 0 0.4 0 0.4 0 0.4 0 0.4 0 0.4 0 0.4 0 0.4 0 0.4 0 0.4 0 0.4 0 0.4 0 0.4 0 0.4 0 0.4 0 0.4 0 0.4 0 0.4-0.3 0.4-1.4 0.4-2.8 0.4 2.3 0.4 0.4 0.4 0.8 0.4-1.6 0.4 2.2 0.4-4.6 0.4-3.6 0.4 3.7 0.4 2.3 0.4-11.9 0.4 11.2 0.4-0.9 0.4 11.8 0.4-7.2 0.4-9 0.4 6 0.4-0.7 0.4-3.9 0.4 0 0.4 3.5 0.4-1.9 0.4 3.6 0.4-3.6 0.4 4.8 0.4-11.6 0.4 1.3 0.4 6.1 0.2 19 0.2-20.9 0.4 2.7 0.4-2.5 0.4 5.9 0.4-3.4 0.4-0.6 0.4-0.3 0.4 6.7 0.4-8.1 0.4 2.5 0.4 4.4 0.4-6.4 0.4-1.2 0.4 5.2 0.4 5.8 0.4-10 0.4 3.3 0.4-0.2 0.4-4.8 0.4 4.6 0.4 0.7 0.4-3.2 0.4 3.2 0.4-4.9 0.4 0.7 0.4 7.3 0.4 3.9 0.4-7.5 0.4 3.4 0.4-3.2 0.4 0.4 0.4-0.5 0.4 1.2 0.4-4.8 0.4 3.9 0.4 1.7 0.4-1.7 0.4 5.5 0.4-7 0.4 2 0.4-1.6 0.4-0.6 0.4 5.4 0.4-8.7 0.4 11.9 0.4-9 0.4 2.7 0.4 5.9 0.4-6.7 0.4-6.4 0.4-1.8 0.4 9 0.4-1.4 0.4 2.8 0.4-12.9 0.4-2.3 0.4 21.8 0.4-6.7 0.4-4 0.4 0.6 0.4 5.8 0.4-5.4 0.4 3.6 0.4-1.2 0.4-11 0.4 13.9 0.4-2.8 0.4-4.2 0.4 0 0.4-0.6 0.4 6.8 0.4-5.8 0.4 1.6 0.4 0.4 0.4-2 0.4 2.5 0.4 0.6 0.4 3.6 0.4-4.4 0.4 7.3 0.4-4.7 0.4-4 0.4 5.8 0.4-3.8 0.4-4.3 0.4 4.1 0.4-2.5 0.4 2.1 0.4 2.6 0.4-5.7 0.4 4.8 0.4-3.8 0.4 3.6 0.4 2.3 0.4-1.7 0.4 3.7 0.4-3.4 0.4 7.3 0.4-5.6 0.4 0.9 0.4 2.9 0.4 2.5 0.4-12 0.4-1.3 0.4-0.4 0.4 6.1 0.4 3 0.4 0.6 0.4-5.8 0.4 2.5 0.4 0.2 0.4 3.2 0.4-0.4 0.4 10 0.4-10.3 0.4 2.2 0.4 5.4 0.4-12.1 0.4 4.2 0.4-5.2 0.4 4.3 0.4-5.2 0.4 9.1 0.4-8.6 0.4 13 0.4-12.3 0.4 2.8 0.4-3.8 0.4-5.5 0.4 16.6 0.4-14.1 0.4-5.3 0.4 5.9 0.4-5.3 0.4-0.9 0.2-13.2 0.2 20.6 0.4-11.1 0.4 2.5 0.4 8.2 0.4-3 0.4-0.6 0.4 7.7 0.4-19 0.4 15.5 0.4 6.7 0.4 4.1 0.4-3.1 0.4-0.2 0.4 4 0.4 0.5 0.4 0.4 0.4 3 0.4 2 0.4 0.6 0.4-1.9 0.4 2.6 0.4 1.6 0.4 1.6 0.4-2.1 0.4 8.5 0.4-0.7 0.4-0.4 0.4 4.3 0.4 5.6 0.4-2.3 0.4 4.7 0.4-4.6 0.4 7.9 0.4 3.6 0.4 2.4 0.4-7.4 0.4 3.3 0.4-1.7 0.4 10.8 0.4-9.6 0.4 15 0.4-16.1 0.4 0.6 0.4-8 0.4 9 0.4-3.9 0.4 0.7 0.4 3.7 0.4-1.7 0.4-1.7 0.4 5.4 0.4-6.2 0.4 4.6 0.4-9.1 0.4-1.4 0.4 2 0.4-6.1 0.4 1.3 0.4 6.6 0.4-2.7 0.4-7.1 0.4-2.8 0.4-5.1 0.4-6.9 0.4 1.4 0.4-2.5 0.4-4.3 0.4 7.1 0.4-13.5 0.4-4.8 0.4-0.5 0.4 3.3 0.4 0.2 0.4-6.9 0.4 1.8 0.4 1.5 0.4 1.6 0.4 2.7 0.4-1.2 0.4 1.2 0.4-2.6 0.4-4.1 0.4 2 0.4-1.2 0.4 3.6 0.4 1.6 0.4 3.3 0.4-5.9 0.4-8.7 0.4 4.7 0.4 1.4 0.4-0.7 0.4 2.8 0.4 1.3 0.4-2.7 0.4 11.5 0.4-8.9 0.4-1.4 0.4-6.5 0.4-11.9 0.4 10.3 0.4 16.9 0.4-13.8 0.4 8.7 0.4 1.5 0.4-9.2 0.4 1.7 0.4 1.5 0.4-0.4 0.4-2.2 0.4-5.2 0.4 7.1 0.4 1.4 0.4 3.6 0.4-3.2 0.4 1.7 0.4-4.9 0.4-8.2 0.4 20.4 0.4-7.3 0.4-3.9 0.4 0.8 0.4 4.5 0.4-2.4 0.4 0.9 0.4 4.4 0.4-8.8 0.4 3.5 0.4-3.4 0.4 2.2 0.4 7.4 0.4-6.1 0.4-1.5 0.4 4.8 0.4-0.9 0.4 1.7 0.4-10 0.4 9.7 0.4-3 0.4-0.3 0.2-15.8 0.2 16.9 0.4-7.2 0.4 5.3 0.4-3.4 0.4 0.7 0.4 4.2 0.4-0.9 0.4-0.7 0.4 2.7 0.4-4.6 0.4 4.2 0.4-0.9 0.4-0.8 0.4 0.2 0.4 0.7 0.4-0.5 0.4 0.2 0.4 2.5 0.4-3.1 0.4 0.8 0.2 14.7 0.2-15.3 0.4 0.9 0.4 6.4 0.4-9.1 0.4 5.6 0.4-3 0.4-4.5 0.4 0.3 0.4 5.9 0.4-2.2 0.4 0.4 0.4 13 0.4-13.7 0.4-3.8 0.4-3 0.4 4.9 0.4-2.1 0.4 23.7 0.4-23 0.4-13.5 0.4 16.2 0.4-1.1 0.4 3 0.4-7.9 0.4 5.7 0.2 22.2 0.2-21.7 0.4-0.6 0.4 3.8 0.4-4.8 0.4-1.4 0.4 4.8 0.4-5.2 0.4-2.4 0.4 9.9 0.4-4.5 0.4-5.9 0.4 9.7 0.4 2.8 0.4-10.1 0.4 0.2 0.4 2.1 0.4 7.6 0.4-2.8 0.4 12.4 0.4-17.8 0.4 9.6 0.4-8.8 0.4 5.5 0.4-2.9 0.4-0.5 0.4 4.1 0.4-1.8 0.4-2.5 0.4 3.3 0.4-2.3 0.4 1.6 0.4 4.9 0.4-5.1 0.4-1.9 0.4 5.9 0.4-0.1 0.4-8.3 0.4-3.6 0.4 3.4 0.4-1.1 0.4 10 0.4-4 0.4 7.6 0.4-13.2 0.4-4.7 0.4 6.4 0.4 5.3 0.4-3.7 0.4 7.3 0.4-5.9 0.4-3.8 0.4 38.2 0-21 0.4-3.5 0.4-7.1 0.4 1 0.4-1.7 0.4-1.9 0.4-4.7 0.4 4.5 0.4 8.1 0.4-20.8 0.4 12.2 0.4-15.8 0.4 16.5 0.4 4.5 0.4-4.6 0.4-1.5 0.4-2.1 0.4 20.7 0.4-17.5 0.4 5.3 0.4-6 0.4 1.3 0.4 1.9 0.4-4.5 0.4 6.3 0.4-6.9 0.4-16.1 0 18.6 0.4-2.4 0.4 15.1 0.4-11 0.4-3.4 0.4 7.7 0.4-10.8 0.4 4.9 0.4 1.6 0.4-4.2 0.4 1.9 0.4-5.3 0.4 9.7 0.4-0.3 0.4-1.9 0.4-4.3 0.4 4.1 0.4 6.7 0.4-10.2 0.4 5.6 0.4-0.4 0.4-0.6 0.4-0.8 0.4 4.8 0.4-8.9 0.4 1.5 0.4 8.4 0.4-5.3 0.4-0.3 0.4 2.2 0.4-0.3 0.4 1.3 0.4-6.8 0.4 1.1 0.4 3.8 0.4-9.1 0.4 8.6 0.4 2.2 0.4 5.5 0.4-7.1 0.4-1.2 0.4-3.8 0.4 3.3 0.4 13.8 0.4-16.2 0.4 4.6 0.4 7.4 0.4-9.1 0.4 3.1 0.4 2.4 0.4 27.2 0-31.7 0.4-2 0.4 2 0.2-22.3 0.2 16.2 0.4-0.8 0.4-8.9 0.4 13.4 0.4 8.8 0.4-15.1 0.4 6 0.4-3.6 0.4 2.2 0.4 3 0.4 0.1 0.4-1.5 0.4-5.1 0.4 8.5 0.4-7.9 0.4 6 0.4 2.2 0.4-5.8 0.4 1.7 0.4-4.2 0.4 3.2 0.4-0.9 0.4 9.6 0.4-8.2 0.4-1.9 0.4 7.5 0.4-0.6 0.4-3.3 0.4 9.9 0.4-1 0.4-14.5 0.4 12.9 0.4-4.4 0.4-2.5 0.4-3.4 0.4 1.2 0.4 8.4 0.4-7.9 0.4 4.7 0.4-3.7 0.4 0.1 0.4-2.2 0.4 3 0.4-1.2 0.4 2.7 0.4-8.4 0.4 3.5 0.4 3.2 0.4 0 0.4-0.9 0.4 0.3 0.4-0.9 0.4 1.3 0.4-2.3 0.4 3 0.2 32.5 0.2-39.2 0.4 3.2 0.4-0.7 0.4 1.5 0.4-0.7 0.4 6.1 0.4-6.8 0.4-1.5 0.4 1.7 0.4-7.3 0.4 7.3 0.4 4.7 0.4-6.6 0.4 5.3 0.4-3.2 0.4 7.1 0.4-24.3 0 12.9 0.4 6.8 0.4 2 0.4 5.3 0.4-6.9 0.4 0.8 0.4-5.5 0.4 3.4 0.4-0.7 0.4-2.1 0.4 13.4 0.4-9.8 0.4-0.5 0.4 3.2 0.4-4.1 0.4 1.8 0.4 3.3 0.4-13.8 0.4 1.5 0.4 5.9 0.4 4.8 0.4 36.1 0-38.1 0.4 4.9 0.4-2.9 0.4-0.2 0.4 0.1 0.4-1.4 0.4 0.6 0.4 5.4 0.4-6.1 0.4-0.4 0.4-2.4 0.4-1.7 0.4 3.7 0.4 4.2 0.4-6 0.4 5.7 0.4-6.8 0.4 5.2 0.4-5.3 0.4 1.5 0.4 3.1 0.4-4.3 0.4-14.6 0.4 19.1 0.4 2.4 0.4 0 0.4-9.6 0.4 3.7 0.4 12.4 0.4-9.2 0.4 3.7 0.4-1.5 0.4-7.4 0.2 22.8 0.2-12.5 0.4-12.2 0.4 4.9 0.4 1.7 0.4 1.2 0.4-6 0.4 3.2 0.4 2 0.4-3.3 0.4 8.1 0.4-9.6 0.4 1.3 0.4 3.2 0.4 2.3 0.4-3.2 0.4 0 0.4 0.8 0.4-4.4 0.4 2.2 0.4 1.8 0.4 3.2 0.4 2.5 0.4-12.3 0.4 4.7 0.4 1.4 0.2 19 0.2-22.2 0.4 5 0.4-3.8 0.4-0.3 0.4 3.5 0.4-1 0.4-2.1 0.4-2.9 0.4 5.6 0.4-14 0.4 8.3 0.4 16.1 0.4-9.5 0.4-6.5 0.4 2.2 0.4-2 0.4 2.5 0.4 1.3 0.4-4 0.4 6.8 0.4-5.1 0.4 7.8 0.4-2.2 0.4 6.8 0.4-2.8 0.4-10.9 0.4-0.3 0.4 26 0.4-21.9 0.4 1.2 0.4-0.7 0.4-2.9 0.4 6.5 0.4-8.7 0.4 3.9 0.4-2.7 0.4 1.7 0.4 1.4 0.4 7.2 0.4-4.7 0.4-1.1 0.4 0.1 0.4-0.1 0.4-5.3 0.4 7 0.4 9.3 0.4-11.2 0.4-2.2 0.4 2.4 0.4 5.7 0.4-7.2 0.4 0 0.4-3 0.4 14 0.4-13.4 0.4 2.9 0.4 5.2 0.4-2.8 0.4-3.5 0.4-0.3 0.4-2 0.4-1.2 0.4 0.9 0.4 3.6 0.4-2.5 0.4 2.3 0.2 39.2 0.2-43.9 0.4 0.7 0.4 4.5 0.4-1.9 0.4 1.4 0.4-19.7 0.4 21.8 0.4-3.9 0.4-2.2 0.4 0.3 0.4 5.3 0.4-5.1 0.4 5.6 0.4-1.9 0.4-4.1 0.4 6.5 0.4 6.5 0.4-10.1 0.4-3.7 0.4 13 0.4-11 0.4-18.5 0 17.5 0.4-0.9 0.4 2.9 0.4 2 0.4-1.3 0.4-1.3 0.4-3.8 0.4 4.4 0.4 1.1 0.4 2.7 0.4-3.4 0.4 0.9 0.4 0.3 0.4-7.1 0.4 1.2 0.4 7.7 0.4-7.7 0.4 4 0.4-0.6 0.4 4.4 0.4 0.3 0.4 2.9 0.4-7.2 0.4 2.4 0.4-3.2 0.4-4.2 0.4 5.2 0.4 4.4 0.4-4.1 0.4 3 0.4-7.7 0.4-10.1 0.4 17.5 0.4-1.4 0.4 0.9 0.4-2.8 0.4-8.7 0.4 9.2 0.4-5.2 0.4 10.1 0.4-17.5 0.4 12.3 0.4-7.5 0.4 8.1 0.4-4.8 0.4 5.7 0.4-0.7 0.4 2.7 0.4-8.5 0.4 5.9 0.4 19 0-19.2 0.4-3.4 0.4 3.8 0.4-0.3 0.4-0.6 0.4 0 0.4-0.9 0.4-8 0.4 5.5 0.4 5.6 0.4-7.7 0.4 5.1 0.4 0.3 0.4-2.1 0.4 1.6 0.4 1 0.4 1.1 0.4-0.7 0.4-4.2 0.4-3.4 0.4-1.2 0.4 6 0.4 13.7 0.4-9.8 0.4-4.5 0.4 1.9 0.4 1.6 0.4-0.3 0.2 21.1 0.2-21.9 0.4-2.6 0.4-5.1 0.4 6 0.4-0.9 0.4-4.6 0.4 8.6 0.4-1.9 0.4-1.6 0.4 4.9 0.4-1 0.4 2 0.4 6.2 0.4-14.4 0.4 1.8 0.4-2.3 0.4 9.7 0.4 2.5 0.4-5.7 0.4-9.8 0.4 3.4 0.4 0 0.4 5.1 0.4-2.4 0.4-9.2 0.4 11.5 0.4-4.7 0.4 33 0-32.7 0.4 3.2 0.4-1.7 0.4 0.3 0.4 2.6 0.4-4.2 0.4 10.9 0.4-9.3 0.4 2.8 0.4 1.4 0.4-1.4 0.4-0.1 0.4 0.3 0.4-13.5 0.4 15.2 0.4-9 0.4 7.8 0.4-0.9 0.4 1 0.4-0.5 0.4-3 0.4-1.8 0.4 4.4 0.4-1.5 0.4 4.1 0.4-9.8 0.4-2.2 0.4 14.5 0.4-3.9 0.4 1.1 0.4-2.5 0.4-1.9 0.4 0.8 0.2-17.1 0.2 17 0.4-3.1 0.4 7.9 0.4-4.6 0.4 2.7 0.4 1.2 0.4 2.6 0.4-5.7 0.4-0.1 0.4-1.2 0.4-2.4 0.4-2.1 0.4 3.4 0.4-3.4 0.4 6.3 0.4-4.5 0.4 7.6 0.4 6.8 0.4-8.9 0.4-6.6 0.4 5.8 0.4 7.2 0.4-9.1 0.4 0.5 0.4 1.8 0.2-19.1 0.2 16.6 0.4-0.9 0.4 7.3 0.4-9.4 0.4 9.2 0.4-6.9 0.4 4.9 0.4-5.2 0.4 4.1 0.4-4.4 0.4 3.9 0.4 0.3 0.4 3.9 0.4-7.6 0.4 4.1 0.4-1 0.4 0.7 0.4-2.2 0.4 0.4 0.4-3 0.4 0.2 0.4 2.2 0.4 3.3 0.4-15.4 0.4 13.9 0.4-4 0.4 2.2 0.4-5.3 0.4 6.9 0.4-3.8 0.4-1.8 0.4-3.8 0.4 19.1 0.4 0 0.4-9.4 0.4-4.4 0.4 0 0.4-7.9 0.4 8.7 0.4 1.8 0.4 4.6 0.4 6.6 0.4 7.5 0.4 1.5 0.4-5.1 0.4 18.7 0.4 0.3 0.4 4.1 0.4-1.6 0.4 6.9 0.4-9.7 0.4 7.7 0.4-3.6 0.4 6.6 0.4 0 0.4-2.4 0.4-0.9 0.4-3 0.4-5.9 0.4-2.8 0.4 7.1 0.4-11.3 0.4 4.2 0.4-10 0.4-5.8 0.4 5.4 0.4-6.9 0.4 3.8 0.4-0.1 0.4-6.2 0.4 11.3 0.4-20.4 0.4 14.4 0.4-5.5 0.4-2.7 0.2 19.9 0.2-12.7 0.4 0.9 0.4-9.3 0.4-0.1 0.4-3.3 0.4 2 0.4-6.3 0.4 4.1 0.4 0.1 0.4 2.2 0.4 2 0.4-1.9 0.4-0.8 0.4-1.3 0.4-12 0.4 11.9 0.4 1.1 0.4 23.4 0-24.1 0.4-0.5 0.4-0.3 0.4-0.3 0.4-12.4 0.4 9.2 0.4 6 0.4-4 0.4-1.4 0.4 8.4 0.4-12.2 0.4 10.3 0.4-7.1 0.2 28.4 0.2-12.5 0.4-15 0.4 1.7 0.4 1.1 0.4 2.3 0.4 1.1 0.4-0.5 0.4-4.7 0.4 6.3 0.4-6.3 0.4 0.5 0.4-2.2 0.4-1 0.4-1.2 0.4 2.4 0.4 6.8 0.4-5.2 0.4 0.2 0.4 4.7 0.4 1.4 0.4 0.8 0.4-8.2 0.4 6.1 0.4-5.9 0.4 2.4 0.4-5.2 0.4 12.2 0.4 1.7 0.4-6.9 0.4-3.2 0.4 1.3 0.4 17.5 0.4-13.4 0.4 2.7 0.4 2.6 0.4 2.2 0.4 0.9 0.4-0.2 0.4-0.1 0.4-0.2 0.4-0.2 0.4-0.2 0.4-0.2 0.4-0.1 0.4-0.2 0.4-0.1 0.4 0.1 0.4 0.1 0.4 0 0.4 0.1 0.4 0.1 0.4 0 0.4 0.1 0.4 0 0.4 0.1 0.4 0.1 0.4 0 0.4 0.1 0.4 0.1 0.4 0 0.4 0.1 0.4 0.1 0.4 0 0.4 0.1 0.4 0 0.4 0.1 0.4 0.1 0.4 0 0.4 0.1 0.4 0.1 0.4 0 0.4 0 0.4 0 0.4 0 0.4 0 0.4 0 0.4 0 0.4 0 0.4 0 0.4 0 0.4 0 0.4 0 0.4 0 0.4 0 0.4 0 0.4 0 0.4 0 0.4 0 0.4 0 0.4 0 0.4 0 0.4 0 0.4 0 0.4 0 0.4 0 0.4 0 0.4 0 0.4 0 0.4 0 0.4 0 0.4 0 0.4 0 0.4 0 0.4 0 0.4 0 0.4 0 0.4 0 0.4 0 0.4 0 0.4 0 0.4 0 0.4 0 0.4 0 0.4 0 0.4 0 0.4 0 0.4 0 0.4 0 0.4 0 0.4 0 0.4 0 0.4 0 0.4 0 0.4 0 0.4 0 0.4 0 0.4 0 0.4 0 0.4 0 0.4 0 0.4 0 0.4 0 0.4 0 0.4 0 0.4 0 0.4 0 0.4 0 0.4 0 0.4 0 0.4 0 0.4 0 0.4 0 0.4 0 0.4 0 0.4 0 0.4 0 0.4 0 0.4 0 0.4 0 0.4 0 0.4 0 0.4 0 0.4 0 0.4 0 0.4 0 0.4 0 0.4 0 0.4 0 0.4 0 0.4 0 0.4 0 0.4 0 0.4 0 0.4 0 0.4 0 0.4 0 0.4 0 0.4 0 0.4 0 0.4 0 0.4 0 0.4 0 0.4 0 0.4 0 0.4 0 0.4 0 0.4 0 0.4 0 0.4 0 0.4 0 0.4 0 0.4 0 0.4 0 0.4 0 0.4 0 0.4 0 0.4 0 0.4 0 0.4 0 0.4 0 0.4 0 0.4 0 0.4 0 0.4 0 0.4 0 0.4 0 0.4 0 0.4 0 0.4 0 0.4 0 0.4 0 0.4 0 0.4 0 0.4 0 0.4 0 0.4 0 0.4 0 0.4 0 0.4 0 0.4 0 0.4 0 0.4 0 0.4 0 0.4 0 0.4 0 0.4 0 0.4 0 0.4 0 0.4 0 0.4 0 0.4 0 0.4 0 0.4 0 0.4 0 0.4-3.7 0.4-0.2 0.4-8.6 0.4-2.1 0.4-2 0.4 5.8 0.4-5.6 0.4 4.4 0.4-5.9 0.4 4.4 0.4 4.4 0.4-0.6 0.4-3.6 0.4 4.8 0.4 4.2 0.4-8.8 0.4-0.3 0.4-0.6 0.4 3.2 0.4 0.7 0.4-2.1 0.4 4.8 0.4-2.8 0.4-8.2 0.4 9.9 0.4-1.8 0.4-2.6 0.4 9 0.4-6.6 0.4-5.7 0.4 9.7 0.4-7.7 0.4-4.1 0.4 2.6 0.4 8.9 0.4-2.4 0.4 5.6 0.4-11.4 0.4 2.5 0.4-1.7 0.4 1.7 0.4-2.6 0.4-17.6 0.4 12.2 0.4 9.9 0.4-0.3 0.4-1.1 0.4 20.3 0.4-20.4 0.4-1.9 0.4 6.2 0.4-2.6 0.4-7.3 0.4 6.3 0.4-4.7 0.4 6.3 0.2-15.8 0.2 12.9 0.4 3.7 0.4-5.5 0.4 5.7 0.4-1.3 0.4 0.8 0.4 0.1 0.4-4.9 0.4 6.6 0.4-7.4 0.4 22.7 0.4-22.5 0.4 6.5 0.4-1.9 0.4 1.7 0.4-5.5 0.4 4.1 0.4-5.4 0.4 6.3 0.4 0.9 0.4-0.4 0.4-3.7 0.4-1.4 0.4-2.6 0.4 6.1 0.4-8.8 0.4 6.1 0.4-0.1 0.4 13.1 0.4-1.6 0.2 9.7 0.2-23.6 0.4 4.8 0.4 0 0.4-17 0.4 21.1 0.4-4.1 0.4-1.4 0.4 2.2 0.4-5.1 0.4 1.7 0.4 2.5 0.4 0.8 0.4-1.5 0.4 0.4 0.4 0.6 0.4-2.1 0.4 1 0.4-3.1 0.4 0.3 0.4 1.8 0.2-13.3 0.2 10.5 0.4 0.5 0.4 9 0.4-8.5 0.4 4.2 0.4 1 0.4-6 0.4 3.4 0.4-12.8 0.4 13.6 0.4-0.3 0.4 0.6 0.4-19.8 0.4 14.7 0.4 1 0.4 3.1 0.4-6.2 0.4 6.8 0.4-5.3 0.4 6.7 0.2 17.8 0.2-14.1 0.4-4.7 0.4-4.1 0.4-0.1 0.4 1.6 0.4 3.6 0.4-9.4 0.4 6.9 0.4 0.8 0.4-4 0.4 4.3 0.4 0.7 0.4 4.6 0.4 6.1 0.4-13.8 0.4 6.4 0.4-5.5 0.4 1.2 0.4 2 0.4 0.2 0.4-7.5 0.4-3.1 0.4 8.6 0.4-3.2 0.4 4 0.4-0.8 0.4 1.3 0.4-1.1 0.4 6.1 0.4-5.8 0.4 0.7 0.4 15 0.4-13 0.4-3.7 0.4 0 0.2 37.1 0.2-38.8 0.4-0.6 0.4-0.5 0.4 3.4 0.4-2.8 0.4 0.4 0.4 4.3 0.4-2.7 0.4 3.8 0.4 6.3 0.4-13.2 0.4 4.9 0.4-0.8 0.4-0.2 0.4 2.1 0.4-6.1 0.4 8.5 0.4-1.9 0.4 5.2 0.4-0.7 0.4 1.1 0.4 0 0.4 0 0.4 0 0.4 0 0.4 0 0.4 0 0.4 0 0.4 0 0.4 0 0.4 0 0.4 0 0.4 0 0.4 0 0.4 0 0.4 0 0.4 0 0.4 0 0.4 0 0.4 0 0.4 0 0.4 0 0.4 0 0.4 0 0.4 0 0.4 0 0.4 0" fill="none" stroke="#f01e24" stroke-width="0.9" stroke-linejoin="round" opacity="0.62"/></g>
<path d="M236.8 417.3v-10.5M236.8 130v10.5M349.6 417.3v-10.5M349.6 130v10.5M462.5 417.3v-10.5M462.5 130v10.5M575.3 417.3v-10.5M575.3 130v10.5M688.2 417.3v-10.5M688.2 130v10.5M801 417.3v-10.5M801 130v10.5M913.9 417.3v-10.5M913.9 130v10.5M1026.7 417.3v-10.5M1026.7 130v10.5M1139.6 417.3v-10.5M1139.6 130v10.5M125.2 201.4h10.5M1252.5 201.4h-10.5M125.2 272.9h10.5M1252.5 272.9h-10.5M125.2 344.3h10.5M1252.5 344.3h-10.5" class="tk"/>
<rect x="125.2" y="130" width="1127.3" height="287.3" class="ax"/>
<text transform="translate(127.9 447) scale(0.955 1.075)" text-anchor="middle" class="tk2">0</text>
<text transform="translate(238.2 447) scale(0.955 1.075)" text-anchor="middle" class="tk2">1000</text>
<text transform="translate(351 447) scale(0.955 1.075)" text-anchor="middle" class="tk2">2000</text>
<text transform="translate(463.9 447) scale(0.955 1.075)" text-anchor="middle" class="tk2">3000</text>
<text transform="translate(576.7 447) scale(0.955 1.075)" text-anchor="middle" class="tk2">4000</text>
<text transform="translate(689.6 447) scale(0.955 1.075)" text-anchor="middle" class="tk2">5000</text>
<text transform="translate(802.4 447) scale(0.955 1.075)" text-anchor="middle" class="tk2">6000</text>
<text transform="translate(915.3 447) scale(0.955 1.075)" text-anchor="middle" class="tk2">7000</text>
<text transform="translate(1028.1 447) scale(0.955 1.075)" text-anchor="middle" class="tk2">8000</text>
<text transform="translate(1141 447) scale(0.955 1.075)" text-anchor="middle" class="tk2">9000</text>
<text transform="translate(1253.9 447) scale(0.955 1.075)" text-anchor="middle" class="tk2">10000</text>
<text transform="translate(120.7 141) scale(0.955 1.03)" text-anchor="end" class="tk2">10</text>
<text transform="translate(120.7 212.4) scale(0.955 1.03)" text-anchor="end" class="tk2">5</text>
<text transform="translate(120.7 283.9) scale(0.955 1.03)" text-anchor="end" class="tk2">0</text>
<text transform="translate(120.7 355.3) scale(0.955 1.03)" text-anchor="end" class="tk2">-5</text>
<text transform="translate(120.7 428.3) scale(0.955 1.03)" text-anchor="end" class="tk2">-10</text>
<text transform="translate(67.9 273.6) rotate(-90)" text-anchor="middle" class="tt">Roll (degree)</text>
<text x="687.8" y="478.6" text-anchor="middle" class="tt">Time (s)</text>
<line x1="236.8" y1="517.5" x2="236.8" y2="804.4" class="gd"/>
<line x1="349.6" y1="517.5" x2="349.6" y2="804.4" class="gd"/>
<line x1="462.5" y1="517.5" x2="462.5" y2="804.4" class="gd"/>
<line x1="575.3" y1="517.5" x2="575.3" y2="804.4" class="gd"/>
<line x1="688.2" y1="517.5" x2="688.2" y2="804.4" class="gd"/>
<line x1="801" y1="517.5" x2="801" y2="804.4" class="gd"/>
<line x1="913.9" y1="517.5" x2="913.9" y2="804.4" class="gd"/>
<line x1="1026.7" y1="517.5" x2="1026.7" y2="804.4" class="gd"/>
<line x1="1139.6" y1="517.5" x2="1139.6" y2="804.4" class="gd"/>
<line x1="125.2" y1="660.5" x2="1252.5" y2="660.5" class="gd"/>
<g clip-path="url(#c1)"><path d="M125 695l0 8 0-10 1 3 0 3 0 1 0-6 1 2 0-6 0 5 0 5 0-10 0 2 1 6 0 5 0-14 0 9 0-7 0 5 0-9 1 8 0 2 0 5 0-7 0-6 1 11 0 3 0 1 0-2 1-1 0-4 0-1 0-7 0 10 1-4 0 2 0 5 0-5 0 0 0-2 1-6 0-1 0 6 0 5 0-8 0 11 1 0 0 6 0-17 0 15 0-4 0-3 1-6 0-6 0 15 0-7 0-8 1 3 0 7 0 4 0-6 0 3 0 6 1-5 0 5 0-2 0 1 0-9 1 7 0-11 0 6 0 7 0-8 1-6 0 9 0-8 0 6 0-9 0 8 1-5 0 14 0-10 0 5 1-9 0-1 0 7 0 6 1-4 0-5 0 5 0-4 0 4 0 6 0-13 0 4 1 2 0-2 0 3 1-8 0 4 0 7 0 1 0-6 0 2 1-1 0 4 0 2 0-10 0 9 1 4 0-7 0 1 0 3 0 0 0 1 1-5 0 1 0-3 0 2 0-8 1 7 0-3 0 4 0-6 0 5 1-2 0 4 0-3 0 6 0-5 1 5 0-7 0-1 0 1 0 2 1 5 0-4 0 4 0-8 0 0 0 9 1-2 0-7 0 7 0 0 1-4 0 2 0-3 0-4 0 11 1-7 0-4 0 2 0 2 0 2 1-6 0 8 0-11 0 5 0 8 0-11 0 0 1 12 0-9 0 4 0 0 0-5 1 8 0-12 0 7 1 4 0-11 0 7 0 2 0-9 0 8 0-8 1 8 0 4 0-7 0 6 1-7 0 6 0-1 0-3 0-2 0 8 1-2 0-8 0 9 0 2 0-8 0 2 1-4 0-4 0-2 0 1 0 3 1 0 0-1 0 0 0 12 0-7 1 4 0 0 0-8 0 1 0 10 1-4 0-1 0 8 0-6 1 2 0-2 0 0 0 4 0 2 0-7 1-5 0 10 0-14 0 0 0-1 1 15 0-14 0 4 0 2 0 2 0 7 0-17 0-3 0-7 1 19 0-17 0 3 0-8 0 19 0 6 0-1 0 4 1-6 0 6 0-13 0 5 0 4 0-2 1 4 0-4 0 7 0-6 0 6 1-7 0-3 0-5 1 0 0 7 0 0 0 2 0 5 0-1 0-5 0 0 1 7 0-8 0-2 0-4 0 1 1 12 0-12 0 11 0-10 0 14 1-4 0-8 0 5 0-8 1 13 0-5 0-6 0-3 0 9 0-7 1-2 0 14 0-3 0 0 1 2 0-4 0 0 0 3 0-3 0 4 1-5 0 0 0-2 0-3 0 6 1 4 0-4 0-3 0 3 0-1 1-2 0 7 0-10 0 1 0 0 0 3 1-6 0 6 0-7 0 4 1 3 0 0 0 2 0-8 0 4 0 4 1 5 0-4 0-4 0 7 1-2 0-9 0 1 0 2 0-4 0 4 0-5 1-1 0 8 0-3 0-2 0 2 1 8 0 4 0 0 0-10 0 7 1-6 0 9 0-14 0 8 0-4 0 0 1 0 0 7 0-6 0 3 1 3 0 2 0-1 0-11 0 7 1-2 0 1 0 2 0 3 1 2 0-2 0 7 0-7 0-9 0-3 0 17 0-13 0 3 0-11 1 6 0 1 0 0 0-4 0 0 1 14 0-17 0 4 0 7 0-7 1 4 0-2 0-4 0 16 0-16 1 11 0-6 0 2 0 1 1-4 0 1 0 7 0-11 0 4 0-1 1 8 0-6 0 8 0-13 0 7 0-15 0-2 0 5 0 17 1-25 0 12 0 10 0-6 0 7 0-10 1 1 0 2 0-7 0 9 0-3 0 1 1-4 0 14 0-15 0 4 0 4 0-5 1 10 0-5 0 0 0-4 1 8 0 1 0 3 0 1 0-2 1 10 0-21 0 18 0-10 0 3 0-9 1 8 0 6 0 5 0-1 0 5 0 2 1-6 0-8 0 10 0-8 0-9 1 1 0 16 0-12 0 15 0-20 0 4 1-2 0-1 0 2 0-4 0 23 1-17 0 4 0 4 0 4 0 3 1-6 0-17 0 6 0 12 0-15 0 7 0 3 1-3 0 5 0 0 1-5 0-4 0 18 0 5 0-30 0 27 0-5 0-16 0 0 0 21 0 3 1-30 0 5 0 27 0-27 0 20 0-21 0 2 1 13 0-17 0 15 0-19 1 1 0 11 0 10 0-9 0-12 0 3 0 4 1 9 0-25 0 16 0 7 0-12 1-4 0 1 0 12 0-2 0-2 1-8 0 13 0-5 1 0 0 1 0-15 0 8 0 2 0-9 0 25 0 2 1-21 0 17 0-6 1 9 0-20 0 19 0-11 0-4 0 10 1-5 0-1 0 15 0-5 0-16 1 30 0-12 0 6 0 12 0-30 1 21 0 11 0-10 0 0 0-10 0-10 1 18 0 24 0-48 0 19 0-5 0 1 1 7 0-14 0 17 0-30 0 6 1-5 0 6 0-10 0 13 0 1 1-14 0 13 0-16 0 18 0-26 0 24 1 1 0-14 0 4 0-22 0 21 0-20 1 4 0 12 0-5 0-3 1 4 0-7 0-9 0 0 1 3 0-5 0 3 0 7 0-9 0-2 1-6 0 1 0 20 0-17 0 6 0 7 0-21 1 3 0 9 0 8 1 6 0-3 0-17 0-5 0 28 0-30 0 1 0 19 1-6 0 4 0 5 0 12 0-7 1-8 0 17 0-3 0 0 0 8 0 1 1 3 0-8 0 0 0 3 0 6 0 0 1 4 0-3 0 5 0-8 1 9 0-4 0 1 0-3 0 6 1 2 0-3 0-3 0 9 0-12 1 13 0-7 0 3 0-4 0-1 0 0 0 10 1-8 0-3 0 10 0-5 1-1 0 1 0-4 0 8 1-14 0 2 0 12 0-13 0 9 0-3 1 4 0-5 0 23 0-22 0-1 0 21 0 5 1-8 0-5 0-14 0 10 0 1 0 2 0 4 0-12 0 6 0-2 1-10 0 12 0-10 0 2 1 4 0-2 0 4 0-5 0-8 0-3 1-5 0 16 0-4 0-1 0-7 1-4 0-3 0 3 0 4 1 7 0-12 0 3 0-8 0 1 0-3 0 1 1-2 0 1 0 3 0 8 0-15 1 1 0 9 0-14 0 4 0 10 1-21 0 4 0 5 0 2 1-7 0 14 0-20 0 21 0-25 0 25 1-15 0 5 0-1 0 4 0 6 0-19 0 12 0 5 1-1 0 1 0-11 1 9 0 4 0-13 0 10 1-2 0 5 0 5 0 4 0-13 0 6 1-3 0 10 0-9 0 3 0-7 1 16 0-9 0 10 0-7 0 7 1 0 0 0 0 3 0-11 0 0 1 1 0-4 0 14 0 2 0-12 0-5 1 11 0 3 0-4 0 10 0-5 1 5 0-15 0 15 0-9 0-9 1 10 0 4 0 4 0-13 0 3 0 1 1 1 0 1 0-8 0 8 1 2 0-8 0 3 0-2 0-7 1 8 0-12 0 0 0 13 0 2 0-11 1 12 0 1 0-2 0-3 0-14 1 6 0 14 0-4 0 0 0 6 0 5 0-14 0-12 1 1 0 22 0-26 0 6 0 7 0-9 1-1 0 11 0-7 0 13 1-5 0-4 0 1 0 2 0 4 1-8 0-1 0-1 0 9 0-3 0 0 0-8 1 6 0 0 0 1 0 11 0-7 1 4 0-20 0 25 0-21 0 9 0-11 0-3 0 2 1 7 0-8 0-3 0 16 0-1 1 3 0-3 0-1 0-1 1 1 0 1 0-14 0 11 0-5 0 7 0-6 1-3 0-1 0 11 0-15 0 3 1 0 0-14 0 5 0-8 0 23 0-18 0 19 0-6 1 10 0-17 0-1 0 8 0-2 0-9 1 10 0 1 0 10 0-4 1-1 0 0 0-5 0-2 0-5 0 4 0 4 1-2 0 10 0-1 0 0 0 0 1-8 0 3 0 1 0 6 1-2 0-1 0-2 0 8 0-6 0 14 1-4 0 10 0-13 1 10 0 3 0-8 0 8 0-8 0-8 1 8 0 3 0-6 0 8 0-18 0 10 1-11 0 13 0-5 0 5 0-1 0 2 0-16 1 3 0-3 0 10 0-5 1 6 0-14 0 12 0-1 0-2 1-8 0 5 0-9 0-1 0 13 0-4 1-14 0 11 0-14 0 2 0 10 1 3 0-16 0 10 0 1 1-5 0 0 0 0 0-4 0 2 1-4 0 2 0-4 0 0 0 3 0-9 1 17 0-18 0 21 0-11 0-9 0 1 1 15 0-10 0 7 0 2 1 10 0-1 0-3 0 0 0 11 0-6 1-12 0 15 0 5 0 3 1-2 0-1 0 3 0-2 0-1 0 11 1 2 0 1 0-12 0 20 0-2 1 1 0 0 0-7 0-2 0 11 0 6 0-1 1-14 0 0 0 7 1-2 0 2 0-3 0 5 0 0 1-15 0 13 0-4 0-4 0-9 0 14 0-5 1 3 0-16 0 6 0-11 1 2 0 8 0-14 0 0 0 7 0-5 1 1 0 2 0-4 0-1 0 4 1-6 0 12 0-5 0-7 0 2 1-2 0-8 0 15 0-14 0-7 0 3 1 1 0-2 0 9 0 5 1-17 0 0 0 8 0 16 1-19 0 1 0 5 0 7 0-6 0 5 0 13 1-8 0-8 0 18 0-21 1 26 0-3 0-13 0 5 0-2 0 6 1 1 0-8 0 16 0-7 0-11 1 18 0 11 0-18 0-3 0-1 0 17 1-12 0 6 0-9 0-2 0 18 1-19 0 2 0 11 0-8 0 3 0-8 0-6 1 25 0-24 0 14 0-14 1 9 0 5 0 9 0-13 1 12 0-27 0 6 0-4 0-3 0 1 1 15 0-5 0-10 0 14 1-6 0-6 0 11 0 2 0 0 0-1 1-12 0 8 0-11 0 4 0-13 0 25 1-12 0-12 0 27 0-25 1 21 0-7 0-1 0-7 0 7 1 6 0-14 0-11 0 12 0 9 0-23 0 11 1 6 0-4 0-4 0 7 0-1 0 11 1-20 0 6 0 12 0-6 0 1 1-5 0 16 0-12 0-1 1 1 0-5 0-10 0 0 0 4 0 18 1-13 0 8 0-13 0 10 1-5 0-5 0 15 0-14 0 2 1 5 0 4 0 1 0-6 0 9 0-17 1-2 0 6 0 2 0-4 0 9 0 4 1-20 0 18 0-12 0-2 0 7 0-1 1-3 0 4 0-3 1 4 0-4 0 9 0-10 0 2 1 11 0-5 0-9 0 9 0 6 0-4 0-15 1 3 0 5 0 5 0-9 0-1 1 14 0 1 0-18 0 4 0 13 0 4 1-15 0 5 0-8 0-5 0 14 1-3 0 8 0-7 0-2 1 7 0-21 0 9 0-2 0 8 0-10 1 11 0 1 0-1 0-13 0 14 1 10 0-20 0 16 0 6 0-5 0 8 0 2 0 3 0-24 0 7 1-12 0-3 0 9 0-10 0 9 0-6 0-4 0-10 1 16 0-21 0 19 0-5 0 11 0-23 0 5 0 6 1-16 0 13 0 14 0-9 0 6 0 11 0-5 0-14 1 22 0-21 0 24 0-18 0-8 0 10 1-6 0-2 0 0 0 5 0 13 1 0 0-8 0-3 0 16 0-14 1 8 0-12 0-4 0 15 0-7 0 4 0 5 1 0 0 6 0-21 0 3 1 3 0 0 0 11 0-15 0 3 1-1 0 2 0 10 0-1 0-5 1 4 0-6 0 11 0-6 0-1 0 11 0-9 0-1 1 1 0-1 0-6 1 14 0-9 0 10 0-15 0 9 1 2 0-13 0 16 0-13 0 7 1 10 0-17 0 0 0 20 0-12 0 17 0-13 0 10 0-16 1-3 0-5 0 0 0 6 0 0 0 6 1-13 0 9 0-5 1 10 0-17 0 18 0-22 0 17 0 6 0-5 1-15 0 10 0 2 0-13 0 20 0 6 0-25 1 9 0 8 0-12 0 8 1-9 0-3 0 18 0-1 0 5 1-17 0 4 0-2 0-22 0 3 1 23 0-16 0 21 0-20 0 10 0 19 1-20 0 16 0-15 1 19 0-32 0 28 0 0 0-6 0 6 1-10 0 6 0 12 0 1 0-6 1 1 0-32 0 24 0-34 0 17 0-20 1 16 0-6 0 30 0-46 0 34 0 4 0-40 0 41 1-36 0 13 0-2 0-1 0 6 0 22 0-21 1 3 0-9 0 39 0-7 1-6 0-20 0 6 0-8 1 23 0-8 0-6 0 13 0 10 0-18 0 22 1-9 0 2 0 1 0-25 0 9 1 18 0 2 0-1 0-4 0 8 0-21 0 14 1-12 0-14 0 3 1 4 0 0 0-6 0 0 0 16 1 6 0-13 0 6 0-1 0-9 0-1 0 16 1-1 0-25 0 12 0 15 0-17 1-4 0 3 0-1 0-3 1 8 0 17 0-11 0 0 0 9 1-14 0-6 0 21 0 0 0-26 0 44 0-39 1 41 0-31 0 23 0-19 0-17 0 18 0 4 1 17 0-13 0-21 0 3 0-2 0 5 1 3 0 6 0-8 0 20 0-20 1 19 0 1 0 2 0-22 1 1 0 4 0 14 0-1 0-12 0 3 0 8 1-3 0-9 0 7 0-5 0-10 1 18 0-6 0 6 0 2 0-19 0 22 0-15 1-19 0 8 0 13 0-8 0-17 1 24 0-13 0 14 0-7 0-9 0 3 1 4 0 0 0 11 0 8 0-27 1 29 0-1 0-11 0 12 1-8 0-6 0 16 0 2 0-4 1-11 0 2 0 2 0 6 0 6 0-16 1 12 0-5 0 11 0-22 0 11 0-2 1 4 0 6 0-17 0-3 1 11 0-11 0 1 0 11 0 0 0-13 1 22 0-15 0 1 0-7 0 4 1 2 0 9 0-18 0 5 0-4 0 4 1-6 0-1 0 17 0 2 1-6 0-8 0-9 0 7 0 10 0-12 1 21 0-22 0 20 0-5 0-16 1 20 0-17 0 7 0 6 0-15 1 14 0 12 0-23 0 31 0-3 0-23 0 22 1 0 0-7 0 5 0 4 1-11 0 11 0-2 0 4 0-18 0 12 0 2 1-12 0-1 0 1 0 20 1-7 0 0 0-8 0 5 0 0 0 2 1 3 0-9 0 3 0 6 1-1 0-7 0 16 0 0 0-11 1-6 0 13 0-2 0-2 0 3 0-17 0 8 1-3 0-7 0-2 0 14 0-10 1 9 0-6 0-2 0 27 0-27 0 2 1-8 0 3 0 1 0-16 1 7 0 11 0-9 0-11 0 12 0 1 0 3 1-14 0 12 0-6 0 5 0-12 0 20 1-23 0 6 0-2 0-3 0 25 0-10 1 12 0-14 0 14 0-9 0 1 1-23 0 2 0 4 0 1 0 5 0-3 1-1 0 7 0 13 0-20 0-2 1-1 0 23 0-12 0-4 0 14 0-21 1 26 0-8 0-6 1 5 0-1 0-4 0 15 0-20 1 9 0-1 0 5 0-17 0 10 1 10 0-3 0 4 0 4 0-22 0 2 1-3 0 20 0-9 0-5 0 5 0 5 1-1 0-2 0-12 0 17 1-13 0 13 0-18 0-26 0 46 0-21 1 17 0-27 0 29 0-5 0 3 0 2 1-33 0 18 0 16 0-28 0 4 0 1 1-5 0 3 0 10 0-5 1 0 0 19 0-24 0 23 0 1 0-9 1-10 0 1 0-3 0 15 1 6 0-16 0 9 0-4 0-6 1 16 0 2 0-15 0 7 0 6 0-3 1-9 0 15 0-9 0 2 0 3 1 4 0-13 0 5 0-4 0 4 1 0 0-1 0-5 0 2 0 3 0 1 0 4 1-12 0 9 0-10 0 16 1-3 0 3 0-23 0 2 1 11 0 0 0-4 0-4 0-7 0 9 0 16 0-12 1 11 0-19 0-1 0-2 1-7 0 23 0-18 0 6 0 2 1-2 0 15 0 6 0-3 0-2 0 1 1-7 0-23 0 23 0 2 1-9 0-5 0 16 0-25 0 19 1 2 0-22 0 21 0-13 0-7 0 19 1-9 0 13 0-12 0-2 1 11 0-11 0-14 0 21 0 5 1-25 0 27 0 2 0 2 0-10 0 1 0 3 1-29 0 33 0-9 0-8 1 14 0-10 0-7 0-3 1 10 0-10 0 9 0-10 0-1 0 5 0-7 0 12 1-2 0-10 0 6 0-1 0 3 1-4 0 3 0-3 0 1 0-5 1-1 0 4 0 11 0-10 0 0 1-3 0 7 0 38 0-47 0 4 1-3 0 9 0-2 0 3 0-5 1-4 0 6 0 4 0 9 0-15 0-6 0 18 0 5 0-8 0-12 0 1 1 21 0-18 0-6 0 0 0 13 0 0 1-1 0-5 0-5 1-3 0 3 0-3 0-2 0 1 0 10 0 0 1-9 0 0 0 0 0 1 0 0 1 5 0-3 0 2 0-1 1-3 0-3 0 8 0 1 0 1 1 0 0-4 0 2 0 0 0 1 0-1 0 4 1-9 0 4 0 3 0-2 0-7 1 2 0-1 0-1 0 3 0-2 1 7 0 0 0 8 0-5 0 0 1 5 0-1 0-6 0 4 0-7 1 5 0-7 0 6 0-9 0 10 0-2 1 1 0 3 0 0 0 3 1-8 0 8 0-15 0 10 0 2 0-4 0 5 1-1 0-2 0-7 0-5 0 13 1-10 0 10 0-6 0 0 0 8 1-9 0-4 0 6 0 4 0-3 1 4 0-7 0 10 0-3 0 4 1-1 0-10 0-8 0 3 0 15 0-3 0-20 0 15 1-13 0 18 0-10 0 10 0-9 1 2 0 4 0-2 0 3 0 2 0 2 1-12 0 3 0 4 0 3 0-3 1-1 0 6 0-3 0 4 1-9 0 4 0-8 0 13 0-3 0-4 0 6 1-12 0 3 0 3 0 4 0-8 1 12 0-9 0 4 0 0 0-8 1 6 0-3 0 0 0 3 0-4 1-2 0-1 0 10 0-1 0 3 0-5 1 4 0-2 0 4 0-10 1-2 0 12 0-3 0-6 0-2 1 0 0 12 0-12 0 13 0-9 1 0 0 19 0-12 0-6 0 2 0-3 1 14 0 5 0-4 0-17 0 16 0-1 0-13 1 11 0 3 0-9 0 0 1 4 0-2 0 3 0-10 1 16 0 3 0-11 0-5 0 7 0-1 0 0 1-4 0 11 0 0 1-17 0 8 0 7 0 2 0 17 0-20 0-18 0 13 1-5 0 12 0-18 0 6 0 7 0 6 1-5 0-12 0 6 1-6 0-3 0 18 0-15 0 15 1 0 0-1 0-11 0 8 0-8 0 0 1-3 0-4 0 4 0-5 0 11 1-3 0-2 0 12 0-1 0-16 0 3 1 7 0-7 0 13 0-7 0-9 0 2 1 5 0 0 0-2 0 14 1-3 0-7 0-6 0 3 0-1 0 1 1-7 0 27 0-5 0-4 0-4 1-6 0 16 0-13 0-2 0-8 0 6 0-8 0 5 1 13 0 2 0-17 0 2 0 8 0 6 1-2 0-10 0 14 0-14 0 7 1-1 0-3 0 10 0-15 0 12 1-15 0 5 0 7 0 4 0-6 1 11 0-13 0-1 0 8 1-11 0-1 0 1 0 2 0-1 0 11 1-2 0-4 0-1 0-8 1 16 0-4 0-12 0 11 0-10 1 8 0 0 0 5 0-13 0 33 0-27 0 6 1 0 0 4 0 2 0-19 0 1 0 13 1-10 0 4 0-3 0 7 1-2 0-5 0-6 0 15 0-4 1-3 0-8 0 13 0 1 0 2 0-3 0 3 1-13 0 8 0 4 0-12 0 3 1 4 0 5 0-8 0 11 1-7 0-7 0 5 0-8 0 6 0 12 0-5 1-16 0 0 0 2 1 0 0 13 0-5 0-5 0 7 1-1 0 1 0-1 0-4 0 7 0 12 0-17 0 6 1 9 0 7 0-7 0-5 0 9 1 0 0-4 0 1 0 5 1-13 0 12 0-11 0 13 0 8 0-5 0-20 0 4 0 19 1-17 0 0 0 23 0-29 0-2 1 11 0-14 0 8 0-2 0-8 0 13 1-6 0 5 0 2 0-15 0 5 1 10 0-6 0-6 0 3 0 2 0-12 1-4 0 18 0-3 0-3 0 0 1 3 0-15 0 4 0-10 1 13 0 0 0 1 0-11 0 17 1-24 0 14 0 0 0 0 0-4 0-9 1 19 0-7 0 4 0-5 0 9 0-6 1-2 0-1 0 12 0-5 1-1 0-7 0-1 0 2 0-1 0 17 1-13 0 1 0 11 0-1 0-8 1 2 0-3 0 0 0 10 1 5 0-18 0 10 0 3 0-3 1 0 0 3 0-6 0-4 0 1 0 15 1-3 0-11 0 7 0 1 0 7 1-14 0 1 0 4 0-1 0 7 1-11 0 3 0 5 0-9 0 10 1-9 0 0 0 1 0 1 0-5 1-2 0 6 0 3 0-14 0 15 1-15 0 15 0-14 0 16 0-18 1 0 0 12 0 9 0-23 0 6 0 7 1-16 0 22 0-14 0-1 1-4 0-9 0 1 0 12 0-4 0-8 0 14 0-10 1 15 0-19 0 5 0 4 1-7 0-1 0-4 0 5 0 18 0-9 0-8 1 3 0-3 0 15 0-10 1-5 0 4 0 6 0-1 0 3 1 10 0-16 0-1 0 5 1-4 0-4 0 16 0 4 0-24 0 8 0-3 1 15 0-19 0 15 0-6 1-1 0 6 0-9 0-8 0 19 0-14 0 7 1-15 0 3 0 22 0-20 1 0 0-2 0 12 0 1 0-13 1 3 0 7 0 17 0-7 0-18 0 3 1 14 0-17 0 4 0 5 0 3 1 8 0-4 0 6 0 7 0-10 1-2 0 5 0 8 1-15 0 16 0-13 0-3 0 11 0 6 0-4 0-7 1 6 0-2 0-7 0 9 0 10 1 11 0-13 0-7 0-4 0 10 0 9 1-8 0 10 0-9 0-1 0 11 0-8 1-6 0 11 0 11 0-18 0 14 1 1 0-5 0-17 0 19 0-18 1 14 0-6 0 7 0-3 0-4 1 7 0 6 0-24 0 23 0-18 1 18 0-7 0 0 0-3 0 3 0 0 1 1 0-13 0 9 0-8 0 2 1-6 0 8 0-8 0 13 0-1 1 4 0 5 0-7 0-4 0-1 1-6 0 9 0-13 0 20 0 1 1-21 0 6 0-4 0 5 0 7 0 7 1 3 0-10 0 10 0-21 0 6 1 4 0 1 0-12 0 12 0 3 0 2 1-9 0 9 0-6 0-2 1 5 0-5 0-1 0 2 0 11 0-16 1-3 0-3 0 4 0 29 0-14 0 0 1-14 0 8 0-9 0 9 1-2 0-6 0 4 0-4 0 6 0-10 1 11 0-1 0-3 0-5 0 2 1-9 0 12 0 7 0-12 1-13 0 7 0 13 0 1 0 4 0-23 1 1 0 21 0-2 0-26 0 1 0 1 1 24 0-25 0 23 0 6 0 0 0-30 1 25 0-3 0-13 1 4 0 12 0-12 0-5 0-7 1-7 0 14 0 17 0-17 0 10 0-21 0 13 1-3 0 1 0 4 0 0 0-12 1-15 0 30 0 9 0-34 0 26 0-16 0-18 0 18 1 18 0-31 0 22 0 2 0 5 0-19 1 19 0-16 0 27 0-17 1 16 0-14 0 15 0 0 0-18 1 4 0-7 0 6 0-1 0-12 0 20 0 3 1 1 0 0 0 4 0-7 0 8 0-4 0-16 1 10 0-1 0 6 1-9 0 19 0 0 0 2 0-16 0 11 0-5 1-3 0 1 0 11 0-19 1 17 0-18 0 0 0 5 0 3 0-1 1 1 0-3 0-2 0-6 0 5 1 15 0-5 0-2 0 0 0-7 1 6 0-1 0 1 0 4 0-2 0 5 0 0 1-8 0 12 0-2 0-12 0 5 0 7 1-3 0-4 0 4 0-7 1 9 0 4 0-6 0 5 0 1 0 2 1-1 0-7 0-1 0 4 1-3 0-2 0 8 0-12 0 3 0-6 1 6 0-5 0 13 0-13 1 13 0-9 0-5 0 11 0 3 0-6 1 6 0-12 0 1 0 11 0-1 1-6 0-1 0 1 0-7 0 6 1-6 0 5 0-8 0 6 1 3 0 3 0-9 0 2 0 0 1 7 0-5 0 0 0 4 0-10 1 1 0 14 0-2 0-6 0-1 0 6 0 3 1-9 0 5 0 4 0-2 1 1 0-6 0-1 0 5 0-2 0-8 1 5 0 1 0-7 0-2 0 2 1 1 0 2 0-1 0-2 0 6 1-5 0 4 0-3 0 1 0 4 0 2 1-4 0 5 0-9 0-1 0 4 1-3 0-3 0 7 0-3 0-2 1 7 0 5 0 5 0-20 0 18 0-10 0 5 0-13 0 1 0 2 1 6 0-2 0-10 0 0 0 0 1 0 0 10 0-4 0 1 1 14 0-18 0 16 0-12 0 9 0-6 0 4 0-4 0-6 0 4 0-8 1 11 0-6 0 0 1 5 0-9 0 4 0 5 0-9 0 2 0-3 1 3 0 2 0-1 0 3 0-5 0 8 1-6 0-5 0 9 1-8 0 7 0 3 0-9 0-1 0 0 0 10 1-14 0 10 0 0 0 2 1 0 0-2 0 2 0 1 0-2 1 4 0-2 0 1 0-2 1-7 0 0 0-3 0 7 0 3 0-3 1-2 0-2 0 8 0-9 0 9 1-6 0-1 0 6 0-4 0-2 0-4 0-2 0 1 1 0 0 2 0 4 1-6 0 7 0-1 0-1 0 5 0-1 1-6 0 3 0 2 0 7 1-2 0-11 0 6 0 8 0-7 1-2 0 4 0-5 0 7 0 4 0-5 0-5 1 9 0-7 0-1 0 5 0 2 1-6 0 10 0-6 1 1 0-3 0 1 0-2 0-2 0 12 1-11 0 0 0 6 0-2 0 4 0 3 1-6 0 1 0 2 0 5 0-3 1-3 0 4 0-8 0 12 0-3 1-10 0 12 0-10 0 6 0 5 0 0 1-5 0-2 0 0 0-9 0 5 0-2 1 2 0-2 1 2 0 0 0-1 0-4 0 5 0 5 0-15 1 10 0-5 0 9 0-11 0-8 0 14 0-11 0 8 1 3 0-5 0 0 0 2 0-1 0 1 0-1 0-1 1 5 0-1 0-4 0 0 1 5 0-3 0-2 0 0 1 4 0 0 0-1 0-2 0-3 0 7 1-9 0 4 0-3 0 7 0-5 1-4 0 7 0-2 0-4 0-1 0 5 1-2 0 1 0-3 1 3 0 2 0-1 0-6 0 1 0 8 0-6 1 2 0 0 0 0 0 2 0-7 0 1 1 3 0 4 0-8 0-1 0 9 1-11 0 8 0-14 0 5 0-2 0-53 0 5 0 5 0 8 0 6 0 68 0 5 0 4 0-39 0-2 0-2 1 9 0-4 0-1 0-5 0 8 0-2 1-1 0-1 0-4 0 3 1-5 0 8 0 0 0-18 0 3 0 2 0-7 0 8 1 3 0-1 0 0 0 2 0 1 0-3 1 5 0-3 0-1 0 2 0 0 0 5 1-9 0 2 0 3 0-3 0 2 1 2 0-6 0 5 0-3 0-1 0 6 1-4 0-6 0-2 1 1 0 4 0 1 0-5 0 0 0-1 1 1 0-6 0 7 0-7 0 11 1-3 0 0 0 2 0-8 0 2 0 2 1-7 0 2 0-1 0 7 0-8 1 2 0 7 0-4 0-3 0 0 0-3 1 10 0-7 0-4 0 8 0 0 1 1 0-5 0 2 0-1 0 5 1-8 0 1 0-1 0 4 1 3 0-10 0 9 0 0 0-2 0-4 0-2 1 10 0-3 0-3 0 1 1-2 0-4 0 4 0 6 0-4 1 1 0 1 0-7 0 2 0-1 0 9 0-1 1-2 0 0 0-8 0 10 1-9 0 10 0-10 0 5 0 4 0-9 1 5 0-6 0-3 0 6 0-4 0-1 1-1 0 11 0-6 0 0 1 10 0-12 0 0 0 12 1-7 0 2 0 2 0-4 0-2 0-2 1 1 0 14 0-4 0-1 0-9 1 3 0 21 0-12 0 0 0-1 1 11 0 2 0 1 0-4 0 3 0-14 1 14 0 2 0-9 0 4 1 5 0-11 0 6 0-1 0 10 0-2 1 0 0 2 0-13 0 5 0 1 1 11 0-9 0 19 0-21 1 19 0-9 0-4 0-15 0 19 1-12 0 3 0-14 0 22 0-25 0 12 0 9 0-6 1-1 0-8 0 3 0 13 0-3 0-6 0 27 0-27 1 22 0-26 0 28 0-20 0-7 0 10 1-20 0 0 0 0 0 20 1-8 0-5 0 10 0-2 0 10 0-10 1 7 0-1 0-9 0 10 0 16 0-3 0 5 1-13 0 6 0-29 0 9 0 1 0-3 0-12 0 23 0-26 1 18 0 13 0-18 1 17 0-19 0 6 0-2 0 14 0-2 0-3 1-18 0 3 0 14 0 0 1-3 0-16 0 13 0-8 1 6 0-5 0 0 0 9 0 1 0-18 0 9 1-6 0-4 0 15 1 0 0 5 0-1 0-3 0 1 0-1 1-2 0-6 0-11 0 7 0-4 0 7 1 11 0-2 0 0 0 1 0-18 0 8 1 6 0-12 0 7 0 1 0-2 1 6 0-1 0-5 0 2 0-9 1 1 0 5 0-1 0 1 1-3 0-5 0 1 0 0 0 11 0-3 0-6 0 6 1 5 0-8 0-1 0 5 0 1 1 7 0-8 0 1 0-5 0 8 0-3 1-1 0-3 0 12 0-7 0-2 1 0 0 14 0-10 0 7 0-1 1 6 0 3 0-11 0 10 0-14 1 2 0 5 0-1 0 9 0 3 0-9 0-1 1 8 0-1 0 6 0-5 1 5 0-1 0-11 0 15 0-12 1 2 0 3 0 1 0-23 0 30 0-22 0 10 0-4 1-9 0 5 0 5 0-17 0 5 0 12 0-4 0 14 0-1 1-4 0-4 0 5 0-8 1 1 0 5 0-2 0 3 0 3 0-13 0 9 1-16 0 8 0-8 0 5 1-2 0 13 0-5 0-13 0 5 0 13 1-12 0 8 0-7 0-11 0-3 1 16 0-10 0 1 0-3 1 8 0-3 0 3 0-14 0 6 0 7 1 4 0-2 0-6 0-7 1 23 0-10 0-2 0 5 0-12 0 9 1-5 0 12 0-2 0 8 0-17 0 22 1-16 0 13 0-22 0 14 0-13 0 8 0 4 0-4 1 3 0-8 0 12 0-4 1 1 0-8 0 2 0 9 0-2 0 1 1-3 0 3 0-10 0 4 0 4 0 3 1-9 0-2 0 3 0 1 1 5 0 0 0-6 0 0 0-1 0 9 1-11 0 7 0 0 1-3 0 8 0-1 0-8 0 2 0-6 1 12 0-9 0 5 0-6 0 2 0 3 0-5 1 6 0 1 0-12 0-2 1 15 0-9 0 9 0-1 0 1 1-15 0 8 0 5 0 1 0-6 0-6 1 1 0-1 0 10 0-2 0-9 1 13 0-6 0-6 0-2 0 1 1 1 0-4 0 12 0 2 0-10 0-7 1 2 0 0 0 7 0 7 1-7 0 2 0 1 0-8 0 7 0 3 1-5 0 7 0-13 0 5 0-3 0 10 0-8 1-1 0 8 0-1 0-1 1-2 0-8 0 5 0 6 1 1 0-9 0 0 0 0 0-3 1 3 0-1 0 1 0 6 0 2 1-4 0 7 0-15 0 11 0-7 0 11 1-6 0 6 0-12 0 3 0 8 0 2 0-8 1 3 0 10 0-3 0 0 0-8 1 16 0-15 0 12 0-11 0-5 0-4 0 3 0 10 1 2 0-11 0 2 0-53 0 5 0 6 0 6 0 6 0 33 1-8 0 12 0 0 0-9 0 2 0 9 1-14 0 10 0-12 0 18 0 3 0 25 0-32 0-3 0-8 1 5 0-2 0-3 0-2 1 5 0 3 0-5 0-2 0 6 0-1 1-5 0 13 0-13 0 13 0-3 0-11 1 10 0 1 0 1 0-6 0-5 0-2 1 5 0-4 0 10 0-4 0-1 1-5 0 9 0-8 0 4 1 3 0-6 0-2 0 1 0 9 1-1 0-4 0 0 0 5 1-6 0 1 0 4 0-7 0 10 0 5 0-8 0 1 0 4 0 8 1-12 0-1 0-2 0 12 0-18 0 0 0 7 0 2 1-2 0 0 0-5 0-3 0 2 1 0 0 6 0-1 0-6 0-2 0 10 1-9 0 5 0 0 1-3 0 7 0-7 0 6 0 0 0 1 0 0 1-7 0-3 0 12 0 2 0-3 1-7 0 3 0 2 0-2 1 5 0-3 0-4 0 6 0-10 1 5 0 2 0 1 0-6 0 0 0 3 1 2 0 0 0-1 0-4 1 4 0 3 0-2 0 7 0-6 0-5 0 0 0 5 1-5 0 10 0-3 0-7 1 11 0-9 0-3 0 0 0 7 1 2 0-6 0 2 0 6 0-9 1 3 0 5 0-2 0-2 0-2 0-2 1 3 0-6 0 14 0-4 0-10 1 12 0 2 0-12 0 4 1-6 0 4 0-7 0 3 0 3 0 0 1-6 0 17 0-3 0 3 0 0 1-6 0-7 0 6 0-5 0 6 1-6 0-8 0 15 0-15 0 9 1-1 0 10 0-6 0-3 0 9 0-15 1 3 0 2 0-4 0 10 0-13 1 15 0 3 0 0 0-7 0 1 1 6 0-2 0-17 0 19 0-20 1 10 0-2 0 8 0-10 1-9 0 17 0-13 0 5 0 8 0-8 0 5 1 2 0-1 0-5 0 0 1 7 0-1 0-13 0 6 0-1 1 5 0-7 0-2 0 5 0 7 0-16 0 14 1-11 0 1 0 1 0 13 1-15 0 13 0-12 0-4 0 16 0-8 1-10 0 19 0-9 0 7 1 0 0-8 0 6 0-6 0 1 1-8 0 13 0 2 0-20 0-14 0 25 1-3 0-6 0-2 0 13 0-13 1 11 0-6 0 11 0-1 0-15 0 18 0 1 1-16 0 1 0 6 0-7 0-3 1 7 0 2 0-12 0 11 0-3 1 8 0-16 0 10 0-9 1 16 0-9 0 7 0-13 0 0 0 4 0 10 1-5 0 0 0 9 0-17 1 4 0 7 0 4 0-13 0 0 0 19 1-12 0 11 0-2 0-6 1-5 0 9 0 4 0-9 0-11 1 15 0 5 0-16 0 20 0-7 1 0 0 5 0-10 0 6 0-6 0 2 1 11 0-3 0-1 0-6 0 16 1-10 0 7 0-10 0 3 0 12 1-14 0-9 0 19 0-15 0-3 1 0 0 19 0 1 0-10 0 16 0-25 1-2 0 29 0-20 0 5 1-14 0 29 0-2 0-15 0 5 0 17 0-13 1-4 0-12 0 7 0-14 0 14 0 17 1-6 0-17 0-2 0 4 1-4 0 3 0 6 0-6 0 3 1 15 0-25 0 28 0-37 0 36 1-15 0-3 0-10 0 11 0 2 1 7 0-22 0 12 0-20 0 16 0 7 0-7 1-6 0 15 0-27 1 17 0-22 0 36 0-34 0 30 0-19 1 14 0-18 0 3 0 3 1-11 0-8 0 3 0 23 0-29 0 21 0-11 1 5 0 8 0-16 0-7 1 1 0 21 0-9 0-7 0 5 0-4 0-11 1 11 0 7 0 4 0 4 1 1 0 5 0-5 0-20 0 20 0-13 1-11 0 6 0 21 0-5 1-8 0 6 0-9 0 15 0-19 0 2 0-2 1-6 0 30 0-12 1-17 0 30 0-14 0-1 0 6 1-17 0 13 0-3 0 1 0 13 1-21 0 20 0-13 0-2 0-6 1 17 0-21 0-2 0 16 0-7 0-25 0 40 1-9 0 5 0-10 0 12 0-14 0 12 1-12 0 4 0 9 0 0 0-12 1-6 0 1 0 9 0 15 0-15 1 3 0 10 0-4 0-4 0 12 0-10 1-1 0 5 0-9 0-6 0 5 1 6 0-1 0-4 0 11 0 0 1-7 0-4 0 7 0-3 0 6 1-13 0 12 0 0 0-10 0 6 0 9 0-1 1 1 0-4 0-13 0 10 1-8 0 11 0-9 0 0 0 14 0-1 1-4 0-1 0-5 0 4 0 7 1-2 0 0 0 3 0-3 0-10 1 1 0 3 0 15 0-1 1 3 0-14 0 4 0-3 0 0 1 13 0 1 0-18 0 21 0 0 0 4 1-12 0 1 0-1 0 8 0-14 1 12 0 8 0-12 0 9 0 4 1 1 0-6 0 5 0-3 0-3 1 4 0-6 0 0 0 13 0-17 0 8 1 12 0-12 0 40 0-25 0 4 1-8 0-22 0 7 0 12 0-15 0 13 1-14 0 23 0-26 0 20 0-7 0 8 1-23 0 25 0-2 0 5 1-19 0 2 0-5 0-11 0 8 1 18 0-23 0 22 0 2 0-5 1-22 0 1 0 23 0-18 0-7 1 12 0-2 0-1 0 8 0-16 0 14 1-2 0-10 0-2 0 10 1-6 0 3 0 14 0-18 0-5 0 21 0-9 1 1 0-3 0 10 0-18 0 12 0 8 1-18 0 0 0-13 0 7 0 6 1 2 0-12 0-2 0 21 1-6 0-12 0-2 0 16 0-11 1 15 0-7 0-2 0-5 0 0 0 10 1 0 0-12 0 0 0 10 1 1 0 7 0-17 0 1 0 12 0-6 1 14 0 2 0-4 0-5 0 2 0 5 1-5 0-4 0 8 0-13 0 26 1-23 0 18 0 32 0-24 1 0 0 7 0-26 0 14 0-19 0 13 1-1 0 0 0 9 0-1 0-26 1 22 0-10 0-2 0 2 0 3 0-14 1 1 0-6 0-4 0-4 0 28 1-22 0-7 0 15 0-6 0 20 1-6 0-7 0-13 0 24 0-15 0-1 1-13 0 11 0-7 0-4 0-3 0 20 0-3 0-14 1 20 0-21 0 16 0-12 1 0 0-3 0 18 0 3 0-16 1 0 0 10 0-2 0-8 0 7 1 12 0-9 0-2 0 11 1-13 0-6 0 6 0 7 0 9 0-9 0-6 0 3 1 4 0-3 0-4 1 1 0 1 0 11 0-11 0 14 0-19 0 0 1 17 0-6 0 11 1-20 0-3 0 16 0-13 0 1 0 1 1 16 0-7 0-6 0 7 0-12 0 11 0-1 1-3 0 16 0 1 0-16 1-5 0 20 0-10 0-9 0 7 0-2 1-7 0 7 0-4 0 19 1-23 0 26 0-5 0 6 0-1 1-2 0-14 0 20 0-22 0-6 0 7 0 18 0-19 0 0 1 5 0-10 0 12 0-5 1-5 0 1 0 1 0 13 1-13 0 8 0 6 0-18 0-3 0 10 1 7 0-3 0 2 1-13 0 3 0-4 0 3 0 16 0 0 0-7 0-2 1 1 0 7 0-18 0 12 0 5 0-4 1-6 0-4 0-8 0 12 1 5 0-2 0-1 0 1 1-14 0 4 0 7 0 2 0-3 0-6 0 16 1-22 0 8 0 5 0-10 0 10 0 14 1-8 0-16 0 10 0 10 0 4 1-7 0 3 0-10 0 1 1 5 0-11 0 19 0-17 0 9 1-1 0 0 0 4 0-13 0 9 0 4 1-21 0 4 0 11 0 6 0-2 1 1 0-7 0 11 0-20 0 3 1 12 0-11 0 1 0 4 1 7 0-2 0 6 0-11 0-4 0 12 1 5 0-16 0-5 0 14 0-10 1 11 0-7 0 15 0-12 1-4 0 3 0 3 0-9 0 0 0 12 1-4 0 10 0-14 0 10 0-14 1 0 0 22 0-22 0 3 0 12 1-17 0-5 0 5 0 3 0 17 1-22 0 7 0-11 0 14 0 10 0-4 0-15 0 6 1 3 0 6 0-15 0 2 1 7 0-2 0-18 0 8 0 0 0-1 1 2 0 2 0-4 0 8 1-29 0 34 0-27 0 22 0-32 0 0 0 23 1-2 0-22 0 16 0-2 1 0 0 1 0-13 0 0 0 15 0 1 1-4 0 14 0-16 0 8 1-1 0 4 0-19 0 20 1-11 0 16 0-21 0 20 0 4 1-6 0-10 0 10 0 14 0-17 0 15 1-12 0-13 0 2 0 19 0 21 1 2 0-32 0 21 0-21 0 25 0 6 1 2 0-19 0 5 0 3 1 7 0-12 0-1 0 7 0-21 0 7 0-10 1 27 0-18 0 10 0-1 0 0 1-13 0-7 0 0 0 11 0 2 1-3 0 3 0 8 0 2 0-23 1 6 0-12 0 14 0 7 0-17 1 4 0 6 0-8 0 17 0-6 0-4 1 4 0-10 0 5 0-10 1 10 0-7 0-2 0-3 0-4 0 8 1 14 0-5 0-4 0-8 0-1 1 16 0-14 0 20 0 2 0-4 0 0 1 0 0 6 0 2 1-13 0 20 0-5 0 3 0-11 0-3 0 10 0-5 1-12 0 36 0-20 0-6 1-1 0 20 0 29 0-40 0 10 0-3 1-5 0 10 0 9 0-8 0 8 1-30 0 15 0 9 0-19 0-5 0 11 0-11 1 2 0 9 0-13 0 6 1-3 0 8 0-19 0 7 0 7 0 10 1-20 0-7 0 17 1 3 0-9 0-5 0-12 0 8 1-13 0 0 0 7 0 11 0-7 0-14 1 17 0-8 0 4 0-9 0 11 1-3 0 3 0 2 0-7 0-16 0 13 1 10 0-27 0 30 0-17 0-4 1 10 0-21 0 1 0 18 0-8 0 0 1-16 0 22 0 3 0-10 1-4 0 4 0-3 0 2 0 5 0 15 1 6 0-5 0-11 0 3 0 11 0-14 1-17 0 23 0-3 0-23 0 29 0 0 1 5 0-23 0 0 0 27 0-26 0-4 1 22 0-17 0 7 0 9 1 13 0-20 0 13 0 12 0-8 1 8 0-17 0-2 0 0 0 8 0 19 0-22 1 20 0-8 0-9 0 0 1-10 0 11 0 9 0-14 0-3 0 17 1-12 0-14 0 8 1-4 0 2 0 7 0-1 0-11 0 6 0 6 1 5 0-10 0 3 0 11 0-14 1 6 0 3 0-9 0 3 0 5 1-8 0 12 0-21 0 13 1-8 0 10 0-7 0 9 0-21 0 10 0-8 1 10 0 5 0 3 0-5 1 0 0-20 0 5 0 9 0-2 0 1 1-5 0-1 0 2 0-7 0-7 1 0 0 5 0 2 0-1 0 5 1 7 0 3 0-20 0 19 0-14 0 2 1 10 0-29 0 9 0 15 0 7 0-9 1 14 0 1 0-3 0-4 0 1 0-3 0 14 1-11 0 6 1-14 0 6 0 16 0-10 0 11 0 1 0-5 1-7 0-5 0 15 0-11 1-3 0 10 0 1 0-6 0-2 1 23 0-12 0 3 0-5 0 13 0 1 1-1 0-8 0-3 0-4 0-2 1 1 0 10 0-11 0 9 0 11 0 1 1-2 0 11 0-9 1-2 0-4 0-8 0 20 0-14 1 8 0-9 0 9 0-11 0 2 0 10 1 1 0-18 0 8 0 1 0-1 0 1 0-14 0 16 1 3 0-21 0 4 1 9 0 2 0 4 0-19 0-4 0-2 0-3 0 13 0 18 1-13 0 12 0-16 1-4 0 19 0-12 0-2 0-1 0 11 1-9 0-3 0 2 0 4 0-16 0 0 0 12 1-6 0 9 0-11 0 6 1-11 0 9 0-10 0 13 0 3 0-12 0 11 1-5 0 6 1-5 0-7 0 6 0-5 0 6 0-6 0-4 1 7 0-5 0 8 0-4 0-3 1-2 0 0 0 3 0-1 0 2 0 3 0-6 1 8 0-7 1 5 0-6 0 4 0 1 0-2 0 0 1 4 0 5 0-4 0-6 1 6 0-4 0 4 0-6 0-1 0 3 0 5 1-7 0 7 0 3 0-4 0 9 1-7 0 11 0 2 0-1 0 7 0-13 0 14 1 6 0-7 0 9 1-8 0 3 0-3 0 16 0-4 0 2 1-8 0 9 0 23 0-33 0 20 0 0 1-15 0-8 0-2 0 17 0-23 0 0 0-4 1 4 0 13 0-2 0-13 1 4 0-13 0 10 0 2 1-14 0 5 0 6 0-6 0 0 0-4 0-7 1-8 0 6 0 9 0-13 1 10 0-5 0-12 0 14 0-7 0 4 1 6 0-17 0 4 0 17 1-2 0-31 0 4 0 7 0-14 0 10 1 3 0-14 0 21 0-12 1 10 0-16 0-11 0 7 0 4 0 5 0-4 1 2 0-3 0 12 0-3 1-5 0-3 0-3 0 21 0-6 0 6 1-21 0 2 0-1 0-8 0 45 0-5 1-5 0-18 0 25 0 5 0-37 0 27 0-20 0 12 0-23 1-4 0 22 0-19 0 12 0-10 0 19 1 5 0-32 0 12 0 2 0 11 1-5 0-12 0 20 0-14 0 11 0-8 1-1 0-11 0 4 0 13 1 3 0-12 0-7 0-5 0 15 0 3 1-4 0-1 0 13 0-10 0 11 1-25 0 27 0-4 0 2 0-4 1-17 0 23 0-21 0 1 0 16 1 13 0-1 0-13 0-3 0 6 0 11 0-15 1-1 0 0 0-2 0 33 0 5 0-3 0-17 1 12 0-13 0-21 0 33 0-1 0 2 0 10 0-35 1 10 0 3 0-16 0 12 0 9 0 1 1-4 0-7 1 12 0 8 0-23 0 6 0 17 0-18 0 9 0 13 1-15 0-4 0 3 0-8 0 3 0 4 1 5 0-12 0-30 0 34 0 22 1-22 0 20 0-5 0 4 0-8 1 0 0 8 0-8 0-6 0 12 0-12 1-1 0-4 0 12 0 1 1 9 0-10 0 10 0-13 0 12 0-9 1 2 0-6 0 6 0 5 1-7 0 0 0 2 0 7 0-52 0 60 0-10 1 6 0-6 0 2 0-60 0 62 0-4 1-3 0 10 0-15 0 4 0 11 0-3 1 5 0-1 0-2 0-8 0-8 1 16 0-10 0-1 0 4 1-4 0 2 0-3 0-3 0 9 0-3 1 2 0 0 0-12 0 6 1 1 0 0 0 0 0-5 0 10 1-1 0-9 0 2 0 9 0-4 0 0 1-1 0-11 0 10 0 0 0-4 0 4 1-6 0 12 0-5 0-4 0 6 0-12 0 3 0-5 1 7 0-8 0 3 1 9 0-1 0 0 0-13 0 6 0 5 0 1 1-2 0-11 0 10 0 0 0-2 1-4 0 0 0 5 0-2 0 1 0-1 1 0 0-2 0 6 0-6 0-1 1 8 0-10 0 2 0 2 1-2 0-2 0 12 0-4 0 3 1 3 0-6 0-6 0-1 0 10 0-11 0 10 1-9 0 14 0-3 0-5 1-1 0 4 0 1 0-4 1 5 0-10 0 11 0-10 0 7 0 5 1-3 0-6 0 7 0-1 0-1 1-3 0-1 0-6 0 9 0 7 0-11 1 4 0 7 0-2 0 2 1-1 0-10 0 8 0 2 0-6 1 2 0 0 0-6 0-4 0 0 0 0 1 12 0-7 0 8 0 3 0-12 1-1 0-2 0 6 0-1 0 5 0 0 1-2 0-1 0 4 0-6 0-4 1 0 0 3 0-16 0 3 0 18 0-5 0-8 1 12 0-15 0 13 0-3 0 0 0-5 0 1 0 12 0-5 1 4 0-1 0-9 0 8 1-9 0 1 0 3 0 4 0-6 1 2 0 1 0 6 0-2 0-8 0 2 1 8 0-6 0 8 0-2 0-1 1 1 0-1 0-1 0-7 0 4 0 0 0 0 1 2 0 5 0-1 0-1 1-6 0 10 0-11 1 12 0-5 0 7 0 1 0-3 0-9 0 8 0-1 1-8 0 2 1 2 0 0 0 1 0 7 0-5 0 6 0-9 1-2 0 7 0-2 0 7 0 2 1 0 0-6 0 6 0 1 0-2 0 8 1-16 0 12 0-7 0-2 0 0 0 3 1-6 0 13 0-14 0 9 1 0 0-7 0 4 0 4 0-5 1-2 0 5 0 1 0 1 0-16 0 14 0-11 1 6 0 4 0-12 0 4 1-1 0 7 0-1 0-8 0 9 1-3 0 1 0 3 0-7 0-6 1 0 0 3 0 9 0-8 0 0 1-3 0 5 0 5 0-10 0 9 0-13 1 7 0 0 0 5 1 1 0-4 0-3 0-1 0 1 0-2 0-1 1 5 0-4 0 3 0 0 0 5 1-11 0 6 0-9 0-1 0 8 0 6 1-13 0 2 0 10 0-6 1 6 0-15 0 5 0 1 0 3 0 3 0 1 1-14 0 5 0-3 0 1 1-1 0 2 0 5 0 4 1-2 0 1 0-5 0-6 0 0 1 10 0-1 0-11 0 11 0-6 1 7 0-9 0 2 0-5 0 4 1-3 0-3 0 7 0 4 0-3 0 6 1-10 0 9 0-7 0 7 0-9 0 3 1 6 0-8 0 12 0-8 0 5 0 0 1 0 0-1 0 3 0-2 1-7 0 1 0 9 0-7 0 7 0-3 1 3 0-2 0-1 0 6 0-11 1 8 0 3 0-7 0 1 0-17 0 21 0-19 1 15 0-10 0-2 0 7 0 10 0-4 0-8 0 13 1-3 0-6 0 2 0 8 0-10 0-2 1 9 0-7 0 3 0 1 0-7 1 4 0 6 0-6 0-4 0-2 0 13 1-2 0-6 0-3 0-3 1 5 0-2 0 2 0 5 0-1 0-11 1 6 0-4 0 5 0-4 0-11 1 10 0-8 0 8 0-1 0-2 0 3 1-9 0 2 0-6 0 13 0-6 0 1 1-7 0 15 0-7 0 9 1-8 0-2 0 9 0-3 0 8 0-20 1 12 0-13 0 20 0-9 0 3 0-2 1 13 0 6 0 1 1-26 0-4 0 3 0-2 0 32 1-17 0-16 0-1 0 27 0-9 0-3 0 3 1-15 0 24 0-4 0 5 0 3 1-26 0 19 0 0 1 10 0-2 0-8 0 3 0 2 0-26 0 25 0-14 1 17 0-20 0-8 0 8 1 26 0-13 0-1 0-7 0-1 0 11 1-22 0-4 0 31 0-9 0-28 1 15 0-13 0 28 0-8 0-14 1 1 0 10 0 61 0-6 0-5 0-55 0-12 0 4 1 10 0 8 0-15 0 24 1-14 0-21 0-2 0 2 0-4 1 8 0 21 0 3 0-22 0 6 1 11 0-33 0 31 0 0 0-26 0 17 1 10 0-20 0 11 0 1 0-8 0 12 1-19 0 24 0-33 0 19 0 2 1 11 0-5 0-24 0 10 0 6 1-15 0-3 0 0 0-4 0 21 1-14 0 12 0-12 0-6 0 2 1-1 0 21 0 2 0 1 0 1 1 7 0 3 0-10 0-13 1 7 0 15 0-3 0-7 0 11 0-9 0 14 0 2 1-11 0-7 0 0 0 4 0-5 1 16 0-15 0 13 0-6 1-3 0-1 0 0 0 13 0 5 1-5 0-7 0 1 0 2 0 0 0 5 0 4 1 3 0 2 0-18 1 7 0-8 0 15 0-13 0 9 0 7 0-5 1-4 0-3 0 2 0 0 0 5 0-12 1 17 0-15 0 0 0 16 0-1 1-10 0 3 0-6 0 2 0 3 1 7 0-2 0 1 0-3 1 12 0-14 0 9 0 2 0-4 0-15 1-6 0 12 0 6 0 9 1-7 0 12 0-5 0-28 0 32 1-8 0 13 0-13 0-5 0-19 0-13 0 21 1-7 0-7 0 22 0-12 0 24 0-36 0-3 0 40 0-16 1 16 0-18 0-19 0 14 0-8 1 26 0-22 0 30 0-7 0-18 0 15 1-9 0 1 0-13 0-2 1 17 0 20 0-25 0-8 0 33 0 0 1 0 0-19 0-5 0 20 0-14 1 3 0-11 0 9 0 13 0-29 0-6 1 30 0-37 0 21 0-7 0-11 0 10 1-6 0 20 0-27 0 20 0-3 0 8 0 15 1-11 0-12 0-4 0 25 0-5 1 4 0-8 0 9 1-18 0 23 0-27 0 17 0 15 0-44 0 4 1 18 0 5 0-18 0 24 0-15 0-8 1 8 0 5 0-10 0 26 1-36 0 0 0 1 0 38 0-31 1 5 0-4 0-1 0 10 0 35 0-38 1 6 0 33 0-29 0 16 0 4 0 7 1-5 0 4 0-8 0-8 1 22 0-21 0 1 0-12 1-5 0 12 0 20 0-31 0 27 0-7 0-15 1 18 0-6 0 39 0-7 0-24 1 10 0-20 0-17 0 31 0-6 0-10 0 29 1-39 0 34 0-2 0 3 0-39 1-3 0 18 0 2 0 15 0-1 1 2 0 0 0-18 0-8 0 8 1 16 0 2 0-22 0-5 0 17 0-6 1-7 0 2 0 4 0 2 1 5 0-2 0-10 0 11 0-8 0-6 0-3 1 6 0-5 0 19 0-22 0 19 0-8 1 13 0 3 0-22 0-8 0 20 0-23 0 7 0 8 0-4 1 0 0-5 0-5 0 4 0-1 1-6 0 1 0 5 0-11 0 4 0 0 1-2 0 0 0 1 0-5 0 4 0 0 1-4 0 0 0 4 0-5 1 1 0-1 0 0 0 0 1 2 0 1 0-6 0 3 0 4 1-7 0 6 0 7 0-5 0-3 0 0 0 11 0-16 0 3 0 8 0-10 1 2 0 0 0-4 1 6 0-6 0 1 0-1 0 0 0 5 1-2 0 4 0-4 0 1 0 2 0 0 0-5 1 3 0 0 0-3 0 1 1 2 0 2 0 0" fill="none" stroke="none" marker-start="url(#m)" marker-mid="url(#m)" marker-end="url(#m)"/><path d="M125 700l0.4 0 0.5 0 0.5 0 0.4 0 0.5 0 0.4 0 0.5 0 0.4 0 0.4 0 0.5 0 0.5 0 0.4 0 0.5 0 0.4 0 0.5 0 0.4 0 0.5 0 0.4 0 0.5 0 0.4 0 0.5 0 0.4 0 0.5 0 0.4 0 0.5 0 0.4 0 0.5 0 0.4 0 0.5 0 0.4 0 0.5 0 0.4 0 0.5 0 0.4 0 0.5 0 0.4 0 0.5 0 0.4 0 0.5 0 0.4 0 0.5 0 0.4 0 0.5 0 0.4 0 0.5 0 0.4 0 0.5 0 0.4 0 0.5 0 0.4 0 0.5 0 0.4 0 0.5 0 0.4 0 0.5 0 0.4 0 0.5 0 0.4 0 0.5 0 0.4 0 0.5 0 0.4 0 0.5 0 0.4 0 0.5 0 0.4 0 0.5 0 0.4 0 0.5 0 0.4 0 0.5 0 0.4 0 0.5 0 0.4 0 0.5 0 0.4 0 0.5 0 0.4 0 0.5 0 0.4 0 0.5 0 0.4 0 0.5 0 0.4 0 0.5 0 0.4 0 0.5 0 0.4 0 0.5 0 0.4 0 0.5 0 0.4 0 0.5 0 0.4 0 0.5 0 0.4 0 0.5 0 0.4 0 0.5 0 0.4 0 0.5 0 0.4 0 0.5 0 0.4 0 0.5 0 0.4 0 0.5 0 0.4 0 0.5 0 0.4 0 0.5 0 0.4 0 0.5 0 0.4 0 0.5 0 0.4 0 0.5 0 0.4 0 0.5 0 0.4 0 0.5 0 0.4 0 0.5 0 0.4 0 0.5 0 0.4 0 0.5 0 0.4 0 0.5 0 0.4 0 0.5 0 0.4 0 0.5 0 0.4 0 0.5 0 0.4 0 0.5 0 0.4 0 0.5 0 0.4 0 0.5 0 0.4 0 0.5 0 0.4 0 0.5 0 0.4 0 0.5 0 0.4 0 0.5 0 0.4 0 0.5 0 0.4 5.3 0.5-1.5 0.4 2.8 0.5-5.8 0.4 5 0.5-1.7 0.4 2.1 0.5-0.7 0.4 1 0.5-3.7 0.4 2.5 0.5-3.3 0.4 7.6 0.5-9 0.4 1.7 0.5 7.2 0.4-7.8 0.5 3.8 0.4 10.2 0.5-14 0.4 1.1 0.5 6.5 0.4-12.4 0.5 3.6 0.4 14.2 0.5-7.1 0.4 10.1 0.5-2.9 0.4-0.8 0.5-1.6 0.4 3.3 0.5 4.5 0.4 6.9 0.5-6.9 0.4-0.7 0.5 3.5 0.4 2.8 0.5 4.8 0.4-18.3 0.5 11.9 0.4-1.1 0.5-4.8 0.4 2 0.5-7.5 0.4-2.4 0.5 8.2 0.4-0.6 0.5-2.6 0.4-0.4 0.5-1.7 0.4 0.3 0.5 9 0.4-9.6 0.5-5.8 0.4 2 0.5 0.2 0.4 3.8 0.5-1.9 0.4-1.8 0.5 5.4 0.4-4.6 0.5 7.4 0.4 4.3 0.5-0.4 0.4-13.6 0.5 14.8 0.4-0.4 0.5 8.4 0.4-8.7 0.5 7.3 0.4 5 0.5-0.7 0.4 2.7 0.2 8.6 0.3-21.6 0.4 13.1 0.5-20 0.4 1.6 0.5-2.4 0.4-7.4 0.5-3.7 0.4-2.7 0.5-4.7 0.4-4 0.5-3.1 0.4-1.7 0.5-0.3 0.4-3.6 0.5-1.9 0.4-0.3 0.5-0.5 0.4-2.7 0.5 4.2 0.4 3.7 0.5-8.2 0.4 10.1 0.5-17.5 0.4 19.3 0.5-2.4 0.4 5.2 0.5-3.3 0.4 13.3 0.5-3.1 0.4 7.9 0.5 0.5 0.4 3.8 0.5 3 0.4 5.7 0.5-6.9 0.4 14.6 0.5-7.9 0.4-5.7 0.5 17 0.4-14.9 0.5-1.9 0.4-1.4 0.5 2.2 0.4 3.9 0.5-4.7 0.4 8.9 0.5-6.5 0.4 0.3 0.5-0.3 0.4-0.5 0.5-1.5 0.4 2.8 0.5-2.6 0.4-6.4 0.5-1.7 0.4 2.2 0.5-2.8 0.4-4.3 0.5 2.6 0.4-0.7 0.5-9.6 0.4 5.2 0.5-3.6 0.4-5.2 0.5-0.7 0.4-6.1 0.5 12.3 0.4-7.4 0.5-0.6 0.4 4.4 0.5-7.4 0.4 6.5 0.5-4.5 0.4 1.5 0.5-0.4 0.4 0 0.5 9.1 0.4 3.7 0.5-4 0.4-1.6 0.5 2.9 0.4 1.2 0.5 2.6 0.4 2.6 0.5-11.9 0.4 12.4 0.5 3.2 0.4-3.3 0.5 3.9 0.4 4.5 0.5-8.3 0.4-1.7 0.5-4.4 0.4 6.3 0.5-0.3 0.4 2.5 0.5-1.2 0.4-5.7 0.5 4.7 0.4-4.4 0.5 5.7 0.4-2.9 0.5 6.9 0.4-23.3 0.5 12.8 0.4 2.4 0.5-7 0.4 3.8 0.5 1.5 0.4-4 0.5 6 0.4 8.8 0.5-10.5 0.4 1.9 0.5-7.6 0.4 7.4 0.5-5.2 0.4 7.7 0.5-4.6 0.4-28 0.5 28.1 0.4-6.9 0.5-2.5 0.4 2.8 0.5-1.5 0.4 5.4 0.5-3.8 0.4-4.2 0.5 0.6 0.4 7.2 0.5-8.9 0.4-0.1 0.5-19.1 0.4 22.9 0.5-5.4 0.4 6.3 0.5-12.2 0.4 15.4 0.5-4.1 0.4 7.3 0.5 0.1 0.4 2.1 0.5 2 0.4 7.6 0.5-8.7 0.4 7.1 0.5 9.9 0.4-7.3 0.5-5.6 0.4 2.3 0.5-4.8 0.4-0.4 0.5-2.6 0.4 1 0.5-1.8 0.4 0.1 0.5-6.9 0.4 0.2 0.5-2.8 0.4 0.7 0.5-2.3 0.4 0.9 0.5 0.2 0.4-3.2 0.5-6.3 0.4 3.6 0.5-5.7 0.4 2.2 0.5-6.3 0.4 2.6 0.5 4.4 0.4 5.5 0.5 1.2 0.4 10.3 0.5-1.1 0.4 1.4 0.5 0.2 0.4 9.5 0.5 1.3 0.4-4.2 0.5 24.6 0.4-9.5 0.5 0.9 0.4 4 0.5-2 0.4-0.2 0.5-4.2 0.4 1.1 0.5-5.8 0.4 0.3 0.5 0.2 0.4-7.4 0.5 6.8 0.4-9.3 0.5 4.6 0.4-8.2 0.5-7.1 0.4-3.2 0.5 6.8 0.4-0.3 0.5-3.2 0.4-14.3 0.5 7.9 0.4 4.5 0.5 2 0.4-1.3 0.5 6.3 0.4 10.4 0.5-6.1 0.4 2.4 0.5 0 0.4 0.2 0.5 4.8 0.4 0.3 0.5 6.5 0.4 0.5 0.5-2.8 0.4 23.1 0.5-16.4 0.4-7.5 0.5 0.7 0.4-1.1 0.5-3.6 0.4 2 0.5-4.7 0.4 3.4 0.5-2.8 0.4 2.4 0.5-1.8 0.4-6.5 0.5-1.3 0.4 1.9 0.5 11.9 0.4-9.6 0.5-7.2 0.4 5.7 0.5-7.1 0.4 4.9 0.5 2.8 0.4 3.3 0.5-6.9 0.4-3.5 0.5 4.1 0.4-4.3 0.5 12 0.4 7.9 0.5-7.2 0.4-13.9 0.5 0.7 0.4 0.8 0.5 0.7 0.4-5.5 0.5 6.5 0.4 0.3 0.5-2 0.4 9.1 0.5-10.7 0.4 1.2 0.5-2.6 0.4-0.6 0.5 2.3 0.4 0.5 0.5 1.2 0.4-1.7 0.5-1.9 0.4-1.7 0.5-3.1 0.4-0.9 0.5 6.6 0.4-0.6 0.5-3.8 0.4 5.8 0.5 0.6 0.4-6.6 0.5 20.3 0.4-13.6 0.5-2.6 0.4 0.9 0.5-3.2 0.4-5.2 0.5 10.7 0.4-6.2 0.5-0.4 0.4 1.2 0.5-6.3 0.4 8.9 0.5-7.2 0.4 0.3 0.5 3.2 0.4-5.2 0.5 3.4 0.4 0.1 0.5-2.8 0.4 1.5 0.5 1.5 0.4-0.6 0.5-3 0.4 3.2 0.5 2.1 0.4 6.8 0.5-8.4 0.4-1.5 0.5 1.1 0.4 1.4 0.5 6.6 0.4-1.1 0.5-2 0.4 1.6 0.5 0 0.4-4.4 0.5 0.3 0.4 2 0.5-1.5 0.4-2 0.5-0.8 0.4 3.1 0.5 4.6 0.4-4.3 0.5 2.2 0.4-3 0.5 11.8 0.4-12.9 0.5 7.4 0.4 1.2 0.5-2.6 0.4 1.3 0.5 1.3 0.4-3 0.5-14.5 0.4 16.9 0.5 0.5 0.4-0.9 0.5 0.9 0.4-2.4 0.5 7 0.4 4.8 0.5-11.3 0.4 4.8 0.5 3.2 0.4-6.8 0.5-2.1 0.4 1.3 0.5 12.1 0.4-20.3 0.5 3.4 0.4-2.1 0.5-2.6 0.4 2.7 0.5 4.3 0.4 5.7 0.5-6.4 0.4 8.3 0.5 4.2 0.4 0 0.5 0.3 0.4 1.6 0.5 11.2 0.4-15 0.5 1.1 0.4-4 0.5-0.3 0.4 11.4 0.5-13.5 0.4-16.1 0.5 10.6 0.4-5.7 0.5 3.9 0.4 3.6 0.5-5.6 0.4-0.8 0.5-2 0.4 5.2 0.5 5.3 0.4-0.5 0.5-0.2 0.4 4.1 0.5 3.1 0.4 2.1 0.5 1.5 0.4-6.3 0.5 3.3 0.4-2.8 0.5 2.5 0.4-0.1 0.5 0.9 0.4-5.8 0.5 5.3 0.4-5.8 0.5-2 0.4-6.1 0.5 0.9 0.4 5.7 0.5-6.9 0.4 1.4 0.5-0.9 0.4 6.7 0.5-2.4 0.4 0.1 0.5 2.4 0.4 4.8 0.5 5.6 0.4-2.9 0.5 5.7 0.4 1.4 0.5 4.9 0.4-7.8 0.5 1.7 0.4 4.1 0.5-13 0.4 5.2 0.5-2.3 0.4-3.7 0.5-1.1 0.4 7.8 0.5-6.8 0.4-4 0.5 1.7 0.4-6.6 0.5 3.4 0.4 10.1 0.5-1.7 0.4-0.2 0.5 0.2 0.4 4.7 0.5 4.1 0.4-2.9 0.5 3.3 0.4 0.2 0.5 0.1 0.4 5.1 0.5-0.7 0.4-0.9 0.5 19.9 0.4-24.7 0.5 7.7 0.4 0.7 0.5-3.2 0.4-11.8 0.5 17.2 0.4-4.2 0.5 6.7 0.4-10.8 0.5 6.1 0.4-4.9 0.5-8.1 0.4-4 0.5 8.4 0.4-7.3 0.5 3 0.4 2.4 0.5-7.1 0.4 2.1 0.5 9.3 0.4-9.2 0.5-3.4 0.4 6 0.5-7.7 0.4 0.6 0.5 3.9 0.4 0.7 0.5-4 0.4 4.7 0.5 1.9 0.4-5.8 0.5 5.6 0.4 5.9 0.5-7 0.4 0.5 0.5-3.5 0.4-1.1 0.5 0.2 0.4 7.4 0.5-11.5 0.4 4.1 0.5 0.6 0.4 1 0.5 0.5 0.4 8.9 0.5-10 0.4-6.5 0.5 2.8 0.4-0.4 0.5 0.4 0.4 5.1 0.5-4.5 0.4 4.2 0.5-4.7 0.4 1.5 0.5-1.8 0.4 5.5 0.5-0.6 0.4 11.9 0.5-16.3 0.4 7.6 0.5 0.2 0.4-1.9 0.5-3.4 0.4 5.4 0.5-7.5 0.4 4.5 0.5-1.1 0.4 2.7 0.5-2.1 0.4 25.9 0.5-24.3 0.4-11.2 0.5 4.7 0.4 0.4 0.5 1.7 0.4 8.2 0.5-7.4 0.4-11.2 0.5 7.2 0.4-0.5 0.5 9 0.4-3.1 0.5-5.8 0.4 0.5 0.5 5.5 0.4-3 0.5-15.9 0.4 10.6 0.5 3.4 0.4 0.1 0.5 10.9 0.4-5.7 0.5 8.4 0.4-7.1 0.5-5.5 0.4 8.7 0.5-14.1 0.4-7.9 0.5-3.4 0.4 16.6 0.5-19.2 0.4-0.1 0.5 9.3 0.4-3.5 0.5-1.3 0.4-3 0.5 0.6 0.4 0.2 0.5-0.2 0.4 2.8 0.5 0.8 0.4-3 0.5 4.2 0.4-8 0.5 2.8 0.4 3.1 0.5 4.7 0.4-4.1 0.5 0.2 0.4-6 0.5 4.7 0.4-3.8 0.5 10.1 0.4-6.4 0.5-3 0.4 3.8 0.5-4.8 0.4-0.3 0.5 2.7 0.4 1.3 0.5-0.5 0.4-1.8 0.5 0.1 0.4 6.1 0.5-9.4 0.4 7.3 0.5-3 0.4 5.1 0.5-4.6 0.4 2.1 0.5 0.4 0.4 6 0.5-17.2 0.4 12.4 0.5 1.6 0.4-6.4 0.5-2.7 0.4 4.6 0.5-0.4 0.4 3.4 0.5-5.2 0.4-2.1 0.5 6.4 0.4-2.3 0.5 8.1 0.4-6.4 0.5-4.4 0.4 3.1 0.5-1 0.4 1.8 0.5-1 0.4-4.4 0.5 5.8 0.4-2.8 0.5-1.3 0.4 4.2 0.5-3.2 0.4 2.7 0.5-2.9 0.4-1.3 0.5 2.7 0.4 11.1 0.5-5.5 0.4-5.6 0.5 0.8 0.4-5.2 0.5 8 0.4 0.7 0.5-8.4 0.4 3.7 0.5 2 0.4 9.6 0.5 0.4 0.4 8.2 0.5-3.4 0.4 1.2 0.5-2.3 0.4 1.8 0.5 0.3 0.4-2.2 0.5-3.2 0.4 1.3 0.5-1.2 0.4 2.6 0.5-3.3 0.4 0.5 0.5-6.5 0.4 2.4 0.5 2.3 0.4-2.6 0.5-1.4 0.4 1.8 0.5-0.1 0.4-0.4 0.5-2.4 0.4 1.2 0.5-3.5 0.4 11.7 0.5-10.7 0.4 0.6 0.5 1.2 0.4-1.8 0.5 4.4 0.4-0.3 0.5 2.1 0.4-3 0.5-0.2 0.4-3.2 0.5 10.4 0.4-12.1 0.5-0.3 0.4 3.8 0.5 0.7 0.4 16.9 0.5-13.8 0.4 2.7 0.5 0.3 0.4-4.6 0.5-4.7 0.4 2.9 0.5 4.4 0.4-7.4 0.5 2 0.4 6.6 0.5-4.2 0.4-2.2 0.5 4.2 0.4-1.1 0.5 0.3 0.4-6 0.5 5.3 0.4-3.7 0.5 0.7 0.4 1.3 0.5 3.6 0.4-3.2 0.5-0.7 0.4 0.4 0.5-7.1 0.4 9.6 0.5 3.7 0.4-3.8 0.5 0.8 0.4 1.1 0.5-2.1 0.4-5.9 0.5 6.8 0.4-1.8 0.5-0.7 0.4-1 0.5 19.9 0.4-20.3 0.5 8.4 0.4-13 0.5 16.2 0.4 2.5 0.5 3.7 0.4 2.1 0.5-5.2 0.4-12.5 0.5 11.4 0.4 4.8 0.5-11 0.4 19.8 0.5-22 0.4-2.1 0.5 2.3 0.4-3.7 0.5-0.8 0.4-3.8 0.5 9.5 0.4-16.4 0.5 5.9 0.4-1 0.5-2.1 0.4-1 0.5 1.8 0.4-1.2 0.5 0.2 0.4 0.9 0.5 8.6 0.4-2.1 0.5-8.6 0.4 2.3 0.5 5.1 0.4-4.6 0.5-2.3 0.4 5.2 0.5-0.5 0.4 12.4 0.5-4.1 0.4 1.6 0.5-6.6 0.4 1.3 0.5 0.8 0.4-0.8 0.5 5.1 0.4-6.6 0.5 5 0.4-2.7 0.5-1.7 0.4-0.2 0.5 2.3 0.4-4.7 0.5 1.4 0.4-0.7 0.5-1 0.4-3.6 0.5-2.4 0.4-5.9 0.5 11.2 0.4-3.7 0.5-3.8 0.4 1.8 0.5 5.6 0.4-11.5 0.5 7.4 0.4-3 0.5-2.9 0.4 3.2 0.5-3.5 0.4 5.7 0.5-3.9 0.4-3.8 0.5-23.1 0.4 23.6 0.5 6 0.4-5.1 0.5 3.3 0.4-6.5 0.5 4.8 0.4-9.1 0.5 26.3 0.4-12.3 0.5-11.1 0.4 8.1 0.5-3.2 0.4 5.3 0.5 0.3 0.4-1.1 0.5 0.7 0.4 6.5 0.5-6.8 0.4 15.7 0.5-4.6 0.4 2.8 0.5-2.4 0.4-0.9 0.5 4.7 0.4 9.4 0.5-9.3 0.4 3.1 0.5 12.1 0.4-8.9 0.5 3.6 0.4-1.6 0.5 5.9 0.4 0.5 0.5-1.6 0.4 3.5 0.5-7.6 0.4 4.7 0.5 23.5 0.4-19.5 0.5-2.7 0.4-3.1 0.5-1.6 0.4-5.7 0.5 7.9 0.4-2.2 0.5-1.9 0.4 2.9 0.5-1.3 0.4-3 0.5 22.4 0.4-20.3 0.5-11.6 0.4 11.1 0.5-0.7 0.4 0.2 0.5 1.6 0.4 5.1 0.5-1.8 0.4 0.2 0.5-1.7 0.4-5.1 0.5 1.2 0.4-2.8 0.5 5.5 0.4-1.1 0.5 4.7 0.4-7.4 0.5 1.1 0.4 1 0.5-5.2 0.4 0.2 0.5 2.3 0.4-2.2 0.5-2.1 0.4 4.4 0.5-4.9 0.4 4.3 0.5-2.7 0.4 12.9 0.5-15 0.4 2.8 0.5 1.6 0.4-0.2 0.5-2.9 0.4 2.6 0.5-8.1 0.4 3.1 0.5 0.2 0.4 1.3 0.5-6.4 0.4 0 0.5 0 0.4 0 0.5 0 0.4 0 0.5 0 0.4 0 0.5 0 0.4 0 0.5 0 0.4 0 0.5 0 0.4 0 0.5 0 0.4 0 0.5 0 0.4 0 0.5 0 0.4 0 0.5 0 0.4 0 0.5 0 0.4 0 0.5 0 0.4 0 0.5 0 0.4 0 0.5 0 0.4 0 0.5 0 0.4 0 0.5 0 0.4 0 0.5 0 0.4 0 0.5 0 0.4 0 0.5 0 0.4 0 0.5 0 0.4 0 0.5 0 0.4 0 0.5 0 0.4 0 0.5 0 0.4 0 0.5 0 0.4 0 0.5 0 0.4 0 0.5 0 0.4 0 0.5 0 0.4 0 0.5 0 0.4 0 0.5 0 0.4 0 0.5 0 0.4 0 0.5 0 0.4 0 0.5 0 0.4 0 0.5 0 0.4 0 0.5 0 0.4 0 0.5 0 0.4 0 0.5 0 0.4 0 0.5 0 0.4 0 0.5 0 0.4 0 0.5 0 0.4 0 0.5 0 0.4 0 0.5 0 0.4 0 0.5 0 0.4 0 0.5 0 0.4 0 0.5 0 0.4 0 0.5 0 0.4 0 0.5 0 0.4 0 0.5 0 0.4 0 0.5 0 0.4 0 0.5 0 0.4 0 0.5 0 0.4 0 0.5 0 0.4 0 0.5 0 0.4 0 0.5 0 0.4 0 0.5 0 0.4 0 0.5 0 0.4 0 0.5 0 0.4 0 0.5 0 0.4 0 0.5 0 0.4 0 0.5 0 0.4 0 0.5 0 0.4 0 0.5 0 0.4 0 0.5 0 0.4 0 0.5 0 0.4 0 0.5 0 0.4 0 0.5 0 0.4 0 0.5 0 0.4 0 0.5 0 0.4 0 0.5 0 0.4 0 0.5 0 0.4 0 0.5 0 0.4 0 0.5 0 0.4 0 0.5 0 0.4 0 0.5 0 0.4 0 0.5 0 0.4 0 0.5 0 0.4 0 0.5 0 0.4 0 0.5 0 0.4 0 0.5 0 0.4 8.1 0.5-5.9 0.4-1.2 0.5-2.3 0.4 12 0.5-8.1 0.4 1.9 0.3-36.5 0.2 39.8 0.4-9.2 0.5 9.9 0.4-6.3 0.5-3.1 0.4 0.7 0.5-4.5 0.4 8.4 0.5-3.7 0.4-3 0.5-1.5 0.4-1.1 0.5-5.6 0.4 8.2 0.5-2.7 0.4 0.9 0.5-2.1 0.4 7.7 0.5-12.6 0.4-0.7 0.5 1.8 0.4 24.6 0.5-23.3 0.4 1.6 0.5-7 0.4-1.3 0.5 1.3 0.4-2.5 0.5 0.9 0.4 1.8 0.5-0.1 0.4-7.9 0.5 12.6 0.4-7.8 0.5 0.5 0.4-0.5 0.5 3.2 0.4-4.6 0.5 4.1 0.4-5.6 0.5 4.4 0.4-13.8 0.5 15.5 0.4-4.5 0.5 5.9 0.4-4.5 0.5-8.5 0.4 12.2 0.5-4.1 0.4-0.2 0.5 1.2 0.4-1.1 0.5 0.1 0.4-5.1 0.5 4.2 0.4 3.3 0.5 3.7 0.4 1.9 0.5 1.6 0.4 0.5 0.5 3.9 0.4-0.9 0.5 3.4 0.4-1.1 0.5 1.3 0.4 6.2 0.5-4.5 0.4 5.9 0.5-7.8 0.4 8.1 0.5 3.1 0.4-4.3 0.5 21 0.4-10.8 0.5-6.9 0.4 4.8 0.5-0.2 0.4-2.1 0.5-2.7 0.4 2.6 0.5-7 0.4 8.8 0.5 3.2 0.4-6.1 0.5 11.6 0.4-6.1 0.5-6.2 0.4-2.1 0.5-2.6 0.4 12.4 0.5-6.9 0.4-0.9 0.5-0.7 0.4-2.5 0.5-2.1 0.4 0.9 0.5 1.8 0.4-0.7 0.5-3.2 0.4 4.2 0.5-3.8 0.4 0.3 0.5-2.3 0.4 10.4 0.5-9 0.4-15.3 0.5 7.9 0.4 12.8 0.5-14.2 0.4-1.8 0.5 8.5 0.4-2.9 0.5-5.4 0.4 6 0.5-10.3 0.4 3.8 0.5-2.6 0.4 0.8 0.5-5.4 0.4 0.5 0.5 0 0.4 5.6 0.5-0.9 0.4 0.4 0.5 7.9 0.4-5.9 0.5 3.2 0.4 5.1 0.5-1.6 0.4 2 0.5 9.7 0.4-5.5 0.5-1.6 0.4 7.7 0.5 1.1 0.4-2.9 0.5 2.9 0.4 2.5 0.5 1.9 0.4-17.2 0.5 15.5 0.4-1.2 0.5-5.7 0.4 3 0.5 5.7 0.4-7.5 0.5-0.8 0.4 0.6 0.5-4.6 0.4 2.5 0.5-2.9 0.4-5.4 0.5 5.6 0.4-4.1 0.5 1.6 0.4 4.9 0.5-4.4 0.4-3.2 0.5-1.5 0.4 6.7 0.5 2.9 0.4-1.2 0.5-5.3 0.4 1 0.5 6.4 0.4-6.4 0.5 3.7 0.4-5.9 0.5 2.8 0.4 1.2 0.5-3.6 0.4 0.3 0.5-0.9 0.4 6.2 0.5-0.4 0.4-3.2 0.5-0.2 0.4 3.4 0.5 1.9 0.4-6.2 0.5 4.9 0.4-4.4 0.5-3.5 0.4 11.3 0.5-14.7 0.4 17.4 0.5-13.7 0.4 1.2 0.5-2.3 0.4 8.1 0.5-3.6 0.4-0.2 0.5 5.2 0.4-6.8 0.5-10.7 0.4 9.8 0.5 0.1 0.4-4.6 0.5 2.3 0.4-3.1 0.5 4.5 0.4 0.8 0.5-4.3 0.4 2.3 0.5-0.2 0.4-5.1 0.5-1.3 0.4 7.5 0.5-1.2 0.4-0.1 0.5-4.6 0.4 0.2 0.5 6.2 0.4-0.1 0.5 15 0.4-14.4 0.5 0.4 0.4-7.1 0.5 2.9 0.4 6 0.5-6.4 0.4-14.9 0.5 18.7 0.4 2 0.5 4.6 0.4-8.8 0.5 3.7 0.4-1.3 0.5-4.2 0.4 0.6 0.5 5.7 0.4-8 0.5 7.6 0.4-6.9 0.5 5 0.4-3.1 0.5 3.7 0.4-4.5 0.5 0.2 0.4 2.2 0.5-1.1 0.4-2.5 0.5 1.3 0.4-1.3 0.5 0.5 0.4-1.5 0.5-2.1 0.4 4.1 0.5-1.3 0.4-3.6 0.5 3.4 0.4 7.1 0.5-2.6 0.4-3.4 0.5-0.5 0.4-1.2 0.5 4.2 0.4-4.7 0.5-1.4 0.4 3.8 0.5-9.1 0.4 6 0.5 3.6 0.4 10.8 0.5-9.1 0.4 0.2 0.5 2.3 0.4 15.3 0.5-26.1 0.4-0.4 0.5 5.9 0.4 4.2 0.5-7.1 0.4-0.7 0.5 6.7 0.4-7 0.5 8.2 0.4-6.2 0.5 29.2 0.4-18.4 0.5 13.3 0.4-21.3 0.5 0.5 0.4-0.1 0.5-0.9 0.4-2.3 0.5 4.3 0.4-0.6 0.5 3.8 0.4-3.3 0.5-1.1 0.4 0.9 0.5 2.6 0.4-3.4 0.5-10.8 0.4 12.2 0.5 1.2 0.4 11.2 0.5-16.6 0.4 4.6 0.5-2.8 0.4 2.6 0.5-9.7 0.4 5.7 0.5-0.3 0.4 1.8 0.5 1.2 0.4-4.4 0.5 7.2 0.4-16.1 0.5 10.4 0.4 3.2 0.5 1.7 0.4-8.4 0.5 6.5 0.4-3.5 0.5-0.1 0.4-1.9 0.5 8.9 0.4-9.8 0.5 6.3 0.4-2 0.5 0.4 0.4 4.7 0.5-6.4 0.4-1.8 0.5-2.1 0.4-4.3 0.5 4.2 0.4 0.1 0.5 3.9 0.4-4 0.5 0 0.4-3.1 0.5 2.8 0.4-3.6 0.5 3.4 0.4 7 0.5-15.1 0.4 4.1 0.5 3.9 0.4-2.3 0.5 0.7 0.4 4.6 0.5 8.3 0.4-13.5 0.5 11.2 0.4-6.7 0.5 4.4 0.4 2.8 0.5 1 0.4-1.5 0.5-8.7 0.4 10.6 0.5 1.1 0.4 5.8 0.5-1 0.4 3.2 0.5 0.1 0.4-0.7 0.5-6.5 0.4 13.2 0.5-7.2 0.4 2.5 0.5-8.5 0.4 7.7 0.5 1.9 0.4 0 0.5 1 0.4 1.8 0.5-1.9 0.4-3.6 0.5 1.1 0.4-0.6 0.5 1.4 0.4-4.5 0.5-4.6 0.4-2.2 0.5 12.4 0.4-9.9 0.5 0.1 0.4-5.5 0.5-0.1 0.4 2.3 0.5-8 0.4-0.7 0.5 2.8 0.4-0.7 0.5-0.5 0.4-3.5 0.5 3.8 0.4-6.5 0.5 0.6 0.4-2.3 0.5-6.5 0.4 1.4 0.5-2.1 0.4 0.3 0.5 0.3 0.4-0.2 0.5 0.8 0.4 4.2 0.5-3.9 0.4 2.1 0.5 0.7 0.4 0.1 0.5 0 0.4-0.1 0.5 4.5 0.4 10.4 0.5-9.8 0.4-1.3 0.5 5.8 0.4-3.7 0.5-1.4 0.4-5 0.5 3.4 0.4-0.6 0.5-13.2 0.4 19.6 0.5-2.6 0.4-2.9 0.5 3.3 0.4 10.8 0.5-3.3 0.4-9.8 0.5 3.2 0.4 0.2 0.5-14 0.4 16.1 0.5 0.5 0.3 44.2 0.1-42.2 0.5-5.7 0.4 1.2 0.5 0.3 0.4-2.7 0.5-0.2 0.4-4.4 0.5 7.9 0.4 2.3 0.5-2.5 0.4-0.3 0.5 5.8 0.4-5.4 0.5 4.8 0.4 2.4 0.5 2.8 0.4 3.4 0.5 10.5 0.4 2.2 0.5-10.4 0.4 7.3 0.5 1.9 0.4 0.4 0.5-4.6 0.4 4.9 0.5 3.7 0.4-0.4 0.5 3.2 0.4-2.1 0.5 2 0.4-0.3 0.5 1.4 0.4-7.3 0.5 1 0.4-0.1 0.5-0.7 0.4-4.2 0.5-0.9 0.4-2.3 0.5 14.1 0.4-5.3 0.5-3.7 0.4-5.5 0.5 5.2 0.4-8.6 0.5 2.3 0.4 5.4 0.5-9 0.4-5.6 0.5-0.9 0.4 4.5 0.5-1.9 0.4-5.5 0.5 8.6 0.4-5.7 0.5 3.9 0.1 41 0.3-46.2 0.5 2.5 0.4 7.3 0.5-2.9 0.4 4.7 0.5-3.7 0.4 6.3 0.5 3.8 0.4-2.9 0.5 9.6 0.4-8.6 0.5 0.7 0.4 3.3 0.5 4.4 0.4 5.5 0.5-13.1 0.4 1.5 0.5-4 0.4 2.7 0.5-6.1 0.4 1.9 0.5-8.1 0.4 8 0.5-8.6 0.4 18.3 0.5-21.5 0.4-4.1 0.5 2.4 0.4-5.4 0.5 9 0.4-4.3 0.5 0.7 0.4-3.6 0.3 51.5 0.2-63.5 0.4 10.5 0.5 4.7 0.4 1.1 0.5 10.3 0.4-11 0.5-4.3 0.4 6.2 0.5 8.7 0.4-6 0.5-0.3 0.4 0.7 0.5 0.3 0.4 2.6 0.5-0.3 0.4-0.7 0.5 0.6 0.4 4.7 0.5-0.2 0.4-1 0.5 0.4 0.4-15.4 0.5 16.3 0.4 0 0.5-4.2 0.4 4.8 0.5 13 0.4-9.7 0.5-1.9 0.4-4.4 0.5 4.2 0.4-2.2 0.5 2.8 0.4 1.8 0.5-11.7 0.4 17.3 0.5-8.2 0.4 12.4 0.5-9.9 0.4-4.5 0.5-2.4 0.4 2.7 0.5-1.8 0.4 1 0.5 0.2 0 28.3 0.4-27.6 0.5 0.4 0.4 1.8 0.5-5.4 0.4 19.9 0.5-16.2 0.4 0.8 0.5-9.6 0.4 8 0.5 0.1 0.4-4.8 0.5 1.4 0.4-1.8 0.5 2.3 0.4 2.5 0.5-0.9 0.4-2.1 0.5 2 0.4-2.7 0.5 15.9 0.4-8.7 0.5-2.8 0.4 2.7 0.5-4.8 0.4-0.2 0.5 3.1 0.4-0.8 0.5 1.9 0.4 4.4 0.5-1.9 0.4-2.2 0.5-0.7 0.4 0.8 0.5 1.3 0.4 6.5 0.5-6.9 0.4 7.8 0.5-10.7 0.4-1.9 0.5-1.5 0.4 6.4 0.5-14.6 0.4 11.7 0.5-2 0.4-6.3 0.5 11.5 0.4-18.4 0.5 5.4 0.4-4.1 0.5 0.4 0.4-4.5 0.5 2 0.4-1.5 0.5 0.1 0.4-6.5 0.5-2.5 0.4 1.9 0.5-3.5 0.4 5.9 0.5 2.5 0.4 5.7 0.5 2.3 0.4 4.6 0.5 11 0.4 1.8 0.5 2.4 0.4 5.6 0.5 4.4 0.4 6.9 0-11.9 0.5-1.4 0.4-2.9 0.5-0.3 0.4-8.7 0.5 5.8 0.4-5.3 0.5-5.1 0.4 5.6 0.5-11.4 0.4-11.6 0.5 14.1 0.4 1.2 0.5-7.8 0.4-1.5 0.5-0.6 0.4 0.7 0.5-3.7 0.4 0.1 0.5 6.9 0.4 0.6 0.5-3 0.4 5.6 0.5 2.8 0.4 6.1 0.5 3 0.4 2.5 0.5-7.7 0.4 13.6 0.5-3.2 0.4 9.2 0.5 9.3 0.4-3.2 0.3 9.2 0.2-8.3 0.4-3.1 0.5-6.2 0.4 6.4 0.5-10.6 0.4 3.4 0.5-6.3 0.4-6.4 0.5-12.3 0.4 8.1 0.5 4.9 0.4-12.8 0.5 8.9 0.4-7.7 0.5-1.3 0.4 8.6 0.5-12.6 0.4-4.4 0.5 1.3 0.4 1.1 0.5 0.8 0.4-10.7 0.5-2.8 0.4 3.3 0.5 0.8 0.4-0.9 0.5 3.3 0.4-4 0.5 14.6 0.4-8.1 0.5-1.4 0.4 6.9 0.5 7.9 0.4-7 0.5 8.9 0.4-9.7 0.5 7.3 0.4 2.4 0.5 3.3 0.4-7.7 0.5 3.3 0.4 14.9 0.5-7.6 0.4-2.2 0.5 4.8 0.3 18.9 0.1-22.9 0.5-6 0.4-0.6 0.5-2.3 0.4-0.3 0.5 5.1 0.4-6 0.5 2.7 0.4-0.7 0.5-4.4 0.4 2.9 0.5 1.4 0.4-3.2 0.5-1.5 0.4-1.1 0.5-1.2 0.4-2.6 0.5-0.8 0.4-1.5 0.5 1.1 0.4 0.8 0.5-2.8 0.4-0.8 0.5-6.2 0.4 11 0.5-10.1 0.4 6.7 0.5-0.9 0.4-5.3 0.5 6.2 0.4-5.7 0.5 10.1 0.4 2 0.5-1.4 0.4 6.5 0.5-1.8 0.4 1.4 0.5 12 0.4-5.7 0.5 0.3 0.4-8.6 0.5 22.4 0.4-6.1 0.5 7.5 0.4-6.2 0.5 8.9 0.4-3.9 0.5-5.5 0.4 2 0.5 3.6 0.4-4 0.5-2.1 0.4-3 0.5-6.8 0.4 9.2 0.5-0.5 0.4-3.3 0.5 2.6 0.4 6.8 0.5-17.3 0.4-0.1 0.5 0 0.4-1.6 0.5 2.3 0.4 5.3 0.5-18.5 0.4 7.5 0.2 33 0.3-31.1 0.4 4.3 0.5-8.6 0.4 0.4 0.5-6.1 0.4 3.2 0.5 0.4 0.4 4.5 0.5 5.2 0.4 1.5 0.5-10 0.4 5.4 0.5-1.3 0.4-1.6 0.5 0.7 0.4-0.3 0.5 0.7 0.4-2.5 0.1 35.2 0.4-28.9 0.4-9 0.5 9.9 0.4-3.7 0.5 4.4 0.4 3.1 0.5 9.1 0.4-4.2 0.5 12.5 0.4-0.2 0.5 3.4 0.4 4 0.5 7.1 0.2 9.5 0.2-10.5 0.5 0.3 0.4-4.6 0.5-6.7 0.4-3.3 0.5-0.5 0.4-3.2 0.5-5.7 0.4-7.7 0.5-4.4 0.4 9.2 0.5-5.5 0.4-3.2 0.5 1.2 0.4-4.8 0.5 2.4 0.4-5 0.5-3.8 0.4-7.1 0.5 6.7 0.4-1.2 0.5 2.2 0.4-2.9 0.5-5.3 0.4-0.4 0.5 3.7 0.4 0.3 0.5-3.7 0.4 0.6 0.5 3.1 0.4 2.7 0.5-11.9 0.4 4.5 0.5 6.1 0.4-7 0.5 3.9 0.4-5.1 0.5-0.2 0.4-1.5 0.5-0.4 0.4 3.5 0.5 0.4 0.4-3.9 0.5 3.6 0.4 1.8 0.5 0 0.4 2.9 0.5 4.4 0.4 11.5 0.5-11.6 0.4 1.1 0.5-1.8 0.4 3.9 0.5 2.9 0.4-9.5 0.5 6.8 0.4-19.7 0.5 29.4 0.4 4.7 0.5-3.9 0.4 0 0.5-2.4 0.4 4.4 0.5 0.8 0.4 3.3 0.5 1.9 0.4-6 0.5-7.6 0.4 15.7 0.5-1.8 0.4 0.3 0.5 1.6 0.4-1.4 0.5-2.9 0.4 7.9 0.5-2.2 0.4 1.5 0.5-5.2 0.4 6.7 0.5 0 0.4 2.5 0.5 1.3 0.4 0 0.5 0 0.4 0 0.5 0 0.4 0 0.5 0 0.4 0 0.2 16.8 0.3-16.8 0.4 0 0.5 0 0.4 0 0.5 0 0.4 0 0.5 0 0.4 0 0.5 0 0.4 0 0.5 0 0.4 0 0.5 0 0.4 0 0.5 0 0.4 0 0.5 0 0.4 0 0.5 0 0.4 0 0.5 0 0.4 0 0.5 0 0.4 0 0.5 0 0.4 0 0.5 0 0.4 0 0.5 0 0.4 0 0.5 0 0.4 0 0.5 0 0.4 0 0.5 0 0.4 0 0.5 0 0.4 0 0.5 0 0.4 0 0.5 0 0.4 0 0.5 0 0.4 0 0.5 0 0.4 0 0.5 0 0.4 0 0.5 0 0.4 0 0.5 0 0.4 0 0.5 0 0.4 0 0.5 0 0.4 0 0.5 0 0.4 0 0.5 0 0.4 0 0.5 0 0.4 0 0.5 0 0.4 0 0.5 0 0.4 0 0.5 0 0.4 0 0.5 0 0.4 0 0.5 0 0.4 0 0.5 0 0.4 0 0.5 0 0.4 0 0.5 0 0.4 0 0.5 0 0.4 0 0.5 0 0.4 0 0.5 0 0.4 0 0.5 0 0.4 0 0.5 0 0.4 0 0.5 0 0.4 0 0.5 0 0.4 0 0.5 0 0.4 0 0.5 0 0.4 0 0.5 0 0.4 0 0.5 0 0.4 0 0.5 0 0.4 0 0.5 0 0.4 0 0.5 0 0.4 0 0.5 0 0.4 0 0.5 0 0.4 0 0.5 0 0.4 0 0.5 0 0.4 0 0.5 0 0.4 0 0.5 0 0.4 0 0.5 0 0.4 0 0.5 0 0.4 0 0.5 0 0.4 0 0.5 0 0.4 0 0.5 0 0.4 0 0.5 0 0.4 0 0.5 0 0.4 0 0.5 0 0.4 0 0.5 0 0.4 0 0.5 0 0.4 0 0.5 0 0.4 0 0.5 0 0.4 0 0.5 0 0.4 0 0.5 0 0.4 0 0.5 0 0.4 0 0.5 0 0.4 0 0.5 0 0.4 0 0.5 0 0.4 0 0.5 0 0.4 0 0.5 0 0.4 0 0.5 0 0.4-23.4 0.5 4.4 0.4-2.6 0.5-1.7 0.4 3.8 0.5-7.7 0.4-2.4 0.5 5.3 0.4-6.7 0.5-11.3 0.4 13.1 0.5 4.7 0.4 1.7 0.5-1.1 0.4 5 0.5-1.4 0.4-1.4 0.5 8.3 0.4 0.7 0.5-4.6 0.4 2.4 0.5 0.5 0.4 2.8 0.5 0.7 0.4 6.4 0.5 0 0.4-2 0.5 12 0.4-5.7 0.5-3 0.4-5.3 0.5 6.3 0.4-4 0.5-2.4 0.4 0.7 0.5-20 0.4 15.9 0.5-9.2 0.4 5.8 0.1 42.2 0.4-42.3 0.4 1.7 0.5-2.5 0.4-2.5 0.5 4.6 0.4-3.4 0.5 0.5 0.4-6.9 0.5-1.1 0.4 0.2 0.5-0.4 0.4-1.1 0.5-5.7 0.4-1.2 0.5 1.6 0.4 1.2 0.5-4.7 0.4 4 0.5 1.4 0.4-0.8 0.5 3.2 0.4 0.4 0.5 1.1 0.4-0.2 0.5 18 0.4-21.1 0.5 2.2 0.4 9.4 0.5-5.2 0.4 3.5 0.5-8.8 0.4 13.9 0.5-0.2 0.4-3.1 0.5 1.6 0.4 2.7 0.5 2.3 0.4 4.3 0.5-19.9 0.4 17.4 0.5-7.9 0.4 15.6 0.5-8.2 0.4-5 0.5 7.8 0.4-9.6 0.5 6.5 0.4 3.6 0.5-3.5 0.4 1.2 0.5 6.2 0.4-0.8 0.5 2.8 0.4-7.3 0.5 3.5 0.4-14.9 0.5 12.5 0.4 7.8 0.5-5 0.4 0.1 0.5-0.1 0.4 3.3 0.5-7.4 0.4-8.5 0.5 10.6 0.4 12.8 0.5-14.2 0.4 4.8 0.5 6.2 0.4-8.5 0.5-3.7 0.4 18.1 0.5-13.9 0.4-4 0.5-1.3 0.4 7.4 0.5-4.4 0.4-1.4 0.5 5.5 0.4 20.5 0.5-20 0.4-1.1 0.5 9.9 0.4-5.3 0.5 1.4 0.4-0.3 0.5 1 0.4-3.9 0.5 3.7 0.4 0.3 0.5 6.1 0.4-0.6 0.5 8.9 0.4-0.7 0.5-5.4 0.4 2.1 0.5 4.2 0.4-6.3 0.5 5.6 0.4 1.7 0.5 6.8 0.4-4.1 0.5 1.4 0.4 4 0.3 22.9 0.2-26.9 0.4-11.5 0.5 15.2 0.4-7.4 0.5-4.3 0.4 11.7 0.5-11.9 0.4 4.3 0.5 3.4 0.4-16.7 0.5 0 0.4 0 0.5 0 0.4 0 0.5 0 0.4 0 0.5 0 0.4 0 0.5 0 0.4 0 0.5 0 0.4 0 0.5 0 0.4 0 0.5 0 0.4 0 0.5 0 0.4 0 0.5 0 0.4 0 0.5 0 0.4 0 0.5 0 0.4 0 0.5 0 0.4 0 0.5 0 0.4 0 0.5 0 0.4 0 0.5 0 0.4 0 0.5 0 0.4 0 0.5 0" fill="none" stroke="#f01e24" stroke-width="0.9" stroke-linejoin="round" opacity="0.65"/></g>
<path d="M236.8 804.4v-10.5M236.8 517.5v10.5M349.6 804.4v-10.5M349.6 517.5v10.5M462.5 804.4v-10.5M462.5 517.5v10.5M575.3 804.4v-10.5M575.3 517.5v10.5M688.2 804.4v-10.5M688.2 517.5v10.5M801 804.4v-10.5M801 517.5v10.5M913.9 804.4v-10.5M913.9 517.5v10.5M1026.7 804.4v-10.5M1026.7 517.5v10.5M1139.6 804.4v-10.5M1139.6 517.5v10.5M125.2 660.5h10.5M1252.5 660.5h-10.5" class="tk"/>
<rect x="125.2" y="517.5" width="1127.3" height="286.9" class="ax"/>
<text transform="translate(127.9 834.1) scale(0.955 1.075)" text-anchor="middle" class="tk2">0</text>
<text transform="translate(238.2 834.1) scale(0.955 1.075)" text-anchor="middle" class="tk2">1000</text>
<text transform="translate(351 834.1) scale(0.955 1.075)" text-anchor="middle" class="tk2">2000</text>
<text transform="translate(463.9 834.1) scale(0.955 1.075)" text-anchor="middle" class="tk2">3000</text>
<text transform="translate(576.7 834.1) scale(0.955 1.075)" text-anchor="middle" class="tk2">4000</text>
<text transform="translate(689.6 834.1) scale(0.955 1.075)" text-anchor="middle" class="tk2">5000</text>
<text transform="translate(802.4 834.1) scale(0.955 1.075)" text-anchor="middle" class="tk2">6000</text>
<text transform="translate(915.3 834.1) scale(0.955 1.075)" text-anchor="middle" class="tk2">7000</text>
<text transform="translate(1028.1 834.1) scale(0.955 1.075)" text-anchor="middle" class="tk2">8000</text>
<text transform="translate(1141 834.1) scale(0.955 1.075)" text-anchor="middle" class="tk2">9000</text>
<text transform="translate(1253.9 834.1) scale(0.955 1.075)" text-anchor="middle" class="tk2">10000</text>
<text transform="translate(120.7 528.5) scale(0.955 1.03)" text-anchor="end" class="tk2">5</text>
<text transform="translate(120.7 671.5) scale(0.955 1.03)" text-anchor="end" class="tk2">0</text>
<text transform="translate(120.7 815.9) scale(0.955 1.03)" text-anchor="end" class="tk2">-5</text>
<text transform="translate(81.2 661) rotate(-90)" text-anchor="middle" class="tt">Pitch (degree)</text>
<text x="687.8" y="866" text-anchor="middle" class="tt">Time (s)</text>

<g clip-path="url(#c2)"><path d="M126.5 1115.5l1.6 0 1.6 0 1.7 0 1.6 0 1.6 0 1.6 0 1.6 0 1.7 0 1.6 0 1.6 0 1.6 0 1.6 0 1.7 0 1.6 0 1.6 0 1.6 0 1.6 0 1.7 0 1.6 0 1.6 0 1.6 0 1.6 0 1.7 0 1.6 0 1.6 0 1.6 0 1.6 0 1.6 0 1.7 0 1.6 0 1.6 0 1.6 0 1.6 0 1.7 0 1.6 0 1.6 0 1.6 0 1.6 0 1.7 0 1.6 0 1.6 0 1.6 0 1.6 0 1.7 0 1.6 0 1.6 0 0.4-2-0.1-2 0.4-2 0.1-2-0.2-2 0.3-2 0.9-2-0.9-2 0.6-2 0.1 9 1 9 1.5-2.3 0.6 2.2 1 0.3 0.5-0.9 1.2 1.1 0.1 3.5 1.1-0.3 1 4.2 1 1.3 0.7-0.2 0-3.4 0.8 0.2 0.7-2.4 0.6-2.7 0.9 0.4 0-3.5 1.4-2.6 0.1 1.4 0.2 2.9 1.1 2.5 0.7 2 0.9 0.7 0.5 1.5 0.7 3.3 0.1 0.4 0.8 1.1 0.1 1.1 1 1.5 0.1 1.2 0.6 0.3 0.6 4.8 1.2-3.2 0.3-2.4 0.9 1.9 0.3-2.7 1.1 0.6 1.2-2.7 0.5-3.1 1.2 1.9 0-3.8 1.4-3.8 0.3 1.4 2.5-1.3 1.9 0 1.9 0 2 0 1.2-0.5 0.4 3.4 0.9-1.2 0.9 0.7 0.4 3.3 1.4-1.8 1.6 1.2 1.7 0 1.8 0 1.7 0 1.7 0 1.7 0 0.5 0.7 1.2 0.9 0.4 1.6 0.9 0.5 1.3 0.5 0.7 2 1.6-0.9 0.3 1.2 1.4 3.2 0-0.7 1.2 1.2 0.3-1.3 1.2 1.6 0.4-0.9 1.7 0.9 0.4-0.6 0.4-2.8 0.9-0.3 1.1 0.6 0.6 1.3 0.7-2.2 1.2 1 0.4 0.8 1.6-0.6 0.1 1 0.9-2.4 1 2.5 0.8-2.7 0.6-1 0.8-2.4 0.8-1.1 0.6-0.7 0.3-1.8 1.2-3.7 0.4 0.5-0.2-1.2 1.1-1.3 1.6-1 0.9-1.7 0.6-0.5 1.3-0.1 0.6-4 2.2 1.3-0.3 0 0.6 2.9 1.2-1.4 0.8 1.1-0.1 1.5 1.6 0.3 0.8 0.3 1.3 0.8 0.4 1.7 0.6 2.3 0.7-2.1 1 0.4 0.9 0 0.4 0.9 1.3-1.8 0.4 1.3 0.8 3.5 0.9-2.4 0.6 0.7 0.8-0.7 1.3 1.5 0.9-2.3 0.6 1 0.7 1.9 0.7-1.4 1.1 0.6 0.5-0.5 1.8 1.3-0.5 0.4 1.3-0.7 0.3 1.9 0.5 1.6 0.6 1.7 0.2 1.9 0.5 2.6 0.7-1.3-0.1 4 1.4 2 0.6 1.2 0.1 0.8 0.5 2.5 0.6 1.3 0.6 0.3 0.3 3.6 0.3 1.1 0.5-0.2 1.8 0.9 1.8 0 1.7 0 0.6 0.5 0-3 1.1-3.4-0.2 1.3-0.3-5.5 0.4 1.7 0.9-3.4 0.2-0.7 0.3 1.2 0.7 1.8 0 1.4 0.7 1.8 0.4 2.9 0.6 2.2 0.4-0.4 1 1.4-0.3 2.1-0.2 1 0.1 1.2 0.9 4.5 0.1-1.6-0.1 3.5-0.1 0.5 0.1 1.2 0.4 1.4 0.2 2.9-0.2 2.2 0.1 0.7 0 0.8 0.7 4.6-0.3 0.2 0.3 2.3 0.6 1.5 0 2.3" fill="none" stroke="none" marker-start="url(#m)" marker-mid="url(#m)" marker-end="url(#m)"/><path d="M338 921l1.1-1.7 0.6 0.8 1.1-1.2 1.1-1.3 1 1.3 0.7 0.2" fill="none" stroke="none" marker-start="url(#m)" marker-mid="url(#m)" marker-end="url(#m)"/><path d="M343.7 1177l0.6-2.3 0.2-2.2 0.4 0.1 0.8-1.1 0.2-3 0.7-1.2-0.1-4.3 0.5-0.5 0.3-0.6 0.3-1.5 1-0.9 0.3-1.5 0.9-0.6 0.9-1.3 1.6 2.1-0.2-3.7 0.8 0.5 1 0.6 0.5-0.1 1.3-1.5 1.1 1.5 1.5-0.5 1.7 0 1.8 0 1.7 0 1.7 0 1.7 0 0-1.6 1.7-2.1 0.4-1.3-0.2-2.6 0.4-1.6-0.1-1.7 1-2.1 0.4-1.8-0.1-0.7 0.8-2.7 0.6-1.6 0.8-0.1-0.2-0.2 0.8-0.2 1.4-0.7 0.5 0.7 1.3-2.1 1.1-1.2 0.3 0.6 0.7 0.3 0.9 0.1 0.8 1.9 1.1-1.8 0.8 1.7 0.7-1.9 1.8 0.5-0.2 0.2 1.2 1.4 0.9-0.9 1 0.7-0.1 1.1 0.8 1.7 0 2.8 0.7 2.6-0.2 1.9 0.7 0.1-0.3 2.5 0.3 0.9 0.6 0.7-0.1 2.3 1.3-0.2-0.4 6 0-0.2 0.7 3.4-0.1-0.6 0.3 0.8 0.9 3-0.2 0 1.3-1.2-0.4-1.5 0.5-4.3 0.2-1.6 0.1 0.6 0.9-2.8-0.4-3.4 0.6 1-0.1-3.5 0.9-0.6-0.6-1.1 0.5-2.5 0.6-2.3 0.1-1 0.1-1.7 1.1-1.7-0.4-0.9 0.2 0.4-0.1-6.3 1 3.2 0-4.7 0.9-2.1-0.8 1.6 1.4-3.5-0.2-2.5 0.3-3.4 0.1 0.8 1.3-0.8 0.9 0.5 0.7-1 0.8-3.5 0.5 2.4 0.6 1.7 1.5-1 0.6 1 1-2.2 0.7 1 0.9-1.7 0.4-1.9 1.6-0.6 0.5 0.7 0.8-0.6 1.3-0.6 0.6-0.5 0.9-1.9 1.6-0.1 1.7 0 1.8 0 1.7 0 1.7 0 1.7 0 0.3 1.3 1.1 3.3 0.7-1.6 0.9 3 1.5 4.1 0.6-0.1-0.2 2.2 1.6 0.2 1.1 2 0.3 3.2 0.4-2.8 1.4-0.9 0.2 0.7 1.3-2.9 0.7 1.9 0.9-1 0.3-2 1.3-2 0.6-0.4 1.4-0.2 0.8 0.6 0.9 1.9 0.6-1 0.5 3.4 0.8-1.3 1.2 0.8 0.4-0.5 1.3 0.4 0.8-1.4 0.8 2.2 0.4 0.9 0.7 1.5 0.8-1.8 0.6 0.1 1.2-1.2 0.6 0.7 1.3-0.7 1 1.6 0.3-2.4 0.7-1.8 1.6 0.3 0.4-3.6 1.4 2.6 0.9-0.9-0.1-0.1 1.3-3.4 1 1 0.5-7.3 0.3-6.5-0.4-6.5 0.5-6.5 0.1-6.5 0.3-6.5 0.6-6.5 0.8-6.5-0.5-6.5 0.2-6.5 0.3-6.5 0-6.5 2.7 0 1.3-1.2 0.6 1.9 0.6 0.3 0.4 0 1.7-1.3 0.1 0.6 1.3-1.7 0.1 0.4 1.1-0.8 1.3 2 0.6-2.5 0.7-1.2 0.3 0.2 1.3-4.8 0.4 0.2 1.2-1.1 0.6 0 0.9-1.8 0.8-2.7 0.9-1.2 1.1-1.1 0.9-2 0.1 0.7 0.9 1.9 1.3-3 0.9-0.6 1.6 0.8-0.3 2 0.5-1 1.2 0 1.3 1.9 0.1-0.1 1.7 0.8 0.4 0.4 0.6 4.1 1.4 0 0.4 0.1 1.1 2.4 0.5 1.3 1.5-1.7-0.2 1.8 1-0.5 0.9-1 1.5 1.6 0.1 1.3 1.2-0.6 1.1-0.6 0.5-1 1.5-0.1 0 0.6 0.5 1.9 1.4-0.8 0.5 1.4 1 0.4 1.1-0.7 0.2-1.9 1.1 1 0.6-1.3 0.8-0.4 0.4-4.2 1.1 1.4 1-0.3 1-3.7 0.6-1.9 0.1 1.9 1.5-5.1 1 3.9 1.1-2.2 0.4 2.7 1.2-2.7 1.1 2.6 0.2-0.2 1.4 1.2 0.3 0.2 0.4 0.2 0.7 1.5 0.7 2.7 0.1 3.9 0.8 2.7 0.9-1.3 0.6-0.5 0.5 2.6 0.8 3.4 0.9 0.5-0.4 1.5 0.3 1.7 1.1-0.3 1.2 5-0.8-0.8 1 2.1 0.8 2.1 0.4 3.5 0.7 1.2 0.1 0.2 1 1.9 0.6 1.8 0.4 2 0.6-0.5 0.8 3.5 0.3 1.6 1.1 1.3-0.4 2.1 2.2-0.5 2 0 2 0 0.2-1.7-0.1-0.6 0.7-2.5-0.4-0.9-0.2-2.3 0.2-1.9 0.3-1.4-0.1-2.1-0.1-1.4 0.5-3 0.2 0.6-0.2-4.7 0.2 1.5 0.4-0.6-0.5-1.2 0.8-2.4 0-2.8 0.1-0.9-0.6-1 0.7-4.1 0.6-0.1 0.8 3.2 0.6-2.1 1.8 1.1 0.2-0.9 1.2 1.9 0.6-1.7 0.8 1.6 1.1-2.1 0.5 0.9 1.1 0.5 0.8-2.6 1.3 3.7 0.2 0.6 0.7-0.9 0.4-1.6 1.3 2.3 0.7-0.8 0.9 0.5 0.8 0.4 0.9 0.8 1.5-0.9 0.2 2.9 0.5-1.3 1.5 1.6 0.5-1 0.9-0.4 1 2.3 1-1.7 0.7 0.4 0.6 2.4 0.7-2 1.2 2.6 0.8 0.2 0.9-2.7 0.6 2.3 1.5-0.6 0.5 0.3 0.9 1.6 0.2-0.4 0.8-2.5 1.1 0.8 0.3 1.6 1.4 0.5 1.1 1 1.1 0 0.7 0.4 1.2 1.1 0.4-0.3 0.4-0.4 1.8 1.4 0-1.7 0.9-1.3 1.3 0 0.4 2.1 0.6-3.8 1.4 2.6 0.2-0.7 0.5-0.7 1.7 1.9 0.4-1.2 0.8 1.1 1 1.4 0.7-3.4 0.3 0.9 2 1 0.2 2.6 0.4-2.1 1.5 1.9 0.7-1.1 0.8 1.8 0.6 1.4 1.5-0.2 0.7 0.7 0.7 0.6 0.6 1.8 1.1 0.2 0.5 0.2 1 0.4 1-0.7 0.8-0.6 1.9 0.8 1.6 0 1.6 0 1.6 0 1.6 0 1.6 0 1.6 0 1.6 0 1.6 0 1.6 0 1.7 0 1.6 0 1.6 0 1.6 0 1.6 0 1.6 0 1.6 0 1.6 0 1.6 0 1.6 0 1.6 0 1.6 0 1.6 0 1.6 0 1.6 0 1.6 0 1.6 0 1.6 0 1.6 0 1.6 0 1.6 0 1.6 0 1.7 0 1.6 0 1.6 0 1.6 0 1.6 0 1.6 0 1.6 0 1.6 0 1.6 0 1.6 0 1.6 0-0.2-6.5 0.8-6.5-0.4-6.5 0.2-6.5-0.2-6.5-0.6-6.5 0.4-6.5 0.5-6.5 0.4-6.5-0.3-6.5-0.2-6.5 0.1-6.5-0.2-6.5 0.6-6.5-0.6-6.5 0.2-6.5 0.9-6.5-0.8-6.5 0.5-6.5-0.3-6.5 0.6-0.5 0.9-0.1 1.4-1.5 0.4-0.2 1.5-0.7 0-0.1 1.1 0.4 0.9-0.8 1.2-2.4 0.8 1.9 0.8-1.3 0.4-1.3 0.7-0.4" fill="none" stroke="none" marker-start="url(#m)" marker-mid="url(#m)" marker-end="url(#m)"/><path d="M703.5 1177l1 0.9 0.8 0 0.9-0.6 0.5-1.2 1 0.8 0.8 0.7 1 0 0.6-2.3 1 1.7 0.4-0.9 1-0.8 0.9-0.4 0.7 1.1 0.9 1.1 1-0.9" fill="none" stroke="none" marker-start="url(#m)" marker-mid="url(#m)" marker-end="url(#m)"/><path d="M720 1174.4l1.7-0.8 1.6 0 1.7 0 1.7 0 1.6 0 1.7 0 1.7 0 1.6 0 1.7 0-0.1-3.9 1.4 0.1-0.4-1.8 0.3 0.7 0.9-3.4 1.6 0.3 1.7 0 1.7 0 1.8 0 1.7 0 1.7 0 1.7 0 0.5 1.5 0.3 0.6 0.5 4.3 0.8-0.7" fill="none" stroke="none" marker-start="url(#m)" marker-mid="url(#m)" marker-end="url(#m)"/><path d="M751 918l0 0.1 0.4 3-0.7 2.6 0.1 1.7 0.3 1.8 0.5 0.9-0.6 2.6 0.3 1.7-0.2 2.1 0.6-1.2 1.4 4.9 0.5-0.7 1-0.2 1.4 1.2 0.9-1.6 0.4 0 0.8 1 1.2-2.5-0.2-1.6 1.3-1.8 0.3-2.1 0.6-2 1.3-1.1 0.6-1.6 1.4-2-0.2-1.3 0.8-1.9 1.2-2.7" fill="none" stroke="none" marker-start="url(#m)" marker-mid="url(#m)" marker-end="url(#m)"/><path d="M766.8 1177l0.6-3.6 1.1 1 0.1-1.9 0.6-2.1-0.1-2 0.6-1.1 0.9-1.8 0.9-4.5 0.9-1-0.1 0 0.9-0.1 0-2.3 0.8-1.7 1.3-1.8 0.2-3.2 0.1 0.7 1.6 0.4 0.5 1 1-1.6 0.4 0.5 1.4 0.4 0.6 1.2 1.2 0.7 0.2-0.5 1.3 2.2 0.4-1.5 0.8-0.9 0.8 2.1 1.2 1.9 1-1.3 0.5 0.4 0.4-0.3 1.1 3.6 0.8-2.5 1 1.8 1.4-0.8-0.3-1.8 1.6-0.5 0.7 0 0.8-0.1 0.9 0.2 0.1-1.6 1.4 3.1 1-0.4 1 1.9 0.5 1.5 0.6-1 1.2-1.7 0.6 0.9 0.8-2 0.6-1.7 1.2-1 0.9 0.5 0.7-3.7 1.7 0.3-0.1 1.7 0.2-2.6 1.2-2 1.4 0.9 0.6-0.8 2.6 0 2.3 0 0.1 2.9 1.3 0.4 0.3 3.4 1.1 1.6-0.4-0.5 1.3 2.7 1 0.4 0.9 1.9 0.7 1.4 0.3-0.9 1.1 0.2 0.7 2.7 1.2-2.5 0.8 2.1 0.7 0 0.7 0.7 1.5 0.6-0.3-0.1 1.9 2.2 0.4 1.2 0.4 3.4 0.6-0.2 1.4 1.5" fill="none" stroke="none" marker-start="url(#m)" marker-mid="url(#m)" marker-end="url(#m)"/><path d="M835.3 920.6l0.2 6.9-0.2 6.8 0.1 6.9-0.5 6.9 0.2 6.8 0.3 6.9 0 6.9-0.4 6.8 0.4 6.9 0.3 2.8 1.8 0.7 0.6 1 1.4 2.6 0.2 1.7 1-0.2 0.6 2 1.6-1.4 0.6 1.6 0.6-0.4 0.4 2.5 0.8-1.4 0.8 1.9 1.4-3.3 0.8-0.3 0.9 0.6 0.8-0.9 1-2 0.5 1.1 0.8 1 0.8-1.3 0.9 0.7 0.8-2.2 1.3 1.4 0.8-1.1 1.4-0.5-0.2 0.9 0.8 0.8 1.4 0.8 0.6 0.6 0.3 0.1 1-0.2 0.9 1 0.9-0.1 1 0 0.5 0.2 0.8 0.6 1.1-0.9 0.9 1.9 0.5-0.8 1-1.8 1 0.4 0.5 1.8 0.4-3.4 0.7-1.7 0.9-4.9 0.8 2.5 1.8-3.1 0.3 0.8 1.1-2.9 0.4 2.2 0.3-1.7 1.4-0.6 0.6-0.9 1.1 1.1 1.1-1.5 0.7-1.3 0.4 2.6 1.1-1.5 1.1-0.9 1.3 3.7 0.4-0.5 1.4 1.3 0.7 1.2 0.5 1.5 1-1.4 1-0.1 1-0.9 0.9 0.6 0.2-1.3 0.9-1 1 1 0.5-0.4 0.8 1.7 1.4-0.2 0.5 0.5 0.7 1.4 0.6 1.4 1.5-0.5 0.1 1 0.7 0 0.7 3.5 0.2-0.9-0.1 3.4 0.6 2.3 0.5 0.2 0.6 3.1-0.2 1.7 0.4 1.6 0.2-0.5 0.2 3 0.7 2.2 0.2 0.4 0 2.3 1.1 1.9-0.5 2.9 1-0.1 0.3 0.1 0.5 5.5-0.3 0.2 0.6-1.5 0.7 2.8-0.5 2.5 0.4 0.7 0.3 4.5 0.5 1.2 0.4-3.7 0.5-2.7-0.3-1.1-0.4 2.7 1.5-4.3-0.4-1.2 0.3-3.1-0.1-0.5 0.8-3-0.5 0.9 0.5-2.9 0.3-2.3 0.5-1.8 0.1 0.6 0.5-3.5-0.4-3 1.1 0.7 0.9 2.3 0.3 0.6 1.3-1 1.1-0.6 0.9-2.3 0.6 1.2 1.1-1.1 0.5 0.4 1 0.9 0.7-3.6 1.4 2.4 0.2 0.3 0.4 0.9 1.4 1.3-0.1 1.8 1.2 1.2-0.1 2.9 0.5 1.4 0.9 2.8 0.7 0.5 0.8 4.1 0.5-1.5 0.6 2.8 0.9 2.9 0.2 0.7 1.6 0.1 1.6 0 1.7 0 1.7 0 1.6 0 1.7 0 1.7 0 1.7 0 1.6 0 1.7 0 1.1 3.1 0.6 0.3-0.3 1.8 1.1 3.2 0.5-1.3 0.6 2.3 0.4 0.8 0.8 1.9 0 1.9 0.9 1.4 0.7 3.5 0.4 0.7 0.7 1.3 0.1 2.2 0.9 2.3 1.2 0.5-0.2-3.5 0.3 0.4 0.9-1.5-0.1-1.7 0.4-2.5 0.2-2 0.2-2 1-1-0.3-0.8 0.2-0.3 0.5-2.9 0.6-1.9 0.2-3 0.4 0.7 0.3-3.7 0.2-0.8 0.1 0.6 0.4-3.2 0.7-0.6 0.8-4.2-0.3-1 0.8-2.1-0.3-2.3 0 0.1 0.3-3.2 1.2-2.1 0.5-0.5-0.3-2.4 0.2 2.7 1.1 2.8 0-0.1 0.7 1.8 0.6 2.8 0.1 1.6 0.5 1.3 0.2 3.1 0.9-0.2 1.5-1.1 0.7 0.3 0.5 0.2 0.9 0.5 0.9 0.4 1-1.7 0.3-3.1 0.5 0.2 0-2.6 0.1-2.1 1.1-2.2 0.1-2.1 0.1 0.4 0.7 0.1 0.7-3.1 0.5-0.8 0.6-4.6 0.4-1 0.4-1.4 0.8-1.1 0.5 0.4 0-3.1 1.2-1.2 0.4 1 1-2.2 1 1.4 1 0 0.7-0.8 0.6 1.3 0.7-0.7 0.8 0.3 1-1.1 0.9 0.7 0.8-0.8 0.2-0.5 1.6 1.1 0.6-2.2 0.5 1.2 0.9 0 1 1 1.3-0.3 0.7-2.6 1.2-1.4 0.6-0.3 0-2 1.5 0.4 0.8-1.6 0.3 0.2 1.3-3.3 0.7 1.6 0.3 1.4 1.8-2.5 0.7 2.5 0.9 1.7 0.7-0.9 0.6 0.2 0.7 1.9 1.2-0.8 0.5 3.6 0.8 0.5 1.1 1.3 0.7 1.7 0.8 3.3 1.1 2 0.5 2.1 0.5 1 1.3 2 0.5-0.8 1.5 1.3 1.1-0.5 0.3-0.1 0.6-0.5 0.7 2.1 1.1-0.6 0.8 1.3 0.2-0.6 2-1.7 0.1-0.4 1.6 0.9 0.7-1.5 0.6-0.1 1.2 0.8 0.7-2.2 1-0.4 1.1-1.3 0.4-0.9 1-2.1 0.4-1.2 1.2-0.4 0.2-0.2 0.9 0.5 0.7-0.1 1.8-0.4 0.3-0.8 0.7-1.6 1.2 0.6 0.3 0.2 1.7 1.6 0.2-3.2 0.9 1.5 0.2-1.5 2 1.7 0.4 0.7 0.9 0.4 0.6-1.7 1 1.3 0.8 0.6 0.8 2.5 1.1 1.7 1.2 0.4 0.4 0.8 0.7-1.4 1 2.2 0.8 0.9 0.8-0.2 1.1 3.7 0.7-1.1 0.9 1 1.1 1.6 0.3 0 0.8-0.5 0.8 1.8 0.6-0.2 1.4-3.4 0.2-0.4 1.2-3.6 0.9-0.7 1-0.2 1.1-3.1 0.6 1.8 1.2-3.5 0.2 0 0.7 0.1 0.8 3.2 1.4-0.1 1 0.9 0.5-0.8 0.1 0.7 1.6 1.1 0.7 1.1 0.6-0.7 0.8-0.3 1 0.1 0.7 0.1 0.9-1.4 0.8 0.3 0.8 0.9 0.8-1.3 1.2 0.9 0.3 0.2 1-2 1.5-0.9 0.3-0.6" fill="none" stroke="none" marker-start="url(#m)" marker-mid="url(#m)" marker-end="url(#m)"/><path d="M1094.4 1174l-0.2-6.9 0.4-6.8-0.2-6.9 0.4-6.9-1.2-6.8 1.2-6.9-0.6-6.8-0.4-6.9 2.2 0 1.7 0 1.6 0 1.6 0 1.6 0 1.7 0 1.6 0 1.6 0 1.6 0 1.7 0 1.6 0 1.6 0 1.7 0 1.6 0 1.6 0 1.6 0 1.7 0 1.6 0 1.6 0 1.7 0 1.6 0 1.6 0 1.6 0 1.7 0 1.6 0 1.6 0 1.6 0 1.7 0 1.6 0 1.6 0 1.7 0 1.6 0 1.6 0 1.6 0 1.7 0 1.6 0 1.6 0 1.7 0 1.6 0 1.6 0 1.6 0 1.7 0 1.6 0 1.6 0 1.6 0 1.7 0 1.6 0 0.5-1.4 0-3.4-0.3-1 0.1-0.9 0.5-2.4-0.1 0.6 0.3-4.7-0.3 1.8 1.1 2.6 0.2 1.6 0.8-0.6 0.8 5.9 0.4 1.5 0-1.8 1 4.1 0.2 1.6 0.6 0.2 0.2 3.1 0.7 1.7 0.8-0.6-0.1-3 0.4-0.7 0-2.2 0.9-2 0.3-0.2 0.2-2.4 0.8-3.6-0.2 0.3 0.7 0.3 0.1 3.5 0.7 0.9 0.1 1.8 0 0.9 0.8 2.6 0.6 2 0.6 0.2 0.7 4-0.8 2.9 0.8-2.8 0.4 4.9-0.1 0.6 0.4 2.2 1.4-4.7-0.4 0.9 0.6-2.7 0.2-1 0.5 0 0.7-4 0.7-0.6-0.1-1.3 0.2-2.1 1-1.9-0.4-1.8 0.9-3.1 1.1-0.3 0 0.4 1.6-0.2 0.6-0.8 0.6-2 0.7 1.9 1.6-1.7 0.4-0.3 0.7 2.4 1.1 1.7 0.5 1.4 1 2.3 1.2 1.4 0.6 1.9 1.8-0.2 1.6 0 1.7 0 0.6 0.4 1.2 1.2 1.1 0.9 0.1 2.5 0.9 0.3 1.1 2.2 1.1 2.7 0.5 0.3 1.3 0.6 0.7-1.7 0.6 0.6 1.7 0.4-0.6-1 1.3-1.3 0.4-1.4 0.8-3.4 0.6-2.1 0.8 0.8-0.1-2.3 1-1 1-2.4 0.6-1.2-0.2-1.1 1.6-2.8-0.3-4.5 0.6 0.9 0.8 2.8 0.9 1 0.5 0.9 1.7 0.1 0.4 1.1 1-0.8 0.8 0.4 0.7 1.7 0.7 2 1 1.4-0.1-8 0.5-6.4-0.2-6.3-0.1-6.4 0.6-6.4-0.3-6.4 0.6-6.3 0.4-6.4-0.4-6.4 1.6 0 1.6 0 1.7 0 1.7 0 1.7 0 1.7 0 1.6 0 1.7 0 1.7 0 1.6 0 1.7 0 1.7 0" fill="none" stroke="none" marker-start="url(#m)" marker-mid="url(#m)" marker-end="url(#m)"/><path d="M126.5 1115.5l1.6 1.5 1.6 0 1.7 0 1.6 0 1.6 0 1.6 0 1.6 0 1.7 0 1.6 0 1.6 0 1.6 0 1.6 0 1.7 0 1.6 0 1.6 0 1.6 0 1.6 0 1.7 0 1.6 0 1.6 0 1.6 0 1.6 0 1.7 0 1.6 0 1.6 0 1.6 0 1.6 0 1.6 0 1.7 0 1.6 0 1.6 0 1.6 0 1.6 0 1.7 0 1.6 0 1.6 0 1.6 0 1.6 0 1.7 0 1.6 0 1.6 0 1.6 0 1.6 0 1.7 0 1.6 0 1.6 0 1.3-19.5 1.2 18 1 1.2 0.9 0.3 1 0.1 1-0.5 0.8 2.1 0.8 1.4 0.7 1.6 0.8 2.4 0.8 1.9 0.6-1.5 0.7-2.1 0.6-1.4 0.7-1.8 0.6-1.2 0.6-2.3 0.7-0.5 0.6-2 0.6 1.2 0.5 2 0.6 0.2 0.5 3.8 0.6 0.5 0.5 1.7 0.5 1.4 0.6 1.4 0.5 2.4 0.6 1.8 0.5 1.7 0.6 1.3 0.5 1.9 0.6 2.7 0.8-2.9 0.8-1.2 0.9-1.5 0.8-0.9 0.8-1.9 0.8-1.7 0.8-1.6 0.8-1.1 0.9-2.7 0.8-0.8 0.8-2 2 0.5 1.9 0 1.9 0 2 0 0.9 0.4 0.8 1.1 0.8 1 0.9 0.1 0.9 2.2 0.8-0.2 1.7 0.5 1.7 0 1.8 0 1.7 0 1.7 0 1.7 0 0.9 1.2 0.8 1.1 0.9-0.5 0.8 2.4 0.9 0.7 0.8 0.3 0.9 2 0.8 0.3 0.9 2 0.8-0.3 0.8-0.8 0.8 0.5 0.8-0.4 0.9 0.5 0.8-0.6 0.8-0.6 0.8 0.7 0.8 0.1 0.8-0.9 0.8 0.7 0.8 0.2 0.8 0 0.8 0.1 0.9-0.1 0.8-0.8 0.8 1.3 0.8-0.8 0.8-0.6 0.6-1.1 0.7-2.1 0.7-1.3 0.6-1.9 0.6-1.2 0.7-2.1 0.7-1.7 0.6-1.8 0.9-0.7 0.9-1.6 0.9 0.4 1-2.1 0.9-0.5 0.9-2.7 0.9 0.1 0.8 1.8 0.8-1.7 0.9 1.5 0.8 1.7 0.8 0.5 0.8 0 0.8 0.8 0.8 0.8 0.9 0.3 0.8 2 0.8-0.2 0.8-0.2 0.8 0.2 0.8 0 0.8 1.1 0.9 0.9 0.8-1.3 0.8 0.5 0.8 0.1 0.8 0.5 0.8 0.9 0.8-0.6 0.8-0.5 0.8 1 0.8 0.7 0.9-1.1 0.8 0.3 0.8 0.6 0.8-0.2 0.8 0.8 0.5 1.2 0.5 2.4 0.4 1.2 0.5 1.6 0.5 1.3 0.5 2.3 0.5 0.7 0.4 2.5 0.5 0.7 0.5 2.9 0.5 1 0.5 1.7 0.5 0.7 0.4 3.1 0.5 0.7 0.5 2.1 1.7-0.3 1.8 0 1.7 0 0.3-2.3 0.3-0.2 0.4-1.9 0.3-2.8 0.3-0.1 0.3-1.9 0.4-2 0.3-1 0.5 0 0.4 2.5 0.5 1.2 0.5 2.2 0.5 1.1 0.5 1.5 0.4 2.1 0.5 2.6 0.1 1.1 0.2 1.6 0.1 1.1 0.2 0.9 0.1 1.9 0.2 2.1 0.1 1.9 0.2 1.3 0.1 2.1 0.1 1.7 0.2 1.3 0.1 2 0.2 1.1 0.1 2.1 0.2 1.3 0.1 1.8 0.2 1.4 0.1 2 0.7-257.6 1 0.7 1-0.7 1-2 0.9 0.7 0.9 0.9 0.9 0.6 0 255.8 0.4 0.7 0.5-2.7 0.4-2.8 0.4-0.9 0.5 0.1 0.4-2.7 0.4-2 0.5-1.4 0.4-2.9 0.4-0.9 0.5-2.7 0.4-1.3 0.9 0.6 0.8-0.8 0.9 1.5 0.8-1.9 0.9 0.9 0.8-0.3 0.9-0.7 0.8 0.9 0.9-1.8 1.7 0.6 1.7 0 1.8 0 1.7 0 1.7 0 1.7 0 0.4-2 0.5-0.4 0.4-3 0.4-0.6 0.4-2.7 0.4-1.5 0.5-2 0.4-2.2 0.4-1.6 0.4-1.2 0.5-2.3 0.4-0.8 0.9 0.2 0.8-0.2 0.9-0.1 0.8-0.7 0.9-0.4 0.8-0.6 0.9-0.7 0.8 0.5 0.9-1 0.9-0.1 0.8 0.9 0.9 0.8 0.8 0.2 0.9-0.3 0.8 0.1 0.9 0.6 0.8 0.6 0.9-0.6 0.3 2.1 0.3 1.2 0.3 2.9 0.3 1.3 0.3 1.4 0.3 1.5 0.3 2.4 0.3 1.8 0.4 1.7 0.3 0.5 0.3 1.5 0.3 2.2 0.3 1.9 0.3 2.3 0.3 1.8 0.3 1.3 0.3 1.4 0.3-2.2 0.3-0.4 0.2-2.5 0.3-1.7 0.3-1.3 0.2-1.5 0.3-2.1 0.3-0.2 0.3-2.2 0.3-2.2 0.2-1.1 0.3-1.6 0.3-1.7 0.3-1 0.2-2.4 0.3-2.2 0.3-1.9 0.3-1.4 0.2-2 0.3-1.2 0.3-0.7 0.3-2 0.2-1.5 0.3-1.4 0.3-1.4 0.3-2 0.2-2.1 0.3-1.1 0.9 0.1 0.8 0.6 0.9-1.6 0.8-0.2 0.9-1.4 0.8 0.6 0.9 0.4 0.8-0.9 0.9-0.5 0.9-1.1 0.8 0.4 0.9-2.6 0.8 0.1 0.9 0 0.8-1.2 0.9-0.9 0.8 0 0.9-0.9 1.7-0.1 1.7 0 1.8 0 1.7 0 1.7 0 1.7 0 0.8 1.2 0.7 2 0.8 1.4 0.8 1.2 0.8 2.4 0.7 2.1 0.8 2 0.8 0.3 0.7 2.8 0.8 1.2 0.9-1 0.8 0 0.9-0.8 0.8-0.5 0.9-1.3 0.8-1.1 0.9-1 0.8-0.2 0.9-0.1 0.8 0 0.8-0.4 0.8 1.5 0.8-1.1 0.8 0.8 0.8 1.3 0.8-1.2 0.9 1.5 0.8-0.4 0.8-0.3 0.8 1.3 0.8-0.7 0.8 0.6 0.8-0.7 0.8 1.2 0.8-0.9 0.9 0.5 0.8-0.7 0.9-1.8 0.8-0.1 0.9-0.3 0.8-1.2 0.8-1.2 0.9-1 0.8 0 0.9-0.4 0.8-2.3 0.9 0.7 3-79.7 2.5 1.5 0.8-0.4 0.8 0.1 0.8-1.6 0.8 0.9 0.8 0.5 0.8 0.1 0.8 0.2 0.8-0.5 0.8 0.1 0.8-0.5 0.8-1.3 0.9-1.9 0.8-0.3 0.8-2 0.9-0.9 0.8-1.4 0.8-1.3 0.9-1.9 0.8-0.6 0.8-2.5 0.9-1.5 0.8-0.5 0.8 0.7 0.8 0.1 0.8-0.7 0.8 1 0.8-0.3 0.8-0.7 0.8 0 0.8 0.9 0.8 0.1 0.8 0.2 0.9 0.9 0.8 1.4 0.9 1.8 0.8 0.7 0.9 0.7 0.8 1.5 0.9 2.4 0.8-0.9 0.9 0.6 0.8-0.8 0.8 1.5 0.9-0.2 0.8-0.4 0.8 0.3 0.9 1 0.8-0.9 0.8 0 0.9 0.6 0.8-0.2 0.8 0.4 0.8 0.7 0.8-0.3 0.8 1.7 0.8 1 0.8-2.5 0.8-1.4 0.8-1.4 0.8-0.9 0.8-1.4 0.8-1.2 0.8-1.6 0.8-0.4 0.8-1.1 0.8-2 0.9-0.4 0.8 1.5 0.9-0.7 0.8 1.1 0.9 0.2 0.8 0 0.9 0 0.6 1.7 0.5 1 0.6 1.5 0.6 1 0.6 2.8 0.5 1.6 0.6 1.6 0.6 1.1 0.5 2.5 0.6 1.9 0.6 1.5 0.6 1.2 0.5 0.8 0.6 1.6 0.5 3.4 0.6 0.9 0.5 1.4 0.5 1.6 0.6 0.9 0.5 2.3 0.5 1.6 0.6 2.1 0.5 0.6 0.5 1.3 0.6 2.9 0.5 1.3 0.5 0.9 0.6 1.1 0.5 2.2 2 0.3 2 0 2 0 0.1-1.7 0.1-1.3 0.1-1.2 0.1-2.2 0.1-1.7 0.1-1 0.1-1.9 0.1-1.3 0.1-2 0.1-1.8 0.1-1.4 0.1-1.6 0.1-1.6 0.1-1 0.1-2.7 0.1 0.3 0.1-2.7 0.1-1.3 0.1-3.1 0.1-0.8 0.8 0.1 0.9 0.7 0.8-1.1 0.8 0.1 0.9-0.2 0.8 1.4 0.8-1.4 0.9 0.8 0.8 0.5 0.8 0.4 0.9 0.1 0.8 0 0.8-0.1 0.9 1.1 0.8-0.2 0.8-0.3 0.9-0.5 0.8 1.1 0.8 0 0.9 0.8 0.8-0.1 0.8 0 0.9-0.4 0.8 1.5 0.9-0.4 0.8 1.3 0.9 0.5 0.8-0.5 0.9 1.2 0.8-0.6 0.9 1.2 0.8 1.3 0.9-1.4 0.8 0.2 0.8 0 0.9 0.2 0.8 0.2 0.8 1.1 0.9 0 0.8-1.1 0.8 1.2 0.9 0 0.8-0.3 0.9 1.5 0.8 0.2 0.9 0.4 0.8 1.1 0.9-1.1 0.8 1.2 0.9 1.6 0.8-2.5 0.8 0.5 0.8-0.9 0.8-0.7 0.8-0.5 0.8 0.7 0.9-0.7 0.8 0.6 0.8-0.2 0.9 0.3 0.8-0.8 0.8 0.9 0.9-0.1 0.8 0.7 0.8 0.1 0.9 0.4 0.8-0.5 0.8 1.2 0.9 0.2 0.8 1.5 0.8 0.7 0.9 0 0.8 1.3 0.8-0.3 0.9 1.8 0.8 1.1 0.8 0.1 0.9 1 0.8 0.3 1-0.8 1 0.3 1.6-0.6 1.6 0 1.6 0 1.6 0 1.6 0 1.6 0 1.6 0 1.6 0 1.6 0 1.6 0 1.7 0 1.6 0 1.6 0 1.6 0 1.6 0 1.6 0 1.6 0 1.6 0 1.6 0 1.6 0 1.6 0 1.6 0 1.6 0 1.6 0 1.6 0 1.6 0 1.6 0 1.6 0 1.6 0 1.6 0 1.6 0 1.6 0 1.7 0 1.6 0 1.6 0 1.6 0 1.6 0 1.6 0 1.6 0 1.6 0 1.6 0 1.6 0 1.6 0 1-131.5 0.8-0.2 0.9 1.2 0.8-0.9 0.8-0.6 0.9-0.2 0.8-1.2 0.8-0.4 0.8-1 0.9 0.7 0.8-1.4 0.8-0.1 0.9-0.4 0.8-0.9 0.7 258 0.8 1.6 0.9-0.8 0.8 0.1 0.8 1.2 0.9-1.1 0.8 0.5 0.8-1.1 0.9-0.1 0.8 0.7 0.8-0.6 0.9 0.8 0.8-0.7 0.8-0.2 0.9-0.2 0.8 0.6 0.8-259.7 3.1 258 0.1-1 1.7 0.1 1.6 0 1.7 0 1.7 0 1.6 0 1.7 0 1.7 0 1.6 0 1.7 0 0.4-1.5 0.4-1 0.4-2.9 0.4-1.7 0.4-1.4 1.7 0.5 1.7 0 1.7 0 1.8 0 1.7 0 1.7 0 1.7 0 0.5 2.1 0.5 0.6 0.5 1.8 0.5 1.5 0-255.1 0 2.5 0.1 3.1 0 0.9 0 3.4 0.1-0.9 0 1.7 0 2.6 0.1 1.8 0 0.4 0.9 1.9 0.9 1.1 0.9 3.6 0.8-0.9 0.9-0.7 0.8 0.9 0.8-1.7 0.9 0.6 0.8-2.1 0.8-2.8 0.7-0.3 0.7-1.4 0.8-3 0.7-0.8 0.7-1.5 0.7-1.7 0.8-2.3 0.7-0.9 0.7-1.9 0.5 257.4 0.5 0.2 0.6-2 0.6-2.5 0.5-2.3 0.6-0.7 0.6-2.1 0.6-1.4 0.5-1.2 0.6-2.2 0.6-0.4 0.6-2.2 0.6-1.2 0.5-1.2 0.6-1.9 0.6-2.8 0.6-1.1 0.8 0.2 0.9 0.8 0.8 0 0.8 1.2 0.9-0.2 0.8 1.7 0.9-0.6 0.8 1.5 0.9-0.5 0.8 0.6 0.8 0.4 0.9 0.4 0.8 1.6 0.9 0.7 0.8-0.1 0.9 0.8 0.8-0.2 0.9 1.2 0.8-0.4 0.8-1.8 0.9-1.8 0.8-2.2 0.8 1.1 0.8 0 0.8 0.7 0.9 1.1 0.8 0.3 0.8 0.1 0.8 1.6 0.8-0.2 0.8-0.4 0.9-1.1 0.8 0.3 0.9-2.6 0.8 0.2 0.9-0.4 0.8-0.7 0.8-0.4 0.9-1 0.8-1.6 0.9-0.3 0.8-0.2 0.9-2.1 0.8-0.1 2.3 0.4 2.3 0 0.7 2.3 0.6 1 0.7 2.4 0.6 1.9 0.7 1.3 0.6 2 0.7 1.4 0.8 0.5 0.8-0.2 0.9-0.2 0.8 1.4 0.8 0.8 0.8 0.9 0.8-1.4 0.8 1.4 0.9 0.5 0.8 0.4 0.8 1.5 0.7 1.1 0.7 1.6 0.8 2.6 0.7 0.6 0.7 2.7 0.7-255.9 0 61.8 0.9 3.1 1 2.6 0.9 1 1 2.1 0.9 2.1 0.8-0.1 0.8 1.2 0.8 0.4 0.8 0.2 0.8 0 0.8 0.7 0.8 0.8 0.9-1.2 0.8 0.9 0.9-0.7 0.8-1.1 0.9-0.4 0.8 0.5 0.9-1.2 0.8-0.2 0.9-0.3 0.8-1.1 0.9 0.8 0.8-1.5 0.9-0.2 0.8 0.9 0.8 1.1 0.8-0.3 0.9-0.2 0.8 1.4 0.8-0.8 0.8 1.3 0.8 0.5 0.8-0.3 0.8 0.1 0.8 0.2 0.9 1.2 0.8-0.4 0.8 0.3 0.8 0 0.8 0 0.8-1.8 0.8-0.4 0.8-2.5 0.8-1.3 0.9-1.2 0.8-1.4 0.8-1.3 0.8-0.8 0.8-1.7 0.8-0.9 0.9 0 0.8-0.1 0.9-0.6 0.8-0.3 0.9 0.6 0.8-0.6 0.9 0.2 0.8-0.1 0.9 0.7 0.9 0.4 0.9 1.9 0.9 0.7 0.9 0.6 0.9 0.9 0.8-0.2 0.8 0.5 0.8-1.7 0.9 0.8 0.8-0.8 0.8-0.1 0.8 0.1 0.8-0.8 0.8 0.7 0.8 0.8 0.8 0.9 0.9 0.3 0.8 1.5 0.8-0.7 0.8 1.6 0.8 1.1 0.3 1.2 0.3 1.6 0.3 2 0.3 1.7 0.3 1.2 0.3 3.1 0.3 0.9 0.3 1.8 0.3 0.1 0.3 3.2 0.3 0.7 0.3 2.1 0.4 1.2 0.3 3 0.3 0.4 0.3 2.1 0.3 0.9 0.3 1.8 0.3 1.3 0.3 2.2 0.3 0.7 0.3 2.7 0.3 1.1 0.3 1.6 0.3 2.3 0.2-1.5 0.3-2.3 0.2-0.8 0.2-2.3 0.3-1.9 0.2-0.9 0.2-1.9 0.3-1.6 0.2-2 0.2-1.3 0.2-1.7 0.3-1.2 0.2-2.2 0.2-1.6 0.3-2.5 0.2-0.8 0.9 0.1 0.8 0.4 0.9-0.4 0.8 0.8 0.9-1 0.8-0.2 0.9-0.8 0.8-0.1 0.9-0.2 0.8-0.4 0.9 1 0.8-1.1 0.9 0.8 0.6 1.1 0.6 1.6 0.5 1.9 0.6 1.7 0.6 1.8 0.6 1.4 0.5 2.3 0.6 1.3 0.6 1.8 0.6 1.9 0.5 1.4 0.6 2.2 0.6 1.1 1.7 0.2 1.6 0 1.7 0 1.7 0 1.6 0 1.7 0 1.7 0 1.7 0 1.6 0 1.7 0 0.6 1.3 0.6 1.9 0.5 2.8 0.6 1.2 0.6 1.5 0.5 2.3 0.6 0.8 0.6 0.9 0.6 2.6 0.6 1.1 0.5 1.5 0.6 1.4 0.6 1.7 0.5 2.5 0.6 1.4 0.6 1.2 0.3-1.9 0.4-1.3 0.3-2.5 0.3-1 0.4-1.9 0.3-1.3 0.3-1.5 0.4-2.5 0.3-1.7 0.3-1.4 0.4-0.8 0.3-1.3 0.3-2.3 0.4-1.8 0.3-1.8 0.3-1.3 0.3-1.9 0.4-0.4 0.3-3.1 0.3-1.3 0.4-1.3 0.3-2.3 0.3-1.3 0.4-1.9 0.3-1.9 0.3-2.4 0.4-0.9 0.3-1 0.5 1.4 0.4 2 0.5 1.6 0.5 1.9 0.4 2 0.5 1.5 0.4 1.1 0.5 1.3 0.8 0.6 0.8 0.2 0.8-0.6 0.8-0.7 0.8-0.6 0.8 0.9 0.8 0.3 0.5-1.9 0.4-1.7 0.5-2.1 0.4-0.9 0.5-2.2 0.5-1.5 0.4-2.1 0.5-1.6 0.5-1.8 0.4-0.9 0.5-2 0.4-1.2 0.5-2.7 0.5-1.1 0.4-2.1 0.5-1.8 0.8-0.5 0.9 1.2 0.8-0.7 0.8-0.4 0.8 0.2 0.9-0.2 0.8-0.1 0.8 0.6 0.8-0.1 0.9-0.8 0.8 0.8 0.8-0.9 0.9 0.8 0.8-1 0.8 0.5 0.8-0.7 0.9 1.5 0.8-0.5 0.8-1.3 0.8-0.8 0.9-2.5 0.8-0.8 0.8 0.3 0.8-1 0.9-0.3 0.8-2.2 0.8-1 0.8 0 0.9 1.4 0.8 1 0.8-0.7 0.9 0.9 0.8 1.4 0.8 0.4 0.9 1.7 0.8-0.5 0.8 1.9 0.8 0.9 0.9 2.1 0.8 2.5 0.8 1.2 0.8 1.2 0.9 3.3 0.8 0 0.8 2.2 0.9 0.4 0.8-0.4 0.9 1.2 0.8 0 0.9-1 0.8 0.6 0.9 0 0.8 0.5 0.9-0.1 0.8 0 0.9 0.5 0.8-0.4 0.9 0.5 0.8-1.6 0.9-1.1 0.8-1.3 0.8-0.5 0.9-1 0.8-1.2 0.8-0.6 0.9-0.9 0.8-0.9 0.9-1 0.8-1 0.9 0.5 0.8 0.3 0.9-1 0.8-0.5 0.9 0 0.8-0.6 0.9 0.4 0.8 0 0.9-1.3 0.8-0.4 0.9-0.1 0.8 0.4 0.9 1.9 0.8-0.1 0.8 1.3 0.8 0.4 0.9 1.9 0.8 0 0.8 0.3 0.9 1.5 0.8 0.6 0.8 0.8 0.9 1.5 0.8 0.4 0.9 0.7 0.8 1 0.8 1 0.9 0.2 0.8 1.5 0.9 1.6 0.8-0.1 0.8-0.7 0.8-1.8 0.9-1.5 0.8-1 0.8-2.9 0.8-1.5 0.9-0.7 0.8-1.4 0.8-1.7 0.8 1.3 0.9 0 0.8 1.3 0.8-0.1 0.9 1 0.8 1.2 0.8 0.3 0.9 0.1 0.8 1.4 0.8-0.9 0.8-0.2 0.9 0.2 0.8-0.6 0.8-1.2 0.8 0.8 0.9-0.9 0.8 0.8 0.8-1.2 0.8-0.2 0.9 0.2 0.8-0.5 0.8 0.9 0.4 176.5 0-54.9 1.6 1.5 1.7 0 1.6 0 1.6 0 1.6 0 1.7 0 1.6 0 1.6 0 1.6 0 1.7 0 1.6 0 1.6 0 1.7 0 1.6 0 1.6 0 1.6 0 1.7 0 1.6 0 1.6 0 1.7 0 1.6 0 1.6 0 1.6 0 1.7 0 1.6 0 1.6 0 1.6 0 1.7 0 1.6 0 1.6 0 1.7 0 1.6 0 1.6 0 1.6 0 1.7 0 1.6 0 1.6 0 1.7 0 1.6 0 1.6 0 1.6 0 1.7 0 1.6 0 1.6 0 1.6 0 1.7 0 1.6 0 0.1-1 0.1-2.1 0.1-2.2 0.2-2 0.1-1 0.1-0.8 0.1-3.1 0.5 1.9 0.5 1.9 0.5 2.3 0.5 2 0.5 1.8 0.5 0.7 0.4 1.5 0.5 2.5 0.5 1.2 0.5 1.5 0.5 2.3 0.5 1.9 0.4-2.4 0.4-2 0.3-0.4 0.4-2.7 0.4-0.9 0.4-2.2 0.3-1.4 0.4-2.2 0.4-1.8 0.4 2.8 0.3 0.8 0.4 1.4 0.3 2.5 0.4 2.1 0.3 0.4 0.4 2.1 0.4 1.4 0.3 1.2 0.4 2.2 0.3 2 0.4 1.7 0.3 2 0.4 0.1 0.4 0.3 0.4-2 0.4-1.5 0.5-2.1 0.4-1.9 0.4-1.4 0.4-1.8 0.4-2.5 0.5-0.9 0.4-1.5 0.4-2.4 0.4-1.8 0.8 0.2 0.9-0.7 0.8-0.1 0.9-0.9 0.8 0.1 0.9 0.5 0.9-1.2 0.8-0.6 0.8 2 0.9 1.7 0.8 1.4 0.8 0.7 0.9 3.1 0.8 1.1 1.7-0.1 1.6 0 1.7 0 0.8 1.3 0.9 1.7 0.8 0.1 0.9 2.2 0.8 1.5 0.9 1.3 0.9 0.4 0.8 2.3 0.8-0.9 0.9-0.1 0.8 0.1 0.8-0.4 0.9-1.1 0.8-0.3 0.6-2.5 0.5-0.8 0.6-1.8 0.5-1.4 0.6-2.8 0.5-1.1 0.6-1.5 0.6-1.4 0.5-1.3 0.6-2.7 0.5-0.5 0.6-2.1 0.8 0.7 0.9 1 0.8 1.1 0.9-0.1 0.8 0.7 0.8 2.4 0.9-0.5 0.8 1.9 0.9 0.2 0.8 0.9 0.9-58.8 1.7 1.5 1.6 0 1.7 0 1.7 0 1.7 0 1.7 0 1.6 0 1.7 0 1.7 0 1.6 0 1.7 0 1.7 0" fill="none" stroke="#f01e24" stroke-width="1.0" stroke-linejoin="round" opacity="0.8"/></g>
<path d="M238.7 1193.5v-10.5M238.7 904.9v10.5M352.4 1193.5v-10.5M352.4 904.9v10.5M466.1 1193.5v-10.5M466.1 904.9v10.5M579.8 1193.5v-10.5M579.8 904.9v10.5M693.5 1193.5v-10.5M693.5 904.9v10.5M807.3 1193.5v-10.5M807.3 904.9v10.5M921 1193.5v-10.5M921 904.9v10.5M1034.7 1193.5v-10.5M1034.7 904.9v10.5M1148.4 1193.5v-10.5M1148.4 904.9v10.5M126.4 976.7h10.5M1262 976.7h-10.5M126.4 1048.5h10.5M1262 1048.5h-10.5M126.4 1120.3h10.5M1262 1120.3h-10.5" class="tk"/>
<rect x="126.4" y="904.9" width="1135.6" height="288.6" class="ax"/>
<text transform="translate(129 1223.2) scale(0.955 1.075)" text-anchor="middle" class="tk2">0</text>
<text transform="translate(240.1 1223.2) scale(0.955 1.075)" text-anchor="middle" class="tk2">1000</text>
<text transform="translate(353.8 1223.2) scale(0.955 1.075)" text-anchor="middle" class="tk2">2000</text>
<text transform="translate(467.5 1223.2) scale(0.955 1.075)" text-anchor="middle" class="tk2">3000</text>
<text transform="translate(581.2 1223.2) scale(0.955 1.075)" text-anchor="middle" class="tk2">4000</text>
<text transform="translate(694.9 1223.2) scale(0.955 1.075)" text-anchor="middle" class="tk2">5000</text>
<text transform="translate(808.7 1223.2) scale(0.955 1.075)" text-anchor="middle" class="tk2">6000</text>
<text transform="translate(922.4 1223.2) scale(0.955 1.075)" text-anchor="middle" class="tk2">7000</text>
<text transform="translate(1036.1 1223.2) scale(0.955 1.075)" text-anchor="middle" class="tk2">8000</text>
<text transform="translate(1149.8 1223.2) scale(0.955 1.075)" text-anchor="middle" class="tk2">9000</text>
<text transform="translate(1263.5 1223.2) scale(0.955 1.075)" text-anchor="middle" class="tk2">10000</text>
<text transform="translate(121.9 915.9) scale(0.955 1.03)" text-anchor="end" class="tk2">200</text>
<text transform="translate(121.9 987.7) scale(0.955 1.03)" text-anchor="end" class="tk2">100</text>
<text transform="translate(121.9 1059.5) scale(0.955 1.03)" text-anchor="end" class="tk2">0</text>
<text transform="translate(121.9 1131.3) scale(0.955 1.03)" text-anchor="end" class="tk2">-100</text>
<text transform="translate(121.9 1204.6) scale(0.955 1.03)" text-anchor="end" class="tk2">-200</text>
<text transform="translate(55.9 1049.2) rotate(-90)" text-anchor="middle" class="tt">Yaw (degree)</text>
<text x="693.2" y="1255.5" text-anchor="middle" class="tt">Time (s)</text>
<rect x="1047.6" y="140.5" width="197.8" height="76.4" fill="#fff" class="ax"/>
<circle cx="1089.3" cy="161" r="3" fill="none" stroke="#2b3a8e" stroke-width="1" opacity="0.8"/>
<line x1="1059.3" y1="195.4" x2="1119.1" y2="195.4" stroke="#f01e24" stroke-width="1" opacity="0.75"/>
<text transform="translate(1125 172.6) scale(1.04 1.06)" class="lg">GNSS</text>
<text transform="translate(1125 209.6) scale(1.0 1.06)" class="lg">Reference</text>
<rect x="1047.6" y="527.8" width="197.8" height="76.8" fill="#fff" class="ax"/>
<circle cx="1089.3" cy="548.5" r="3" fill="none" stroke="#2b3a8e" stroke-width="1" opacity="0.8"/>
<line x1="1059.3" y1="582.6" x2="1119.1" y2="582.6" stroke="#f01e24" stroke-width="1" opacity="0.75"/>
<text transform="translate(1125 560) scale(1.04 1.06)" class="lg">GNSS</text>
<text transform="translate(1125 597.1) scale(1.0 1.06)" class="lg">Reference</text>
<rect x="1053.5" y="915.1" width="199.6" height="77.5" fill="#fff" class="ax"/>
<circle cx="1095.7" cy="936.3" r="3" fill="none" stroke="#2b3a8e" stroke-width="1" opacity="0.8"/>
<line x1="1065.7" y1="970" x2="1125.8" y2="970" stroke="#f01e24" stroke-width="1" opacity="0.75"/>
<text transform="translate(1132 947.5) scale(1.04 1.06)" class="lg">GNSS</text>
<text transform="translate(1132 984.6) scale(1.0 1.06)" class="lg">Reference</text>
</svg></body></html>
